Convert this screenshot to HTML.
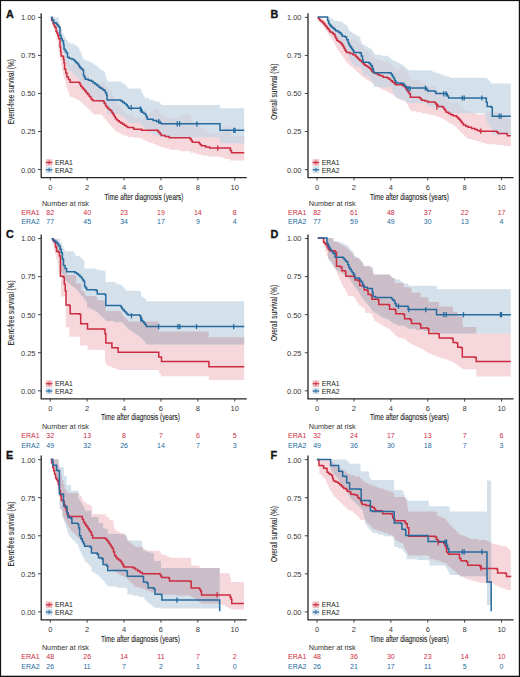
<!DOCTYPE html>
<html><head><meta charset="utf-8"><style>
html,body{margin:0;padding:0;background:#fff;}
#wrap{position:relative;width:520px;height:677px;overflow:hidden;}
svg{position:absolute;left:0;top:0;font-family:"Liberation Sans", sans-serif;}
</style></head><body><div id="wrap">
<svg width="520" height="677" viewBox="0 0 520 677">
<rect x="0" y="0" width="520" height="677" fill="#fff"/>
<g transform="translate(0 0)">
<text x="6.1" y="17.8" font-size="10.8" font-weight="bold" fill="#111" stroke="#111" stroke-width="0.3">A</text>
<text x="35.5" y="172.5" font-size="7.5" fill="#3a3a3a" text-anchor="end">0.00</text>
<line x1="38" x2="41.2" y1="169.6" y2="169.6" stroke="#333" stroke-width="0.9"/>
<text x="35.5" y="134.44" font-size="7.5" fill="#3a3a3a" text-anchor="end">0.25</text>
<line x1="38" x2="41.2" y1="131.54" y2="131.54" stroke="#333" stroke-width="0.9"/>
<text x="35.5" y="96.38" font-size="7.5" fill="#3a3a3a" text-anchor="end">0.50</text>
<line x1="38" x2="41.2" y1="93.47" y2="93.47" stroke="#333" stroke-width="0.9"/>
<text x="35.5" y="58.31" font-size="7.5" fill="#3a3a3a" text-anchor="end">0.75</text>
<line x1="38" x2="41.2" y1="55.41" y2="55.41" stroke="#333" stroke-width="0.9"/>
<text x="35.5" y="20.25" font-size="7.5" fill="#3a3a3a" text-anchor="end">1.00</text>
<line x1="38" x2="41.2" y1="17.35" y2="17.35" stroke="#333" stroke-width="0.9"/>
<line x1="50.25" x2="50.25" y1="177.6" y2="180.4" stroke="#333" stroke-width="0.9"/>
<text x="50.25" y="189.6" font-size="7.5" fill="#3a3a3a" text-anchor="middle">0</text>
<line x1="87.15" x2="87.15" y1="177.6" y2="180.4" stroke="#333" stroke-width="0.9"/>
<text x="87.15" y="189.6" font-size="7.5" fill="#3a3a3a" text-anchor="middle">2</text>
<line x1="124.05" x2="124.05" y1="177.6" y2="180.4" stroke="#333" stroke-width="0.9"/>
<text x="124.05" y="189.6" font-size="7.5" fill="#3a3a3a" text-anchor="middle">4</text>
<line x1="160.95" x2="160.95" y1="177.6" y2="180.4" stroke="#333" stroke-width="0.9"/>
<text x="160.95" y="189.6" font-size="7.5" fill="#3a3a3a" text-anchor="middle">6</text>
<line x1="197.85" x2="197.85" y1="177.6" y2="180.4" stroke="#333" stroke-width="0.9"/>
<text x="197.85" y="189.6" font-size="7.5" fill="#3a3a3a" text-anchor="middle">8</text>
<line x1="234.75" x2="234.75" y1="177.6" y2="180.4" stroke="#333" stroke-width="0.9"/>
<text x="234.75" y="189.6" font-size="7.5" fill="#3a3a3a" text-anchor="middle">10</text>
</g>
<g>
<clipPath id="clipA"><path d="M50.8 17.35L51.9 17.35L51.9 17.35L53 17.35L53 17.35L53.1 17.35L53.1 18.67L53.95 18.67L53.95 19.87L54.2 19.87L54.2 19.38L54.8 19.38L54.8 20.78L55.4 20.78L55.4 20.41L56 20.41L56 24.31L56.6 24.31L56.6 22.83L56.85 22.83L56.85 24.69L57.7 24.69L57.7 24.46L57.8 24.46L57.8 24.46L58.3 24.46L58.3 25.13L58.65 25.13L58.65 24.04L58.8 24.04L58.8 26.56L59.5 26.56L59.5 25.67L60 25.67L60 33.89L60.4 33.89L60.4 33.21L60.6 33.21L60.6 37.69L61.1 37.69L61.1 42.23L61.3 42.23L61.3 42.23L62.2 42.23L62.2 41.14L62.9 41.14L62.9 41.31L63.1 41.31L63.1 40.83L63.5 40.83L63.5 44.14L64 44.14L64 47.67L64.25 47.67L64.25 47.18L64.6 47.18L64.6 53.73L65.4 53.73L65.4 53.27L65.75 53.27L65.75 57.26L66.67 57.26L66.67 56.23L66.9 56.23L66.9 60.75L67.93 60.75L67.93 60.09L68.45 60.09L68.45 63.12L69.2 63.12L69.2 62.77L70 62.77L70 65.67L71.1 65.67L71.1 64.51L73 64.51L73 63.3L75.33 63.3L75.33 61.95L77.67 61.95L77.67 61.2L79.2 61.2L79.2 61.53L80 61.53L80 63.59L80.8 63.59L80.8 65.64L81.15 65.64L81.15 65.65L82.07 65.65L82.07 67.62L82.3 67.62L82.3 67.62L83.33 67.62L83.33 69.68L83.45 69.68L83.45 69.68L84.6 69.68L84.6 71.93L86.07 71.93L86.07 72.06L86.15 72.06L86.15 74.41L87.53 74.41L87.53 74.38L87.7 74.38L87.7 76.71L89 76.71L89 76.64L89.25 76.64L89.25 79.02L90.37 79.02L90.37 78.94L90.8 78.94L90.8 81.32L91.73 81.32L91.73 81.2L91.95 81.2L91.95 82.63L93.1 82.63L93.1 83.85L101.5 83.85L101.5 81.71L103.05 81.71L103.05 81.23L103.1 81.23L103.1 81.55L104.25 81.55L104.25 83.8L104.6 83.8L104.6 83.54L105.4 83.54L105.4 85.99L105.75 85.99L105.75 85.68L106.55 85.68L106.55 87.12L106.9 87.12L106.9 87.12L107.7 87.12L107.7 88.69L108.05 88.69L108.05 88.69L109.2 88.69L109.2 88.26L109.25 88.26L109.25 89.79L110.55 89.79L110.55 89.48L110.8 89.48L110.8 91.01L111.9 91.01L111.9 90.86L111.95 90.86L111.95 93.41L113.1 93.41L113.1 95.83L113.25 95.83L113.25 95.83L114.25 95.83L114.25 98.45L114.6 98.45L114.6 98.5L115.4 98.5L115.4 101.18L116.55 101.18L116.55 103.02L116.55 103.02L116.55 103.02L117.7 103.02L117.7 104.75L118.5 104.75L118.5 104.84L119.25 104.84L119.25 106.55L120.8 106.55L120.8 108.33L122.7 108.33L122.7 110.12L123.1 110.12L123.1 110.18L124.6 110.18L124.6 111.83L126.15 111.83L126.15 113.23L127.7 113.23L127.7 114.6L133.1 114.6L133.1 115.77L133.8 115.77L133.8 117.75L133.85 117.75L133.85 117.75L140 117.75L140 117.52L141.5 117.52L141.5 118.35L142.5 118.35L142.5 117.86L145 117.86L145 116.3L147.5 116.3L147.5 114.36L150 114.36L150 112.3L153.2 112.3L153.2 109.34L156.4 109.34L156.4 107.94L157.7 107.94L157.7 109.09L158.87 109.09L158.87 111.18L159.6 111.18L159.6 111.12L160.03 111.12L160.03 113.34L161.2 113.34L161.2 115.55L164.4 115.55L164.4 115.74L165.2 115.74L165.2 117.47L169.2 117.47L169.2 118.22L179.8 118.22L179.8 115.11L190 115.11L190 115.69L190.4 115.69L190.4 115.75L191.15 115.75L191.15 118.9L192.3 118.9L192.3 122.01L195.7 122.01L195.7 122.22L199.2 122.22L199.2 124.28L200.35 124.28L200.35 126.3L201 126.3L201 126.34L201.5 126.34L201.5 128.38L205.55 128.38L205.55 131.3L207.7 131.3L207.7 131.42L209.6 131.42L209.6 133.3L219.2 133.3L219.2 130.5L224.5 130.5L224.5 126.31L229.2 126.31L229.2 125.89L229.8 125.89L229.8 126.08L230.35 126.08L230.35 130.92L231.5 130.92L231.5 135.95L244.2 135.95L244.2 138.56L244.2 160.4L244.2 160.4L231.5 160.4L231.5 160.4L230.35 160.4L230.35 160.4L229.8 160.4L229.8 158.95L229.2 158.95L229.2 158.95L224.5 158.95L224.5 157.5L219.2 157.5L219.2 156.5L209.6 156.5L209.6 156.5L207.7 156.5L207.7 155.6L205.55 155.6L205.55 155.6L201.5 155.6L201.5 155.6L201 155.6L201 154.15L200.35 154.15L200.35 154.15L199.2 154.15L199.2 154.15L195.7 154.15L195.7 152.7L192.3 152.7L192.3 152.7L191.15 152.7L191.15 152.7L190.4 152.7L190.4 151.25L190 151.25L190 151.25L179.8 151.25L179.8 149.8L169.2 149.8L169.2 148.35L165.2 148.35L165.2 148.35L164.4 148.35L164.4 146.9L161.2 146.9L161.2 146.9L160.03 146.9L160.03 146.9L159.6 146.9L159.6 145.63L158.87 145.63L158.87 145.63L157.7 145.63L157.7 145.63L156.4 145.63L156.4 144.37L153.2 144.37L153.2 143.1L150 143.1L150 141.95L147.5 141.95L147.5 140.8L145 140.8L145 139.65L142.5 139.65L142.5 138.5L141.5 138.5L141.5 138.5L140 138.5L140 137.7L133.85 137.7L133.85 136.9L133.8 136.9L133.8 136.9L133.1 136.9L133.1 136.9L127.7 136.9L127.7 135.4L126.15 135.4L126.15 135.4L124.6 135.4L124.6 135.4L123.1 135.4L123.1 134.25L122.7 134.25L122.7 134.25L120.8 134.25L120.8 133.1L119.25 133.1L119.25 133.1L118.5 133.1L118.5 131.95L117.7 131.95L117.7 131.95L116.55 131.95L116.55 131.95L116.55 131.95L116.55 130.8L115.4 130.8L115.4 130.8L114.6 130.8L114.6 129.25L114.25 129.25L114.25 129.25L113.25 129.25L113.25 127.7L113.1 127.7L113.1 127.7L111.95 127.7L111.95 127.7L111.9 127.7L111.9 126.15L110.8 126.15L110.8 126.15L110.55 126.15L110.55 124.6L109.25 124.6L109.25 124.6L109.2 124.6L109.2 123.25L108.05 123.25L108.05 121.9L107.7 121.9L107.7 121.9L106.9 121.9L106.9 120.55L106.55 120.55L106.55 120.55L105.75 120.55L105.75 119.2L105.4 119.2L105.4 119.2L104.6 119.2L104.6 117.3L104.25 117.3L104.25 117.3L103.1 117.3L103.1 117.3L103.05 117.3L103.05 115.4L101.5 115.4L101.5 114.6L93.1 114.6L93.1 113.07L91.95 113.07L91.95 113.07L91.73 113.07L91.73 111.53L90.8 111.53L90.8 111.53L90.37 111.53L90.37 110L89.25 110L89.25 110L89 110L89 108.73L87.7 108.73L87.7 108.73L87.53 108.73L87.53 107.47L86.15 107.47L86.15 107.47L86.07 107.47L86.07 106.2L84.6 106.2L84.6 105.03L83.45 105.03L83.45 103.85L83.33 103.85L83.33 103.85L82.3 103.85L82.3 102.67L82.07 102.67L82.07 102.67L81.15 102.67L81.15 101.5L80.8 101.5L80.8 101.5L80 101.5L80 100.33L79.2 100.33L79.2 100.33L77.67 100.33L77.67 99.17L75.33 99.17L75.33 98L73 98L73 97.1L71.1 97.1L71.1 96.2L70 96.2L70 96.2L69.2 96.2L69.2 92.33L68.45 92.33L68.45 92.33L67.93 92.33L67.93 88.47L66.9 88.47L66.9 88.47L66.67 88.47L66.67 84.6L65.75 84.6L65.75 84.6L65.4 84.6L65.4 80L64.6 80L64.6 80L64.25 80L64.25 75.4L64 75.4L64 75.4L63.5 75.4L63.5 75.4L63.1 75.4L63.1 70.95L62.9 70.95L62.9 70.95L62.2 70.95L62.2 66.5L61.3 66.5L61.3 60.75L61.1 60.75L61.1 60.75L60.6 60.75L60.6 60.75L60.4 60.75L60.4 55L60 55L60 55L59.5 55L59.5 50.95L58.8 50.95L58.8 50.95L58.65 50.95L58.65 46.9L58.3 46.9L58.3 46.9L57.8 46.9L57.8 40L57.7 40L57.7 40L56.85 40L56.85 40L56.6 40L56.6 34.67L56 34.67L56 34.67L55.4 34.67L55.4 29.33L54.8 29.33L54.8 29.33L54.2 29.33L54.2 24L53.95 24L53.95 24L53.1 24L53.1 24L53 24L53 20.7L51.9 20.7L51.9 17.4L50.8 17.4Z"/></clipPath>
<path d="M50.8 17.35L51.9 17.35L51.9 17.35L53 17.35L53 17.35L53.1 17.35L53.1 18.67L53.95 18.67L53.95 19.87L54.2 19.87L54.2 19.38L54.8 19.38L54.8 20.78L55.4 20.78L55.4 20.41L56 20.41L56 24.31L56.6 24.31L56.6 22.83L56.85 22.83L56.85 24.69L57.7 24.69L57.7 24.46L57.8 24.46L57.8 24.46L58.3 24.46L58.3 25.13L58.65 25.13L58.65 24.04L58.8 24.04L58.8 26.56L59.5 26.56L59.5 25.67L60 25.67L60 33.89L60.4 33.89L60.4 33.21L60.6 33.21L60.6 37.69L61.1 37.69L61.1 42.23L61.3 42.23L61.3 42.23L62.2 42.23L62.2 41.14L62.9 41.14L62.9 41.31L63.1 41.31L63.1 40.83L63.5 40.83L63.5 44.14L64 44.14L64 47.67L64.25 47.67L64.25 47.18L64.6 47.18L64.6 53.73L65.4 53.73L65.4 53.27L65.75 53.27L65.75 57.26L66.67 57.26L66.67 56.23L66.9 56.23L66.9 60.75L67.93 60.75L67.93 60.09L68.45 60.09L68.45 63.12L69.2 63.12L69.2 62.77L70 62.77L70 65.67L71.1 65.67L71.1 64.51L73 64.51L73 63.3L75.33 63.3L75.33 61.95L77.67 61.95L77.67 61.2L79.2 61.2L79.2 61.53L80 61.53L80 63.59L80.8 63.59L80.8 65.64L81.15 65.64L81.15 65.65L82.07 65.65L82.07 67.62L82.3 67.62L82.3 67.62L83.33 67.62L83.33 69.68L83.45 69.68L83.45 69.68L84.6 69.68L84.6 71.93L86.07 71.93L86.07 72.06L86.15 72.06L86.15 74.41L87.53 74.41L87.53 74.38L87.7 74.38L87.7 76.71L89 76.71L89 76.64L89.25 76.64L89.25 79.02L90.37 79.02L90.37 78.94L90.8 78.94L90.8 81.32L91.73 81.32L91.73 81.2L91.95 81.2L91.95 82.63L93.1 82.63L93.1 83.85L101.5 83.85L101.5 81.71L103.05 81.71L103.05 81.23L103.1 81.23L103.1 81.55L104.25 81.55L104.25 83.8L104.6 83.8L104.6 83.54L105.4 83.54L105.4 85.99L105.75 85.99L105.75 85.68L106.55 85.68L106.55 87.12L106.9 87.12L106.9 87.12L107.7 87.12L107.7 88.69L108.05 88.69L108.05 88.69L109.2 88.69L109.2 88.26L109.25 88.26L109.25 89.79L110.55 89.79L110.55 89.48L110.8 89.48L110.8 91.01L111.9 91.01L111.9 90.86L111.95 90.86L111.95 93.41L113.1 93.41L113.1 95.83L113.25 95.83L113.25 95.83L114.25 95.83L114.25 98.45L114.6 98.45L114.6 98.5L115.4 98.5L115.4 101.18L116.55 101.18L116.55 103.02L116.55 103.02L116.55 103.02L117.7 103.02L117.7 104.75L118.5 104.75L118.5 104.84L119.25 104.84L119.25 106.55L120.8 106.55L120.8 108.33L122.7 108.33L122.7 110.12L123.1 110.12L123.1 110.18L124.6 110.18L124.6 111.83L126.15 111.83L126.15 113.23L127.7 113.23L127.7 114.6L133.1 114.6L133.1 115.77L133.8 115.77L133.8 117.75L133.85 117.75L133.85 117.75L140 117.75L140 117.52L141.5 117.52L141.5 118.35L142.5 118.35L142.5 117.86L145 117.86L145 116.3L147.5 116.3L147.5 114.36L150 114.36L150 112.3L153.2 112.3L153.2 109.34L156.4 109.34L156.4 107.94L157.7 107.94L157.7 109.09L158.87 109.09L158.87 111.18L159.6 111.18L159.6 111.12L160.03 111.12L160.03 113.34L161.2 113.34L161.2 115.55L164.4 115.55L164.4 115.74L165.2 115.74L165.2 117.47L169.2 117.47L169.2 118.22L179.8 118.22L179.8 115.11L190 115.11L190 115.69L190.4 115.69L190.4 115.75L191.15 115.75L191.15 118.9L192.3 118.9L192.3 122.01L195.7 122.01L195.7 122.22L199.2 122.22L199.2 124.28L200.35 124.28L200.35 126.3L201 126.3L201 126.34L201.5 126.34L201.5 128.38L205.55 128.38L205.55 131.3L207.7 131.3L207.7 131.42L209.6 131.42L209.6 133.3L219.2 133.3L219.2 130.5L224.5 130.5L224.5 126.31L229.2 126.31L229.2 125.89L229.8 125.89L229.8 126.08L230.35 126.08L230.35 130.92L231.5 130.92L231.5 135.95L244.2 135.95L244.2 138.56L244.2 160.4L244.2 160.4L231.5 160.4L231.5 160.4L230.35 160.4L230.35 160.4L229.8 160.4L229.8 158.95L229.2 158.95L229.2 158.95L224.5 158.95L224.5 157.5L219.2 157.5L219.2 156.5L209.6 156.5L209.6 156.5L207.7 156.5L207.7 155.6L205.55 155.6L205.55 155.6L201.5 155.6L201.5 155.6L201 155.6L201 154.15L200.35 154.15L200.35 154.15L199.2 154.15L199.2 154.15L195.7 154.15L195.7 152.7L192.3 152.7L192.3 152.7L191.15 152.7L191.15 152.7L190.4 152.7L190.4 151.25L190 151.25L190 151.25L179.8 151.25L179.8 149.8L169.2 149.8L169.2 148.35L165.2 148.35L165.2 148.35L164.4 148.35L164.4 146.9L161.2 146.9L161.2 146.9L160.03 146.9L160.03 146.9L159.6 146.9L159.6 145.63L158.87 145.63L158.87 145.63L157.7 145.63L157.7 145.63L156.4 145.63L156.4 144.37L153.2 144.37L153.2 143.1L150 143.1L150 141.95L147.5 141.95L147.5 140.8L145 140.8L145 139.65L142.5 139.65L142.5 138.5L141.5 138.5L141.5 138.5L140 138.5L140 137.7L133.85 137.7L133.85 136.9L133.8 136.9L133.8 136.9L133.1 136.9L133.1 136.9L127.7 136.9L127.7 135.4L126.15 135.4L126.15 135.4L124.6 135.4L124.6 135.4L123.1 135.4L123.1 134.25L122.7 134.25L122.7 134.25L120.8 134.25L120.8 133.1L119.25 133.1L119.25 133.1L118.5 133.1L118.5 131.95L117.7 131.95L117.7 131.95L116.55 131.95L116.55 131.95L116.55 131.95L116.55 130.8L115.4 130.8L115.4 130.8L114.6 130.8L114.6 129.25L114.25 129.25L114.25 129.25L113.25 129.25L113.25 127.7L113.1 127.7L113.1 127.7L111.95 127.7L111.95 127.7L111.9 127.7L111.9 126.15L110.8 126.15L110.8 126.15L110.55 126.15L110.55 124.6L109.25 124.6L109.25 124.6L109.2 124.6L109.2 123.25L108.05 123.25L108.05 121.9L107.7 121.9L107.7 121.9L106.9 121.9L106.9 120.55L106.55 120.55L106.55 120.55L105.75 120.55L105.75 119.2L105.4 119.2L105.4 119.2L104.6 119.2L104.6 117.3L104.25 117.3L104.25 117.3L103.1 117.3L103.1 117.3L103.05 117.3L103.05 115.4L101.5 115.4L101.5 114.6L93.1 114.6L93.1 113.07L91.95 113.07L91.95 113.07L91.73 113.07L91.73 111.53L90.8 111.53L90.8 111.53L90.37 111.53L90.37 110L89.25 110L89.25 110L89 110L89 108.73L87.7 108.73L87.7 108.73L87.53 108.73L87.53 107.47L86.15 107.47L86.15 107.47L86.07 107.47L86.07 106.2L84.6 106.2L84.6 105.03L83.45 105.03L83.45 103.85L83.33 103.85L83.33 103.85L82.3 103.85L82.3 102.67L82.07 102.67L82.07 102.67L81.15 102.67L81.15 101.5L80.8 101.5L80.8 101.5L80 101.5L80 100.33L79.2 100.33L79.2 100.33L77.67 100.33L77.67 99.17L75.33 99.17L75.33 98L73 98L73 97.1L71.1 97.1L71.1 96.2L70 96.2L70 96.2L69.2 96.2L69.2 92.33L68.45 92.33L68.45 92.33L67.93 92.33L67.93 88.47L66.9 88.47L66.9 88.47L66.67 88.47L66.67 84.6L65.75 84.6L65.75 84.6L65.4 84.6L65.4 80L64.6 80L64.6 80L64.25 80L64.25 75.4L64 75.4L64 75.4L63.5 75.4L63.5 75.4L63.1 75.4L63.1 70.95L62.9 70.95L62.9 70.95L62.2 70.95L62.2 66.5L61.3 66.5L61.3 60.75L61.1 60.75L61.1 60.75L60.6 60.75L60.6 60.75L60.4 60.75L60.4 55L60 55L60 55L59.5 55L59.5 50.95L58.8 50.95L58.8 50.95L58.65 50.95L58.65 46.9L58.3 46.9L58.3 46.9L57.8 46.9L57.8 40L57.7 40L57.7 40L56.85 40L56.85 40L56.6 40L56.6 34.67L56 34.67L56 34.67L55.4 34.67L55.4 29.33L54.8 29.33L54.8 29.33L54.2 29.33L54.2 24L53.95 24L53.95 24L53.1 24L53.1 24L53 24L53 20.7L51.9 20.7L51.9 17.4L50.8 17.4Z" fill="#f6d7dc" stroke="none"/>
<path d="M50.8 17.4L52.25 17.4L52.25 17.4L53.7 17.4L53.7 17.4L56 17.4L56 17.4L56.85 17.4L56.85 17.4L57.7 17.4L57.7 17.4L58.55 17.4L58.55 17.4L58.8 17.4L58.8 21L59.4 21L59.4 27.3L60 27.3L60 27.3L60.25 27.3L60.25 28.15L61.1 28.15L61.1 29L62.3 29L62.3 33.1L63.5 33.1L63.5 35.4L64 35.4L64 35.4L64.6 35.4L64.6 37.7L65.2 37.7L65.2 37.7L66.05 37.7L66.05 40L66.3 40L66.3 40L67.5 40L67.5 42.3L69.2 42.3L69.2 42.3L70.4 42.3L70.4 43.4L72.1 43.4L72.1 43.4L73.8 43.4L73.8 44.6L74.4 44.6L74.4 44.6L75.25 44.6L75.25 44.6L75.85 44.6L75.85 46.05L76.1 46.05L76.1 46.05L77 46.05L77 46.05L77.9 46.05L77.9 47.5L78.75 47.5L78.75 47.5L79.35 47.5L79.35 50.65L79.6 50.65L79.6 50.65L80.45 50.65L80.45 50.65L80.8 50.65L80.8 53.8L81.3 53.8L81.3 53.8L81.95 53.8L81.95 56.7L82.5 56.7L82.5 56.7L83.1 56.7L83.1 59.6L83.5 59.6L83.5 59.6L84.45 59.6L84.45 59.6L85.4 59.6L85.4 59.6L86.05 59.6L86.05 60.8L88.3 60.8L88.3 60.8L89 60.8L89 62L91.2 62L91.2 63.1L93.1 63.1L93.1 63.1L93.4 63.1L93.4 64.2L95 64.2L95 64.2L95.15 64.2L95.15 65.35L96.9 65.35L96.9 66.5L98.45 66.5L98.45 68.15L98.8 68.15L98.8 68.15L99.95 68.15L99.95 68.15L100 68.15L100 69.8L101.1 69.8L101.1 69.8L101.95 69.8L101.95 70.85L102.75 70.85L102.75 70.85L103.9 70.85L103.9 71.9L104.4 71.9L104.4 71.9L105.2 71.9L105.2 76.2L105.45 76.2L105.45 76.2L106.5 76.2L106.5 80.1L107.1 80.1L107.1 80.1L107.8 80.1L107.8 81.4L120.6 81.4L120.6 81.4L120.8 81.4L120.8 81.4L121.6 81.4L121.6 83.2L122.4 83.2L122.4 83.2L124.2 83.2L124.2 84.5L126 84.5L126 85.8L126.85 85.8L126.85 87.1L127.3 87.1L127.3 87.1L127.7 87.1L127.7 88.4L128.6 88.4L128.6 88.4L140.1 88.4L140.1 88.4L140.7 88.4L140.7 89.2L140.8 89.2L140.8 89.2L141.5 89.2L141.5 92.7L142.1 92.7L142.1 92.7L142.6 92.7L142.6 94.5L143.7 94.5L143.7 96.3L143.8 96.3L143.8 96.3L144.8 96.3L144.8 98.1L145.5 98.1L145.5 98.1L146.4 98.1L146.4 98.1L147.3 98.1L147.3 98.1L148.85 98.1L148.85 99.45L152.9 99.45L152.9 100.8L153.1 100.8L153.1 100.8L156.25 100.8L156.25 101.8L156.55 101.8L156.55 101.8L159.6 101.8L159.6 102.8L160 102.8L160 102.8L160.4 102.8L160.4 103.85L161.2 103.85L161.2 104.9L218.8 104.9L218.8 104.9L220 104.9L220 108.2L244.2 108.2L244.2 108.2L244.2 144.45L244.2 143.32L220 143.32L220 138.68L218.8 138.68L218.8 137.19L161.2 137.19L161.2 136.4L160.4 136.4L160.4 136.39L160 136.39L160 135.57L159.6 135.57L159.6 135.48L156.55 135.48L156.55 134.64L156.25 134.64L156.25 134.53L153.1 134.53L153.1 133.66L152.9 133.66L152.9 132.87L148.85 132.87L148.85 132.55L147.3 132.55L147.3 130.77L146.4 130.77L146.4 128.99L145.5 128.99L145.5 127.86L144.8 127.86L144.8 127.6L143.8 127.6L143.8 126.59L143.7 126.59L143.7 126.32L142.6 126.32L142.6 126.18L142.1 126.18L142.1 124.44L141.5 124.44L141.5 124.39L140.8 124.39L140.8 122.86L140.7 122.86L140.7 122.86L140.1 122.86L140.1 122.63L128.6 122.63L128.6 121.19L127.7 121.19L127.7 121.11L127.3 121.11L127.3 119.72L126.85 119.72L126.85 119.58L126 119.58L126 118.33L124.2 118.33L124.2 117.03L122.4 117.03L122.4 115.96L121.6 115.96L121.6 115.89L120.8 115.89L120.8 115.89L120.6 115.89L120.6 113.99L107.8 113.99L107.8 113.89L107.1 113.89L107.1 109.58L106.5 109.58L106.5 107.62L105.45 107.62L105.45 105.88L105.2 105.88L105.2 105.64L104.4 105.64L104.4 104.67L103.9 104.67L103.9 104.44L102.75 104.44L102.75 103.35L101.95 103.35L101.95 103.31L101.1 103.31L101.1 102.79L100 102.79L100 102.79L99.95 102.79L99.95 102.14L98.8 102.14L98.8 100.91L98.45 100.91L98.45 100.75L96.9 100.75L96.9 99.4L95.15 99.4L95.15 99.35L95 99.35L95 98.04L93.4 98.04L93.4 98.04L93.1 98.04L93.1 96.64L91.2 96.64L91.2 95.44L89 95.44L89 95.25L88.3 95.25L88.3 93.27L86.05 93.27L86.05 93.09L85.4 93.09L85.4 91.15L84.45 91.15L84.45 89.22L83.5 89.22L83.5 84.52L83.1 84.52L83.1 84.17L82.5 84.17L82.5 82.96L81.95 82.96L81.95 82.76L81.3 82.76L81.3 81.83L80.8 81.83L80.8 81.62L80.45 81.62L80.45 80.67L79.6 80.67L79.6 79.22L79.35 79.22L79.35 79.08L78.75 79.08L78.75 77.66L77.9 77.66L77.9 77.04L77 77.04L77 76.34L76.1 76.34L76.1 75.57L75.85 75.57L75.85 75.56L75.25 75.56L75.25 74.69L74.4 74.69L74.4 73.66L73.8 73.66L73.8 73.37L72.1 73.37L72.1 71.56L70.4 71.56L70.4 71.2L69.2 71.2L69.2 69.01L67.5 69.01L67.5 64.24L66.3 64.24L66.3 62.29L66.05 62.29L66.05 61.92L65.2 61.92L65.2 59.89L64.6 59.89L64.6 58.76L64 58.76L64 54.07L63.5 54.07L63.5 49.99L62.3 49.99L62.3 47.02L61.1 47.02L61.1 43.11L60.25 43.11L60.25 42.74L60 42.74L60 34.69L59.4 34.69L59.4 33.47L58.8 33.47L58.8 33.47L58.55 33.47L58.55 31.98L57.7 31.98L57.7 30.26L56.85 30.26L56.85 28.28L56 28.28L56 27.45L53.7 27.45L53.7 24.46L52.25 24.46L52.25 21.2L50.8 21.2Z" fill="#d5e1ea" stroke="none"/>
<path d="M50.8 17.4L52.25 17.4L52.25 17.4L53.7 17.4L53.7 17.4L56 17.4L56 17.4L56.85 17.4L56.85 17.4L57.7 17.4L57.7 17.4L58.55 17.4L58.55 17.4L58.8 17.4L58.8 21L59.4 21L59.4 27.3L60 27.3L60 27.3L60.25 27.3L60.25 28.15L61.1 28.15L61.1 29L62.3 29L62.3 33.1L63.5 33.1L63.5 35.4L64 35.4L64 35.4L64.6 35.4L64.6 37.7L65.2 37.7L65.2 37.7L66.05 37.7L66.05 40L66.3 40L66.3 40L67.5 40L67.5 42.3L69.2 42.3L69.2 42.3L70.4 42.3L70.4 43.4L72.1 43.4L72.1 43.4L73.8 43.4L73.8 44.6L74.4 44.6L74.4 44.6L75.25 44.6L75.25 44.6L75.85 44.6L75.85 46.05L76.1 46.05L76.1 46.05L77 46.05L77 46.05L77.9 46.05L77.9 47.5L78.75 47.5L78.75 47.5L79.35 47.5L79.35 50.65L79.6 50.65L79.6 50.65L80.45 50.65L80.45 50.65L80.8 50.65L80.8 53.8L81.3 53.8L81.3 53.8L81.95 53.8L81.95 56.7L82.5 56.7L82.5 56.7L83.1 56.7L83.1 59.6L83.5 59.6L83.5 59.6L84.45 59.6L84.45 59.6L85.4 59.6L85.4 59.6L86.05 59.6L86.05 60.8L88.3 60.8L88.3 60.8L89 60.8L89 62L91.2 62L91.2 63.1L93.1 63.1L93.1 63.1L93.4 63.1L93.4 64.2L95 64.2L95 64.2L95.15 64.2L95.15 65.35L96.9 65.35L96.9 66.5L98.45 66.5L98.45 68.15L98.8 68.15L98.8 68.15L99.95 68.15L99.95 68.15L100 68.15L100 69.8L101.1 69.8L101.1 69.8L101.95 69.8L101.95 70.85L102.75 70.85L102.75 70.85L103.9 70.85L103.9 71.9L104.4 71.9L104.4 71.9L105.2 71.9L105.2 76.2L105.45 76.2L105.45 76.2L106.5 76.2L106.5 80.1L107.1 80.1L107.1 80.1L107.8 80.1L107.8 81.4L120.6 81.4L120.6 81.4L120.8 81.4L120.8 81.4L121.6 81.4L121.6 83.2L122.4 83.2L122.4 83.2L124.2 83.2L124.2 84.5L126 84.5L126 85.8L126.85 85.8L126.85 87.1L127.3 87.1L127.3 87.1L127.7 87.1L127.7 88.4L128.6 88.4L128.6 88.4L140.1 88.4L140.1 88.4L140.7 88.4L140.7 89.2L140.8 89.2L140.8 89.2L141.5 89.2L141.5 92.7L142.1 92.7L142.1 92.7L142.6 92.7L142.6 94.5L143.7 94.5L143.7 96.3L143.8 96.3L143.8 96.3L144.8 96.3L144.8 98.1L145.5 98.1L145.5 98.1L146.4 98.1L146.4 98.1L147.3 98.1L147.3 98.1L148.85 98.1L148.85 99.45L152.9 99.45L152.9 100.8L153.1 100.8L153.1 100.8L156.25 100.8L156.25 101.8L156.55 101.8L156.55 101.8L159.6 101.8L159.6 102.8L160 102.8L160 102.8L160.4 102.8L160.4 103.85L161.2 103.85L161.2 104.9L218.8 104.9L218.8 104.9L220 104.9L220 108.2L244.2 108.2L244.2 108.2L244.2 144.45L244.2 143.32L220 143.32L220 138.68L218.8 138.68L218.8 137.19L161.2 137.19L161.2 136.4L160.4 136.4L160.4 136.39L160 136.39L160 135.57L159.6 135.57L159.6 135.48L156.55 135.48L156.55 134.64L156.25 134.64L156.25 134.53L153.1 134.53L153.1 133.66L152.9 133.66L152.9 132.87L148.85 132.87L148.85 132.55L147.3 132.55L147.3 130.77L146.4 130.77L146.4 128.99L145.5 128.99L145.5 127.86L144.8 127.86L144.8 127.6L143.8 127.6L143.8 126.59L143.7 126.59L143.7 126.32L142.6 126.32L142.6 126.18L142.1 126.18L142.1 124.44L141.5 124.44L141.5 124.39L140.8 124.39L140.8 122.86L140.7 122.86L140.7 122.86L140.1 122.86L140.1 122.63L128.6 122.63L128.6 121.19L127.7 121.19L127.7 121.11L127.3 121.11L127.3 119.72L126.85 119.72L126.85 119.58L126 119.58L126 118.33L124.2 118.33L124.2 117.03L122.4 117.03L122.4 115.96L121.6 115.96L121.6 115.89L120.8 115.89L120.8 115.89L120.6 115.89L120.6 113.99L107.8 113.99L107.8 113.89L107.1 113.89L107.1 109.58L106.5 109.58L106.5 107.62L105.45 107.62L105.45 105.88L105.2 105.88L105.2 105.64L104.4 105.64L104.4 104.67L103.9 104.67L103.9 104.44L102.75 104.44L102.75 103.35L101.95 103.35L101.95 103.31L101.1 103.31L101.1 102.79L100 102.79L100 102.79L99.95 102.79L99.95 102.14L98.8 102.14L98.8 100.91L98.45 100.91L98.45 100.75L96.9 100.75L96.9 99.4L95.15 99.4L95.15 99.35L95 99.35L95 98.04L93.4 98.04L93.4 98.04L93.1 98.04L93.1 96.64L91.2 96.64L91.2 95.44L89 95.44L89 95.25L88.3 95.25L88.3 93.27L86.05 93.27L86.05 93.09L85.4 93.09L85.4 91.15L84.45 91.15L84.45 89.22L83.5 89.22L83.5 84.52L83.1 84.52L83.1 84.17L82.5 84.17L82.5 82.96L81.95 82.96L81.95 82.76L81.3 82.76L81.3 81.83L80.8 81.83L80.8 81.62L80.45 81.62L80.45 80.67L79.6 80.67L79.6 79.22L79.35 79.22L79.35 79.08L78.75 79.08L78.75 77.66L77.9 77.66L77.9 77.04L77 77.04L77 76.34L76.1 76.34L76.1 75.57L75.85 75.57L75.85 75.56L75.25 75.56L75.25 74.69L74.4 74.69L74.4 73.66L73.8 73.66L73.8 73.37L72.1 73.37L72.1 71.56L70.4 71.56L70.4 71.2L69.2 71.2L69.2 69.01L67.5 69.01L67.5 64.24L66.3 64.24L66.3 62.29L66.05 62.29L66.05 61.92L65.2 61.92L65.2 59.89L64.6 59.89L64.6 58.76L64 58.76L64 54.07L63.5 54.07L63.5 49.99L62.3 49.99L62.3 47.02L61.1 47.02L61.1 43.11L60.25 43.11L60.25 42.74L60 42.74L60 34.69L59.4 34.69L59.4 33.47L58.8 33.47L58.8 33.47L58.55 33.47L58.55 31.98L57.7 31.98L57.7 30.26L56.85 30.26L56.85 28.28L56 28.28L56 27.45L53.7 27.45L53.7 24.46L52.25 24.46L52.25 21.2L50.8 21.2Z" fill="#d3d5e1" stroke="none" clip-path="url(#clipA)"/>
<path d="M50.8 17.4H51.9V20.4H53.1V23.8H53.95V25.55H54.8V27.3H56V31.3H56.85V33.05H57.7V34.8H58.3V36.5H58.8V38.8H60V46.9H60.6V51.5H61.1V56.1H62.9V56.7H63.5V59.6H64V63.1H64.6V69.2H65.75V73.05H66.9V76.9H68.45V79.6H70V82.3H79.2V82.8H80V84.5H80.8V86.2H82.07V87.73H83.33V89.27H84.6V90.8H86.15V92.7H87.7V94.6H89.25V96.55H90.8V98.5H91.95V99.65H93.1V100.8H103.1V101.2H104.25V103.3H105.4V105.4H106.55V106.95H107.7V108.5H109.25V109.65H110.8V110.8H111.95V112.7H113.1V114.6H114.25V116.55H115.4V118.5H116.55V119.65H117.7V120.8H119.25V121.95H120.8V123.1H122.7V124.25H124.6V125.4H126.15V126.4H127.7V127.4H133.1V127.7H133.8V129.2H141.5V130.3H157.7V131.2H158.87V132.6H160.03V134H161.2V135.4H165.2V136.55H169.2V137.7H190V138.8H191.15V140.55H192.3V142.3H199.2V143.5H200.35V144.65H201.5V145.8H205.55V146.95H209.6V148.1H229.2H230.35V150.4H231.5V152.7H244.2" fill="none" stroke="#cc2c40" stroke-width="1.5"/>
<path d="M50.8 17.4H52.25V20.05H53.7V22.7H56V23.3H56.85V24.45H57.7V25.6H58.55V26.45H59.4V27.3H60V35.4H61.1V38.8H62.3V41.1H63.5V44.6H64V49.2H65.2V50.9H66.3V52.7H67.5V57.3H69.2V58.4H72.1V59.6H74.4V60.7H75.25V61.6H76.1V62.5H77V63.35H77.9V64.2H78.75V65.65H79.6V67.1H80.45V67.95H81.3V68.8H82.5V70H83.5V75.5H84.45V77.4H85.4V79.3H88.3V80.25H91.2V81.2H93.1V82.65H95V84.1H96.9V85.55H98.8V87H99.95V87.8H101.1V88.6H102.75V89.65H104.4V90.7H105.45V92.85H106.5V95H107.1V100.1H120.6V100.8H122.4V102.13H124.2V103.47H126V104.8H127.3V106.5H128.6V108.2H140.1H140.8V110.2H142.1V112.2H143.8V113.55H145.5V114.9H146.4V117.05H147.3V119.2H153.1V120.4H156.55V121.55H160V122.7H161.2V123.8H218.8H220V130.3H244.2" fill="none" stroke="#266a9e" stroke-width="1.5"/>
<line x1="217.7" x2="217.7" y1="145.5" y2="150.7" stroke="#cc2c40" stroke-width="1.3"/>
<line x1="131.2" x2="131.2" y1="105.1" y2="110.3" stroke="#266a9e" stroke-width="1.3"/>
<line x1="140.4" x2="140.4" y1="106.4" y2="111.6" stroke="#266a9e" stroke-width="1.3"/>
<line x1="141.4" x2="141.4" y1="107.9" y2="113.1" stroke="#266a9e" stroke-width="1.3"/>
<line x1="158.8" x2="158.8" y1="118.9" y2="124.1" stroke="#266a9e" stroke-width="1.3"/>
<line x1="177.3" x2="177.3" y1="121.2" y2="126.4" stroke="#266a9e" stroke-width="1.3"/>
<line x1="179.6" x2="179.6" y1="121.2" y2="126.4" stroke="#266a9e" stroke-width="1.3"/>
<line x1="196.9" x2="196.9" y1="121.2" y2="126.4" stroke="#266a9e" stroke-width="1.3"/>
<line x1="233.8" x2="233.8" y1="127.7" y2="132.9" stroke="#266a9e" stroke-width="1.3"/>
<line x1="235" x2="235" y1="127.7" y2="132.9" stroke="#266a9e" stroke-width="1.3"/>
</g>
<g transform="translate(0 0)">
<path d="M41.2 13.2V177.6H246.8" fill="none" stroke="#262626" stroke-width="1.3"/>
<rect x="45.8" y="159.2" width="6.6" height="6.6" fill="#cc2c40" fill-opacity="0.3"/>
<line x1="45.8" x2="52.4" y1="162.5" y2="162.5" stroke="#cc2c40" stroke-width="1.2"/>
<line x1="49.1" x2="49.1" y1="160.5" y2="164.5" stroke="#cc2c40" stroke-width="0.9"/>
<rect x="45.8" y="166.5" width="6.6" height="6.6" fill="#266a9e" fill-opacity="0.2"/>
<line x1="45.8" x2="52.4" y1="169.8" y2="169.8" stroke="#266a9e" stroke-width="1.2"/>
<line x1="49.1" x2="49.1" y1="167.8" y2="171.8" stroke="#266a9e" stroke-width="0.9"/>
<text x="55" y="165.1" font-size="6.8" fill="#222">ERA1</text>
<text x="55" y="172.5" font-size="6.8" fill="#222">ERA2</text>
<text x="143.9" y="199.7" font-size="8.4" fill="#1a1a1a" stroke="#1a1a1a" stroke-width="0.1" text-anchor="middle" textLength="79" lengthAdjust="spacingAndGlyphs">Time after diagnosis (years)</text>
<text transform="translate(13.6 91.7) rotate(-90)" x="0" y="0" font-size="8.4" fill="#1a1a1a" stroke="#1a1a1a" stroke-width="0.1" text-anchor="middle" textLength="65" lengthAdjust="spacingAndGlyphs">Event-free survival (%)</text>
<text x="41.9" y="205.9" font-size="7.2" fill="#333" textLength="47" lengthAdjust="spacingAndGlyphs">Number at risk</text>
<text x="21.25" y="214.6" font-size="7" fill="#cc2c40">ERA1</text>
<text x="21.25" y="223.7" font-size="7" fill="#266a9e">ERA2</text>
<text x="50.25" y="214.6" font-size="7" fill="#cc2c40" text-anchor="middle">82</text>
<text x="50.25" y="223.7" font-size="7" fill="#266a9e" text-anchor="middle">77</text>
<text x="87.15" y="214.6" font-size="7" fill="#cc2c40" text-anchor="middle">40</text>
<text x="87.15" y="223.7" font-size="7" fill="#266a9e" text-anchor="middle">45</text>
<text x="124.05" y="214.6" font-size="7" fill="#cc2c40" text-anchor="middle">23</text>
<text x="124.05" y="223.7" font-size="7" fill="#266a9e" text-anchor="middle">34</text>
<text x="160.95" y="214.6" font-size="7" fill="#cc2c40" text-anchor="middle">19</text>
<text x="160.95" y="223.7" font-size="7" fill="#266a9e" text-anchor="middle">17</text>
<text x="197.85" y="214.6" font-size="7" fill="#cc2c40" text-anchor="middle">14</text>
<text x="197.85" y="223.7" font-size="7" fill="#266a9e" text-anchor="middle">9</text>
<text x="234.75" y="214.6" font-size="7" fill="#cc2c40" text-anchor="middle">8</text>
<text x="234.75" y="223.7" font-size="7" fill="#266a9e" text-anchor="middle">4</text>
</g>
<g transform="translate(266.8 0)">
<text x="3.6" y="17.8" font-size="10.8" font-weight="bold" fill="#111" stroke="#111" stroke-width="0.3">B</text>
<text x="34.7" y="172.5" font-size="7.5" fill="#3a3a3a" text-anchor="end">0.00</text>
<line x1="38" x2="41.2" y1="169.6" y2="169.6" stroke="#333" stroke-width="0.9"/>
<text x="34.7" y="134.44" font-size="7.5" fill="#3a3a3a" text-anchor="end">0.25</text>
<line x1="38" x2="41.2" y1="131.54" y2="131.54" stroke="#333" stroke-width="0.9"/>
<text x="34.7" y="96.38" font-size="7.5" fill="#3a3a3a" text-anchor="end">0.50</text>
<line x1="38" x2="41.2" y1="93.47" y2="93.47" stroke="#333" stroke-width="0.9"/>
<text x="34.7" y="58.31" font-size="7.5" fill="#3a3a3a" text-anchor="end">0.75</text>
<line x1="38" x2="41.2" y1="55.41" y2="55.41" stroke="#333" stroke-width="0.9"/>
<text x="34.7" y="20.25" font-size="7.5" fill="#3a3a3a" text-anchor="end">1.00</text>
<line x1="38" x2="41.2" y1="17.35" y2="17.35" stroke="#333" stroke-width="0.9"/>
<line x1="50.25" x2="50.25" y1="177.6" y2="180.4" stroke="#333" stroke-width="0.9"/>
<text x="50.25" y="189.6" font-size="7.5" fill="#3a3a3a" text-anchor="middle">0</text>
<line x1="87.15" x2="87.15" y1="177.6" y2="180.4" stroke="#333" stroke-width="0.9"/>
<text x="87.15" y="189.6" font-size="7.5" fill="#3a3a3a" text-anchor="middle">2</text>
<line x1="124.05" x2="124.05" y1="177.6" y2="180.4" stroke="#333" stroke-width="0.9"/>
<text x="124.05" y="189.6" font-size="7.5" fill="#3a3a3a" text-anchor="middle">4</text>
<line x1="160.95" x2="160.95" y1="177.6" y2="180.4" stroke="#333" stroke-width="0.9"/>
<text x="160.95" y="189.6" font-size="7.5" fill="#3a3a3a" text-anchor="middle">6</text>
<line x1="197.85" x2="197.85" y1="177.6" y2="180.4" stroke="#333" stroke-width="0.9"/>
<text x="197.85" y="189.6" font-size="7.5" fill="#3a3a3a" text-anchor="middle">8</text>
<line x1="234.75" x2="234.75" y1="177.6" y2="180.4" stroke="#333" stroke-width="0.9"/>
<text x="234.75" y="189.6" font-size="7.5" fill="#3a3a3a" text-anchor="middle">10</text>
</g>
<g>
<clipPath id="clipB"><path d="M317.8 17.35L318.3 17.35L318.3 17.35L318.95 17.35L318.95 17.35L319.2 17.35L319.2 17.35L320.1 17.35L320.1 17.38L321.25 17.38L321.25 17.35L321.55 17.35L321.55 18.26L322.4 18.26L322.4 18.17L323 18.17L323 19.26L323.55 19.26L323.55 18.83L324.13 18.83L324.13 20.01L324.7 20.01L324.7 19.82L325.27 19.82L325.27 21.02L325.85 21.02L325.85 20.83L326.4 20.83L326.4 22.01L327 22.01L327 21.78L327.3 21.78L327.3 22.73L328.15 22.73L328.15 22.23L328.2 22.23L328.2 23.43L329.3 23.43L329.3 24.69L330.45 24.69L330.45 24.16L330.5 24.16L330.5 25.42L331.6 25.42L331.6 24.68L332.2 24.68L332.2 25.05L332.75 25.05L332.75 24.77L333.05 24.77L333.05 25.67L333.9 25.67L333.9 25.98L335.07 25.98L335.07 25L335.1 25L335.1 27.46L335.95 27.46L335.95 29L336.23 29L336.23 28.68L336.8 28.68L336.8 30.28L337.4 30.28L337.4 30.02L337.95 30.02L337.95 30.7L338.55 30.7L338.55 30.48L339.1 30.48L339.1 31.02L339.7 31.02L339.7 30.85L340.25 30.85L340.25 31.61L340.85 31.61L340.85 31.44L341.4 31.44L341.4 32.21L342 32.21L342 32.05L342.3 32.05L342.3 33.46L343.17 33.46L343.17 33.12L343.2 33.12L343.2 34.71L344.05 34.71L344.05 36.46L344.33 36.46L344.33 36.28L344.9 36.28L344.9 38.02L345.5 38.02L345.5 37.83L345.75 37.83L345.75 38.91L346.6 38.91L346.6 39.82L346.65 39.82L346.65 39.82L347.8 39.82L347.8 39.42L348.95 39.42L348.95 38.98L350.1 38.98L350.1 39.42L351.53 39.42L351.53 38.88L352.95 38.88L352.95 38.06L353 38.06L353 39.42L354.38 39.42L354.38 38.74L355.3 38.74L355.3 39.63L355.8 39.63L355.8 39.47L356.15 39.47L356.15 40.35L356.98 40.35L356.98 40.22L357 40.22L357 41.25L357.85 41.25L357.85 42.02L358.15 42.02L358.15 41.93L358.7 41.93L358.7 42.84L359.32 42.84L359.32 42.8L359.6 42.8L359.6 43.8L360.5 43.8L360.5 44.81L361.8 44.81L361.8 46.06L362.03 46.06L362.03 46.06L363.1 46.06L363.1 47.29L363.57 47.29L363.57 47.27L363.95 47.27L363.95 48.3L364.8 48.3L364.8 49.3L365.1 49.3L365.1 49.29L366.25 49.29L366.25 50.32L366.83 50.32L366.83 50.36L367.7 50.36L367.7 51.46L368.55 51.46L368.55 51.58L368.85 51.58L368.85 52.56L370 52.56L370 53.61L370.27 53.61L370.27 53.62L370.85 53.62L370.85 54.94L371.7 54.94L371.7 56.25L372 56.25L372 56.25L372.55 56.25L372.55 57.28L373.4 57.28L373.4 58.27L373.73 58.27L373.73 58.25L375.45 58.25L375.45 59.13L377.17 59.13L377.17 58.85L377.5 58.85L377.5 59.83L378.9 59.83L378.9 59.48L379.2 59.48L379.2 60.33L380.9 60.33L380.9 60.89L381.2 60.89L381.2 60.74L383.3 60.74L383.3 61.59L383.5 61.59L383.5 61.59L385.8 61.59L385.8 61.18L387.3 61.18L387.3 61.75L388.13 61.75L388.13 61.71L389 61.71L389 63.33L390.47 63.33L390.47 63.38L390.7 63.38L390.7 65.05L392.45 65.05L392.45 66.76L392.8 66.76L392.8 66.75L394.2 66.75L394.2 68.22L394.52 68.22L394.52 68.22L395.4 68.22L395.4 69.36L396.25 69.36L396.25 69.01L397.98 69.01L397.98 68.45L399.7 68.45L399.7 67.69L400.8 67.69L400.8 67.36L402.6 67.36L402.6 66.59L402.7 66.59L402.7 67.87L404.6 67.87L404.6 68.41L405.5 68.41L405.5 68.31L405.75 68.31L405.75 70.37L406.65 70.37L406.65 70.21L406.9 70.21L406.9 72.36L407.8 72.36L407.8 72.18L408.05 72.18L408.05 74.27L409.1 74.27L409.1 73.94L409.2 73.94L409.2 76.03L410.4 76.03L410.4 80.1L416.15 80.1L416.15 79.02L419.6 79.02L419.6 80.15L420.75 80.15L420.75 81.71L421.9 81.71L421.9 83.29L424.8 83.29L424.8 84.81L427.7 84.81L427.7 85.9L433.5 85.9L433.5 85.88L434.6 85.88L434.6 86.95L435.77 86.95L435.77 88.67L436.93 88.67L436.93 90.33L436.95 90.33L436.95 90.33L438.1 90.33L438.1 91.97L440.4 91.97L440.4 92.37L442.33 92.37L442.33 92.85L442.7 92.85L442.7 93.77L443.87 93.77L443.87 95.88L444.27 95.88L444.27 95.9L445.03 95.9L445.03 97.98L446.2 97.98L446.2 100.11L448.2 100.11L448.2 100.3L448.5 100.3L448.5 101.71L450.2 101.71L450.2 101.54L450.8 101.54L450.8 102.8L452.2 102.8L452.2 102.12L453.1 102.12L453.1 103.07L454.2 103.07L454.2 102.58L455.6 102.58L455.6 101.82L456.5 101.82L456.5 102.97L457 102.97L457 102.74L457.67 102.74L457.67 103.78L458.4 103.78L458.4 103.58L458.83 103.58L458.83 104.86L459.8 104.86L459.8 104.38L460 104.38L460 105.89L461.17 105.89L461.17 107.14L461.2 107.14L461.2 107.14L462.33 107.14L462.33 108.67L462.62 108.67L462.62 108.45L463.5 108.45L463.5 110.28L464.05 110.28L464.05 110.08L465.47 110.08L465.47 109.52L465.8 109.52L465.8 110.89L466.9 110.89L466.9 110.54L468.1 110.54L468.1 111.57L471.55 111.57L471.55 112.4L471.55 112.4L471.55 112.36L475 112.36L475 113.8L476.2 113.8L476.2 113.58L477.3 113.58L477.3 114.48L479.6 114.48L479.6 114.8L480.8 114.8L480.8 114.37L485.4 114.37L485.4 112.31L495.8 112.31L495.8 110.94L496.9 110.94L496.9 111.04L496.95 111.04L496.95 112.8L498.1 112.8L498.1 114.67L503.85 114.67L503.85 115.18L506.2 115.18L506.2 115.26L507.3 115.26L507.3 118.74L510.8 118.74L510.8 119.27L510.8 146.9L510.8 146L507.3 146L507.3 146L506.2 146L506.2 146L503.85 146L503.85 145.1L498.1 145.1L498.1 145.1L496.95 145.1L496.95 145.1L496.9 145.1L496.9 144.2L495.8 144.2L495.8 144.2L485.4 144.2L485.4 142.7L480.8 142.7L480.8 141.2L479.6 141.2L479.6 141.2L477.3 141.2L477.3 141.2L476.2 141.2L476.2 140L475 140L475 140L471.55 140L471.55 140L471.55 140L471.55 138.8L468.1 138.8L468.1 138.8L466.9 138.8L466.9 137.38L465.8 137.38L465.8 137.38L465.47 137.38L465.47 135.95L464.05 135.95L464.05 134.53L463.5 134.53L463.5 134.53L462.62 134.53L462.62 133.1L462.33 133.1L462.33 133.1L461.2 133.1L461.2 131.72L461.17 131.72L461.17 131.72L460 131.72L460 131.72L459.8 131.72L459.8 130.34L458.83 130.34L458.83 130.34L458.4 130.34L458.4 128.96L457.67 128.96L457.67 128.96L457 128.96L457 127.58L456.5 127.58L456.5 127.58L455.6 127.58L455.6 126.2L454.2 126.2L454.2 125.03L453.1 125.03L453.1 125.03L452.2 125.03L452.2 123.85L450.8 123.85L450.8 123.85L450.2 123.85L450.2 122.67L448.5 122.67L448.5 122.67L448.2 122.67L448.2 121.5L446.2 121.5L446.2 120.37L445.03 120.37L445.03 120.37L444.27 120.37L444.27 119.23L443.87 119.23L443.87 119.23L442.7 119.23L442.7 119.23L442.33 119.23L442.33 118.1L440.4 118.1L440.4 116.95L438.1 116.95L438.1 116.95L436.95 116.95L436.95 115.8L436.93 115.8L436.93 115.8L435.77 115.8L435.77 115.8L434.6 115.8L434.6 115.8L433.5 115.8L433.5 114.65L427.7 114.65L427.7 113.5L424.8 113.5L424.8 113.5L421.9 113.5L421.9 112.35L420.75 112.35L420.75 112.35L419.6 112.35L419.6 112.35L416.15 112.35L416.15 111.2L410.4 111.2L410.4 108.9L409.2 108.9L409.2 108.9L409.1 108.9L409.1 106.6L408.05 106.6L408.05 106.6L407.8 106.6L407.8 104.3L406.9 104.3L406.9 104.3L406.65 104.3L406.65 102L405.75 102L405.75 102L405.5 102L405.5 100.85L404.6 100.85L404.6 100.85L402.7 100.85L402.7 100.85L402.6 100.85L402.6 99.7L400.8 99.7L400.8 99.7L399.7 99.7L399.7 98.55L397.98 98.55L397.98 97.4L396.25 97.4L396.25 96.25L395.4 96.25L395.4 96.25L394.52 96.25L394.52 95.1L394.2 95.1L394.2 95.1L392.8 95.1L392.8 93.93L392.45 93.93L392.45 93.93L390.7 93.93L390.7 93.93L390.47 93.93L390.47 92.77L389 92.77L389 92.77L388.13 92.77L388.13 91.6L387.3 91.6L387.3 91.6L385.8 91.6L385.8 90.47L383.5 90.47L383.5 89.33L383.3 89.33L383.3 89.33L381.2 89.33L381.2 88.2L380.9 88.2L380.9 88.2L379.2 88.2L379.2 88.2L378.9 88.2L378.9 87.03L377.5 87.03L377.5 87.03L377.17 87.03L377.17 85.85L375.45 85.85L375.45 84.67L373.73 84.67L373.73 83.5L373.4 83.5L373.4 83.5L372.55 83.5L372.55 83.5L372 83.5L372 82.35L371.7 82.35L371.7 82.35L370.85 82.35L370.85 82.35L370.27 82.35L370.27 81.2L370 81.2L370 81.2L368.85 81.2L368.85 81.2L368.55 81.2L368.55 80.05L367.7 80.05L367.7 80.05L366.83 80.05L366.83 78.9L366.25 78.9L366.25 78.9L365.1 78.9L365.1 77.77L364.8 77.77L364.8 77.77L363.95 77.77L363.95 77.77L363.57 77.77L363.57 76.63L363.1 76.63L363.1 76.63L362.03 76.63L362.03 75.5L361.8 75.5L361.8 75.5L360.5 75.5L360.5 74.33L359.6 74.33L359.6 74.33L359.32 74.33L359.32 73.15L358.7 73.15L358.7 73.15L358.15 73.15L358.15 71.97L357.85 71.97L357.85 71.97L357 71.97L357 71.97L356.98 71.97L356.98 70.8L356.15 70.8L356.15 70.8L355.8 70.8L355.8 69.65L355.3 69.65L355.3 69.65L354.38 69.65L354.38 68.5L353 68.5L353 68.5L352.95 68.5L352.95 67.35L351.53 67.35L351.53 66.2L350.1 66.2L350.1 65.05L348.95 65.05L348.95 63.9L347.8 63.9L347.8 62.75L346.65 62.75L346.65 61.6L346.6 61.6L346.6 61.6L345.75 61.6L345.75 61.6L345.5 61.6L345.5 59.67L344.9 59.67L344.9 59.67L344.33 59.67L344.33 57.73L344.05 57.73L344.05 57.73L343.2 57.73L343.2 57.73L343.17 57.73L343.17 55.8L342.3 55.8L342.3 55.8L342 55.8L342 54.38L341.4 54.38L341.4 54.38L340.85 54.38L340.85 52.95L340.25 52.95L340.25 52.95L339.7 52.95L339.7 51.52L339.1 51.52L339.1 51.52L338.55 51.52L338.55 50.1L337.95 50.1L337.95 50.1L337.4 50.1L337.4 47.8L336.8 47.8L336.8 47.8L336.23 47.8L336.23 45.5L335.95 45.5L335.95 45.5L335.1 45.5L335.1 45.5L335.07 45.5L335.07 43.2L333.9 43.2L333.9 41.45L333.05 41.45L333.05 41.45L332.75 41.45L332.75 39.7L332.2 39.7L332.2 39.7L331.6 39.7L331.6 37.95L330.5 37.95L330.5 37.95L330.45 37.95L330.45 36.2L329.3 36.2L329.3 34.47L328.2 34.47L328.2 34.47L328.15 34.47L328.15 32.75L327.3 32.75L327.3 32.75L327 32.75L327 31.03L326.4 31.03L326.4 31.03L325.85 31.03L325.85 29.3L325.27 29.3L325.27 29.3L324.7 29.3L324.7 27.85L324.13 27.85L324.13 27.85L323.55 27.85L323.55 26.4L323 26.4L323 26.4L322.4 26.4L322.4 24.95L321.55 24.95L321.55 24.95L321.25 24.95L321.25 23.5L320.1 23.5L320.1 21L319.2 21L319.2 21L318.95 21L318.95 18.5L318.3 18.5L318.3 18.5L317.8 18.5Z"/></clipPath>
<path d="M317.8 17.35L318.3 17.35L318.3 17.35L318.95 17.35L318.95 17.35L319.2 17.35L319.2 17.35L320.1 17.35L320.1 17.38L321.25 17.38L321.25 17.35L321.55 17.35L321.55 18.26L322.4 18.26L322.4 18.17L323 18.17L323 19.26L323.55 19.26L323.55 18.83L324.13 18.83L324.13 20.01L324.7 20.01L324.7 19.82L325.27 19.82L325.27 21.02L325.85 21.02L325.85 20.83L326.4 20.83L326.4 22.01L327 22.01L327 21.78L327.3 21.78L327.3 22.73L328.15 22.73L328.15 22.23L328.2 22.23L328.2 23.43L329.3 23.43L329.3 24.69L330.45 24.69L330.45 24.16L330.5 24.16L330.5 25.42L331.6 25.42L331.6 24.68L332.2 24.68L332.2 25.05L332.75 25.05L332.75 24.77L333.05 24.77L333.05 25.67L333.9 25.67L333.9 25.98L335.07 25.98L335.07 25L335.1 25L335.1 27.46L335.95 27.46L335.95 29L336.23 29L336.23 28.68L336.8 28.68L336.8 30.28L337.4 30.28L337.4 30.02L337.95 30.02L337.95 30.7L338.55 30.7L338.55 30.48L339.1 30.48L339.1 31.02L339.7 31.02L339.7 30.85L340.25 30.85L340.25 31.61L340.85 31.61L340.85 31.44L341.4 31.44L341.4 32.21L342 32.21L342 32.05L342.3 32.05L342.3 33.46L343.17 33.46L343.17 33.12L343.2 33.12L343.2 34.71L344.05 34.71L344.05 36.46L344.33 36.46L344.33 36.28L344.9 36.28L344.9 38.02L345.5 38.02L345.5 37.83L345.75 37.83L345.75 38.91L346.6 38.91L346.6 39.82L346.65 39.82L346.65 39.82L347.8 39.82L347.8 39.42L348.95 39.42L348.95 38.98L350.1 38.98L350.1 39.42L351.53 39.42L351.53 38.88L352.95 38.88L352.95 38.06L353 38.06L353 39.42L354.38 39.42L354.38 38.74L355.3 38.74L355.3 39.63L355.8 39.63L355.8 39.47L356.15 39.47L356.15 40.35L356.98 40.35L356.98 40.22L357 40.22L357 41.25L357.85 41.25L357.85 42.02L358.15 42.02L358.15 41.93L358.7 41.93L358.7 42.84L359.32 42.84L359.32 42.8L359.6 42.8L359.6 43.8L360.5 43.8L360.5 44.81L361.8 44.81L361.8 46.06L362.03 46.06L362.03 46.06L363.1 46.06L363.1 47.29L363.57 47.29L363.57 47.27L363.95 47.27L363.95 48.3L364.8 48.3L364.8 49.3L365.1 49.3L365.1 49.29L366.25 49.29L366.25 50.32L366.83 50.32L366.83 50.36L367.7 50.36L367.7 51.46L368.55 51.46L368.55 51.58L368.85 51.58L368.85 52.56L370 52.56L370 53.61L370.27 53.61L370.27 53.62L370.85 53.62L370.85 54.94L371.7 54.94L371.7 56.25L372 56.25L372 56.25L372.55 56.25L372.55 57.28L373.4 57.28L373.4 58.27L373.73 58.27L373.73 58.25L375.45 58.25L375.45 59.13L377.17 59.13L377.17 58.85L377.5 58.85L377.5 59.83L378.9 59.83L378.9 59.48L379.2 59.48L379.2 60.33L380.9 60.33L380.9 60.89L381.2 60.89L381.2 60.74L383.3 60.74L383.3 61.59L383.5 61.59L383.5 61.59L385.8 61.59L385.8 61.18L387.3 61.18L387.3 61.75L388.13 61.75L388.13 61.71L389 61.71L389 63.33L390.47 63.33L390.47 63.38L390.7 63.38L390.7 65.05L392.45 65.05L392.45 66.76L392.8 66.76L392.8 66.75L394.2 66.75L394.2 68.22L394.52 68.22L394.52 68.22L395.4 68.22L395.4 69.36L396.25 69.36L396.25 69.01L397.98 69.01L397.98 68.45L399.7 68.45L399.7 67.69L400.8 67.69L400.8 67.36L402.6 67.36L402.6 66.59L402.7 66.59L402.7 67.87L404.6 67.87L404.6 68.41L405.5 68.41L405.5 68.31L405.75 68.31L405.75 70.37L406.65 70.37L406.65 70.21L406.9 70.21L406.9 72.36L407.8 72.36L407.8 72.18L408.05 72.18L408.05 74.27L409.1 74.27L409.1 73.94L409.2 73.94L409.2 76.03L410.4 76.03L410.4 80.1L416.15 80.1L416.15 79.02L419.6 79.02L419.6 80.15L420.75 80.15L420.75 81.71L421.9 81.71L421.9 83.29L424.8 83.29L424.8 84.81L427.7 84.81L427.7 85.9L433.5 85.9L433.5 85.88L434.6 85.88L434.6 86.95L435.77 86.95L435.77 88.67L436.93 88.67L436.93 90.33L436.95 90.33L436.95 90.33L438.1 90.33L438.1 91.97L440.4 91.97L440.4 92.37L442.33 92.37L442.33 92.85L442.7 92.85L442.7 93.77L443.87 93.77L443.87 95.88L444.27 95.88L444.27 95.9L445.03 95.9L445.03 97.98L446.2 97.98L446.2 100.11L448.2 100.11L448.2 100.3L448.5 100.3L448.5 101.71L450.2 101.71L450.2 101.54L450.8 101.54L450.8 102.8L452.2 102.8L452.2 102.12L453.1 102.12L453.1 103.07L454.2 103.07L454.2 102.58L455.6 102.58L455.6 101.82L456.5 101.82L456.5 102.97L457 102.97L457 102.74L457.67 102.74L457.67 103.78L458.4 103.78L458.4 103.58L458.83 103.58L458.83 104.86L459.8 104.86L459.8 104.38L460 104.38L460 105.89L461.17 105.89L461.17 107.14L461.2 107.14L461.2 107.14L462.33 107.14L462.33 108.67L462.62 108.67L462.62 108.45L463.5 108.45L463.5 110.28L464.05 110.28L464.05 110.08L465.47 110.08L465.47 109.52L465.8 109.52L465.8 110.89L466.9 110.89L466.9 110.54L468.1 110.54L468.1 111.57L471.55 111.57L471.55 112.4L471.55 112.4L471.55 112.36L475 112.36L475 113.8L476.2 113.8L476.2 113.58L477.3 113.58L477.3 114.48L479.6 114.48L479.6 114.8L480.8 114.8L480.8 114.37L485.4 114.37L485.4 112.31L495.8 112.31L495.8 110.94L496.9 110.94L496.9 111.04L496.95 111.04L496.95 112.8L498.1 112.8L498.1 114.67L503.85 114.67L503.85 115.18L506.2 115.18L506.2 115.26L507.3 115.26L507.3 118.74L510.8 118.74L510.8 119.27L510.8 146.9L510.8 146L507.3 146L507.3 146L506.2 146L506.2 146L503.85 146L503.85 145.1L498.1 145.1L498.1 145.1L496.95 145.1L496.95 145.1L496.9 145.1L496.9 144.2L495.8 144.2L495.8 144.2L485.4 144.2L485.4 142.7L480.8 142.7L480.8 141.2L479.6 141.2L479.6 141.2L477.3 141.2L477.3 141.2L476.2 141.2L476.2 140L475 140L475 140L471.55 140L471.55 140L471.55 140L471.55 138.8L468.1 138.8L468.1 138.8L466.9 138.8L466.9 137.38L465.8 137.38L465.8 137.38L465.47 137.38L465.47 135.95L464.05 135.95L464.05 134.53L463.5 134.53L463.5 134.53L462.62 134.53L462.62 133.1L462.33 133.1L462.33 133.1L461.2 133.1L461.2 131.72L461.17 131.72L461.17 131.72L460 131.72L460 131.72L459.8 131.72L459.8 130.34L458.83 130.34L458.83 130.34L458.4 130.34L458.4 128.96L457.67 128.96L457.67 128.96L457 128.96L457 127.58L456.5 127.58L456.5 127.58L455.6 127.58L455.6 126.2L454.2 126.2L454.2 125.03L453.1 125.03L453.1 125.03L452.2 125.03L452.2 123.85L450.8 123.85L450.8 123.85L450.2 123.85L450.2 122.67L448.5 122.67L448.5 122.67L448.2 122.67L448.2 121.5L446.2 121.5L446.2 120.37L445.03 120.37L445.03 120.37L444.27 120.37L444.27 119.23L443.87 119.23L443.87 119.23L442.7 119.23L442.7 119.23L442.33 119.23L442.33 118.1L440.4 118.1L440.4 116.95L438.1 116.95L438.1 116.95L436.95 116.95L436.95 115.8L436.93 115.8L436.93 115.8L435.77 115.8L435.77 115.8L434.6 115.8L434.6 115.8L433.5 115.8L433.5 114.65L427.7 114.65L427.7 113.5L424.8 113.5L424.8 113.5L421.9 113.5L421.9 112.35L420.75 112.35L420.75 112.35L419.6 112.35L419.6 112.35L416.15 112.35L416.15 111.2L410.4 111.2L410.4 108.9L409.2 108.9L409.2 108.9L409.1 108.9L409.1 106.6L408.05 106.6L408.05 106.6L407.8 106.6L407.8 104.3L406.9 104.3L406.9 104.3L406.65 104.3L406.65 102L405.75 102L405.75 102L405.5 102L405.5 100.85L404.6 100.85L404.6 100.85L402.7 100.85L402.7 100.85L402.6 100.85L402.6 99.7L400.8 99.7L400.8 99.7L399.7 99.7L399.7 98.55L397.98 98.55L397.98 97.4L396.25 97.4L396.25 96.25L395.4 96.25L395.4 96.25L394.52 96.25L394.52 95.1L394.2 95.1L394.2 95.1L392.8 95.1L392.8 93.93L392.45 93.93L392.45 93.93L390.7 93.93L390.7 93.93L390.47 93.93L390.47 92.77L389 92.77L389 92.77L388.13 92.77L388.13 91.6L387.3 91.6L387.3 91.6L385.8 91.6L385.8 90.47L383.5 90.47L383.5 89.33L383.3 89.33L383.3 89.33L381.2 89.33L381.2 88.2L380.9 88.2L380.9 88.2L379.2 88.2L379.2 88.2L378.9 88.2L378.9 87.03L377.5 87.03L377.5 87.03L377.17 87.03L377.17 85.85L375.45 85.85L375.45 84.67L373.73 84.67L373.73 83.5L373.4 83.5L373.4 83.5L372.55 83.5L372.55 83.5L372 83.5L372 82.35L371.7 82.35L371.7 82.35L370.85 82.35L370.85 82.35L370.27 82.35L370.27 81.2L370 81.2L370 81.2L368.85 81.2L368.85 81.2L368.55 81.2L368.55 80.05L367.7 80.05L367.7 80.05L366.83 80.05L366.83 78.9L366.25 78.9L366.25 78.9L365.1 78.9L365.1 77.77L364.8 77.77L364.8 77.77L363.95 77.77L363.95 77.77L363.57 77.77L363.57 76.63L363.1 76.63L363.1 76.63L362.03 76.63L362.03 75.5L361.8 75.5L361.8 75.5L360.5 75.5L360.5 74.33L359.6 74.33L359.6 74.33L359.32 74.33L359.32 73.15L358.7 73.15L358.7 73.15L358.15 73.15L358.15 71.97L357.85 71.97L357.85 71.97L357 71.97L357 71.97L356.98 71.97L356.98 70.8L356.15 70.8L356.15 70.8L355.8 70.8L355.8 69.65L355.3 69.65L355.3 69.65L354.38 69.65L354.38 68.5L353 68.5L353 68.5L352.95 68.5L352.95 67.35L351.53 67.35L351.53 66.2L350.1 66.2L350.1 65.05L348.95 65.05L348.95 63.9L347.8 63.9L347.8 62.75L346.65 62.75L346.65 61.6L346.6 61.6L346.6 61.6L345.75 61.6L345.75 61.6L345.5 61.6L345.5 59.67L344.9 59.67L344.9 59.67L344.33 59.67L344.33 57.73L344.05 57.73L344.05 57.73L343.2 57.73L343.2 57.73L343.17 57.73L343.17 55.8L342.3 55.8L342.3 55.8L342 55.8L342 54.38L341.4 54.38L341.4 54.38L340.85 54.38L340.85 52.95L340.25 52.95L340.25 52.95L339.7 52.95L339.7 51.52L339.1 51.52L339.1 51.52L338.55 51.52L338.55 50.1L337.95 50.1L337.95 50.1L337.4 50.1L337.4 47.8L336.8 47.8L336.8 47.8L336.23 47.8L336.23 45.5L335.95 45.5L335.95 45.5L335.1 45.5L335.1 45.5L335.07 45.5L335.07 43.2L333.9 43.2L333.9 41.45L333.05 41.45L333.05 41.45L332.75 41.45L332.75 39.7L332.2 39.7L332.2 39.7L331.6 39.7L331.6 37.95L330.5 37.95L330.5 37.95L330.45 37.95L330.45 36.2L329.3 36.2L329.3 34.47L328.2 34.47L328.2 34.47L328.15 34.47L328.15 32.75L327.3 32.75L327.3 32.75L327 32.75L327 31.03L326.4 31.03L326.4 31.03L325.85 31.03L325.85 29.3L325.27 29.3L325.27 29.3L324.7 29.3L324.7 27.85L324.13 27.85L324.13 27.85L323.55 27.85L323.55 26.4L323 26.4L323 26.4L322.4 26.4L322.4 24.95L321.55 24.95L321.55 24.95L321.25 24.95L321.25 23.5L320.1 23.5L320.1 21L319.2 21L319.2 21L318.95 21L318.95 18.5L318.3 18.5L318.3 18.5L317.8 18.5Z" fill="#f6d7dc" stroke="none"/>
<path d="M317.8 17.1L326.4 17.1L326.4 17.1L327.6 17.1L327.6 17.1L328.2 17.1L328.2 17.1L328.7 17.1L328.7 17.1L329.6 17.1L329.6 17.1L330.1 17.1L330.1 18.33L330.5 18.33L330.5 18.33L331.35 18.33L331.35 18.33L332 18.33L332 19.57L332.2 19.57L332.2 19.57L333.35 19.57L333.35 19.57L333.9 19.57L333.9 20.8L334.5 20.8L334.5 20.8L335.35 20.8L335.35 20.8L336.2 20.8L336.2 20.8L337.95 20.8L337.95 21.6L338.5 21.6L338.5 21.6L340 21.6L340 21.6L341.15 21.6L341.15 21.6L342 21.6L342 22.4L342.3 22.4L342.3 22.4L343.53 22.4L343.53 23.53L345.07 23.53L345.07 24.67L345.2 24.67L345.2 24.67L346.6 24.67L346.6 25.8L346.65 25.8L346.65 25.8L347.75 25.8L347.75 28.15L348.1 28.15L348.1 28.15L348.9 28.15L348.9 30.5L348.95 30.5L348.95 30.5L349.8 30.5L349.8 30.5L350.43 30.5L350.43 31.63L350.65 31.63L350.65 31.63L351.5 31.63L351.5 31.63L351.97 31.63L351.97 32.77L352.4 32.77L352.4 32.77L353.3 32.77L353.3 32.77L353.5 32.77L353.5 33.9L353.8 33.9L353.8 33.9L355.43 33.9L355.43 35.07L357.37 35.07L357.37 36.23L359.3 36.23L359.3 37.4L360.2 37.4L360.2 37.4L360.45 37.4L360.45 40.85L361.3 40.85L361.3 40.85L361.6 40.85L361.6 44.3L362.5 44.3L362.5 44.3L363.1 44.3L363.1 44.3L363.9 44.3L363.9 45.45L366.2 45.45L366.2 46.6L368.13 46.6L368.13 47.77L368.8 47.77L368.8 47.77L370 47.77L370 47.77L370.07 47.77L370.07 48.93L370.85 48.93L370.85 48.93L371.7 48.93L371.7 48.93L372 48.93L372 50.1L372.55 50.1L372.55 50.1L373.15 50.1L373.15 52.4L373.4 52.4L373.4 52.4L374 52.4L374 52.4L374.3 52.4L374.3 54.7L381.2 54.7L381.2 55.8L388.2 55.8L388.2 57L389.6 57L389.6 57L389.73 57L389.73 58.17L391.27 58.17L391.27 59.33L391.3 59.33L391.3 59.33L392.47 59.33L392.47 59.33L392.8 59.33L392.8 60.5L393.63 60.5L393.63 60.5L394.8 60.5L394.8 60.5L395.1 60.5L395.1 61.63L395.65 61.63L395.65 61.63L396.5 61.63L396.5 61.63L397.4 61.63L397.4 62.77L399.7 62.77L399.7 63.9L400.8 63.9L400.8 63.9L401.35 63.9L401.35 64.7L403 64.7L403 65.5L403.5 65.5L403.5 65.5L404.27 65.5L404.27 66.7L404.63 66.7L404.63 66.7L405.55 66.7L405.55 67.9L405.77 67.9L405.77 67.9L406.83 67.9L406.83 69.1L406.9 69.1L406.9 69.1L408.1 69.1L408.1 70.3L425.4 70.3L425.4 70.3L426.55 70.3L426.55 70.3L427.7 70.3L427.7 70.3L428.8 70.3L428.8 70.3L432.3 70.3L432.3 71.7L434.6 71.7L434.6 71.7L435.8 71.7L435.8 73.1L439.25 73.1L439.25 74.25L442.7 74.25L442.7 75.4L446.15 75.4L446.15 76.55L446.2 76.55L446.2 76.55L447.35 76.55L447.35 76.55L448.5 76.55L448.5 76.55L449.6 76.55L449.6 77.7L485.4 77.7L485.4 77.7L486.3 77.7L486.3 77.7L486.5 77.7L486.5 78.2L487.2 78.2L487.2 78.2L487.68 78.2L487.68 79.52L488.85 79.52L488.85 80.85L490.02 80.85L490.02 82.18L491.2 82.18L491.2 83.5L492.3 83.5L492.3 83.5L510.8 83.5L510.8 83.5L510.8 136.48L510.8 134.38L492.3 134.38L492.3 127.83L491.2 127.83L491.2 125.99L490.02 125.99L490.02 125.01L488.85 125.01L488.85 124.01L487.68 124.01L487.68 123.5L487.2 123.5L487.2 119.47L486.5 119.47L486.5 119.47L486.3 119.47L486.3 115.87L485.4 115.87L485.4 113.19L449.6 113.19L449.6 112.89L448.5 112.89L448.5 111.04L447.35 111.04L447.35 109.2L446.2 109.2L446.2 108.88L446.15 108.88L446.15 108.39L442.7 108.39L442.7 108.65L439.25 108.65L439.25 108.83L435.8 108.83L435.8 107.37L434.6 107.37L434.6 107.15L432.3 107.15L432.3 106.63L428.8 106.63L428.8 106.49L427.7 106.49L427.7 105.04L426.55 105.04L426.55 103.64L425.4 103.64L425.4 102.88L408.1 102.88L408.1 102.9L406.9 102.9L406.9 101.95L406.83 101.95L406.83 101.95L405.77 101.95L405.77 100.99L405.55 100.99L405.55 101.01L404.63 101.01L404.63 100.08L404.27 100.08L404.27 100.14L403.5 100.14L403.5 99.12L403 99.12L403 99.21L401.35 99.21L401.35 99.21L400.8 99.21L400.8 99L399.7 99L399.7 98.55L397.4 98.55L397.4 98.21L396.5 98.21L396.5 97.04L395.65 97.04L395.65 95.86L395.1 95.86L395.1 95.66L394.8 95.66L394.8 93.51L393.63 93.51L393.63 91.34L392.8 91.34L392.8 91.13L392.47 91.13L392.47 88.91L391.3 88.91L391.3 87.64L391.27 87.64L391.27 87.04L389.73 87.04L389.73 87.04L389.6 87.04L389.6 86.52L388.2 86.52L388.2 87.15L381.2 87.15L381.2 86.97L374.3 86.97L374.3 86.83L374 86.83L374 85.67L373.4 85.67L373.4 83.45L373.15 83.45L373.15 83.19L372.55 83.19L372.55 80.83L372 80.83L372 80.83L371.7 80.83L371.7 79.61L370.85 79.61L370.85 78.51L370.07 78.51L370.07 78.4L370 78.4L370 77.24L368.8 77.24L368.8 76.6L368.13 76.6L368.13 75.87L366.2 75.87L366.2 75.4L363.9 75.4L363.9 75.4L363.1 75.4L363.1 73.38L362.5 73.38L362.5 69.87L361.6 69.87L361.6 69.87L361.3 69.87L361.3 67.32L360.45 67.32L360.45 67.32L360.2 67.32L360.2 66.79L359.3 66.79L359.3 66.6L357.37 66.6L357.37 66.79L355.43 66.79L355.43 66.7L353.8 66.7L353.8 65.09L353.5 65.09L353.5 65.09L353.3 65.09L353.3 63.8L352.4 63.8L352.4 62.62L351.97 62.62L351.97 62.44L351.5 62.44L351.5 61.15L350.65 61.15L350.65 59.82L350.43 59.82L350.43 59.55L349.8 59.55L349.8 57.49L348.95 57.49L348.95 55.97L348.9 55.97L348.9 55.68L348.1 55.68L348.1 52.87L347.75 52.87L347.75 52.49L346.65 52.49L346.65 49.87L346.6 49.87L346.6 49.2L345.2 49.2L345.2 48.66L345.07 48.66L345.07 47.82L343.53 47.82L343.53 47.44L342.3 47.44L342.3 45.69L342 45.69L342 45.49L341.15 45.49L341.15 43.37L340 43.37L340 42.1L338.5 42.1L338.5 40.74L337.95 40.74L337.95 39.95L336.2 39.95L336.2 38.68L335.35 38.68L335.35 37.46L334.5 37.46L334.5 36.45L333.9 36.45L333.9 36.2L333.35 36.2L333.35 34.76L332.2 34.76L332.2 33.5L332 33.5L332 33.05L331.35 33.05L331.35 31.31L330.5 31.31L330.5 30.2L330.1 30.2L330.1 29.79L329.6 29.79L329.6 27.89L328.7 27.89L328.7 24.79L328.2 24.79L328.2 24.41L327.6 24.41L327.6 19.75L326.4 19.75L326.4 17.1L317.8 17.1Z" fill="#d5e1ea" stroke="none"/>
<path d="M317.8 17.1L326.4 17.1L326.4 17.1L327.6 17.1L327.6 17.1L328.2 17.1L328.2 17.1L328.7 17.1L328.7 17.1L329.6 17.1L329.6 17.1L330.1 17.1L330.1 18.33L330.5 18.33L330.5 18.33L331.35 18.33L331.35 18.33L332 18.33L332 19.57L332.2 19.57L332.2 19.57L333.35 19.57L333.35 19.57L333.9 19.57L333.9 20.8L334.5 20.8L334.5 20.8L335.35 20.8L335.35 20.8L336.2 20.8L336.2 20.8L337.95 20.8L337.95 21.6L338.5 21.6L338.5 21.6L340 21.6L340 21.6L341.15 21.6L341.15 21.6L342 21.6L342 22.4L342.3 22.4L342.3 22.4L343.53 22.4L343.53 23.53L345.07 23.53L345.07 24.67L345.2 24.67L345.2 24.67L346.6 24.67L346.6 25.8L346.65 25.8L346.65 25.8L347.75 25.8L347.75 28.15L348.1 28.15L348.1 28.15L348.9 28.15L348.9 30.5L348.95 30.5L348.95 30.5L349.8 30.5L349.8 30.5L350.43 30.5L350.43 31.63L350.65 31.63L350.65 31.63L351.5 31.63L351.5 31.63L351.97 31.63L351.97 32.77L352.4 32.77L352.4 32.77L353.3 32.77L353.3 32.77L353.5 32.77L353.5 33.9L353.8 33.9L353.8 33.9L355.43 33.9L355.43 35.07L357.37 35.07L357.37 36.23L359.3 36.23L359.3 37.4L360.2 37.4L360.2 37.4L360.45 37.4L360.45 40.85L361.3 40.85L361.3 40.85L361.6 40.85L361.6 44.3L362.5 44.3L362.5 44.3L363.1 44.3L363.1 44.3L363.9 44.3L363.9 45.45L366.2 45.45L366.2 46.6L368.13 46.6L368.13 47.77L368.8 47.77L368.8 47.77L370 47.77L370 47.77L370.07 47.77L370.07 48.93L370.85 48.93L370.85 48.93L371.7 48.93L371.7 48.93L372 48.93L372 50.1L372.55 50.1L372.55 50.1L373.15 50.1L373.15 52.4L373.4 52.4L373.4 52.4L374 52.4L374 52.4L374.3 52.4L374.3 54.7L381.2 54.7L381.2 55.8L388.2 55.8L388.2 57L389.6 57L389.6 57L389.73 57L389.73 58.17L391.27 58.17L391.27 59.33L391.3 59.33L391.3 59.33L392.47 59.33L392.47 59.33L392.8 59.33L392.8 60.5L393.63 60.5L393.63 60.5L394.8 60.5L394.8 60.5L395.1 60.5L395.1 61.63L395.65 61.63L395.65 61.63L396.5 61.63L396.5 61.63L397.4 61.63L397.4 62.77L399.7 62.77L399.7 63.9L400.8 63.9L400.8 63.9L401.35 63.9L401.35 64.7L403 64.7L403 65.5L403.5 65.5L403.5 65.5L404.27 65.5L404.27 66.7L404.63 66.7L404.63 66.7L405.55 66.7L405.55 67.9L405.77 67.9L405.77 67.9L406.83 67.9L406.83 69.1L406.9 69.1L406.9 69.1L408.1 69.1L408.1 70.3L425.4 70.3L425.4 70.3L426.55 70.3L426.55 70.3L427.7 70.3L427.7 70.3L428.8 70.3L428.8 70.3L432.3 70.3L432.3 71.7L434.6 71.7L434.6 71.7L435.8 71.7L435.8 73.1L439.25 73.1L439.25 74.25L442.7 74.25L442.7 75.4L446.15 75.4L446.15 76.55L446.2 76.55L446.2 76.55L447.35 76.55L447.35 76.55L448.5 76.55L448.5 76.55L449.6 76.55L449.6 77.7L485.4 77.7L485.4 77.7L486.3 77.7L486.3 77.7L486.5 77.7L486.5 78.2L487.2 78.2L487.2 78.2L487.68 78.2L487.68 79.52L488.85 79.52L488.85 80.85L490.02 80.85L490.02 82.18L491.2 82.18L491.2 83.5L492.3 83.5L492.3 83.5L510.8 83.5L510.8 83.5L510.8 136.48L510.8 134.38L492.3 134.38L492.3 127.83L491.2 127.83L491.2 125.99L490.02 125.99L490.02 125.01L488.85 125.01L488.85 124.01L487.68 124.01L487.68 123.5L487.2 123.5L487.2 119.47L486.5 119.47L486.5 119.47L486.3 119.47L486.3 115.87L485.4 115.87L485.4 113.19L449.6 113.19L449.6 112.89L448.5 112.89L448.5 111.04L447.35 111.04L447.35 109.2L446.2 109.2L446.2 108.88L446.15 108.88L446.15 108.39L442.7 108.39L442.7 108.65L439.25 108.65L439.25 108.83L435.8 108.83L435.8 107.37L434.6 107.37L434.6 107.15L432.3 107.15L432.3 106.63L428.8 106.63L428.8 106.49L427.7 106.49L427.7 105.04L426.55 105.04L426.55 103.64L425.4 103.64L425.4 102.88L408.1 102.88L408.1 102.9L406.9 102.9L406.9 101.95L406.83 101.95L406.83 101.95L405.77 101.95L405.77 100.99L405.55 100.99L405.55 101.01L404.63 101.01L404.63 100.08L404.27 100.08L404.27 100.14L403.5 100.14L403.5 99.12L403 99.12L403 99.21L401.35 99.21L401.35 99.21L400.8 99.21L400.8 99L399.7 99L399.7 98.55L397.4 98.55L397.4 98.21L396.5 98.21L396.5 97.04L395.65 97.04L395.65 95.86L395.1 95.86L395.1 95.66L394.8 95.66L394.8 93.51L393.63 93.51L393.63 91.34L392.8 91.34L392.8 91.13L392.47 91.13L392.47 88.91L391.3 88.91L391.3 87.64L391.27 87.64L391.27 87.04L389.73 87.04L389.73 87.04L389.6 87.04L389.6 86.52L388.2 86.52L388.2 87.15L381.2 87.15L381.2 86.97L374.3 86.97L374.3 86.83L374 86.83L374 85.67L373.4 85.67L373.4 83.45L373.15 83.45L373.15 83.19L372.55 83.19L372.55 80.83L372 80.83L372 80.83L371.7 80.83L371.7 79.61L370.85 79.61L370.85 78.51L370.07 78.51L370.07 78.4L370 78.4L370 77.24L368.8 77.24L368.8 76.6L368.13 76.6L368.13 75.87L366.2 75.87L366.2 75.4L363.9 75.4L363.9 75.4L363.1 75.4L363.1 73.38L362.5 73.38L362.5 69.87L361.6 69.87L361.6 69.87L361.3 69.87L361.3 67.32L360.45 67.32L360.45 67.32L360.2 67.32L360.2 66.79L359.3 66.79L359.3 66.6L357.37 66.6L357.37 66.79L355.43 66.79L355.43 66.7L353.8 66.7L353.8 65.09L353.5 65.09L353.5 65.09L353.3 65.09L353.3 63.8L352.4 63.8L352.4 62.62L351.97 62.62L351.97 62.44L351.5 62.44L351.5 61.15L350.65 61.15L350.65 59.82L350.43 59.82L350.43 59.55L349.8 59.55L349.8 57.49L348.95 57.49L348.95 55.97L348.9 55.97L348.9 55.68L348.1 55.68L348.1 52.87L347.75 52.87L347.75 52.49L346.65 52.49L346.65 49.87L346.6 49.87L346.6 49.2L345.2 49.2L345.2 48.66L345.07 48.66L345.07 47.82L343.53 47.82L343.53 47.44L342.3 47.44L342.3 45.69L342 45.69L342 45.49L341.15 45.49L341.15 43.37L340 43.37L340 42.1L338.5 42.1L338.5 40.74L337.95 40.74L337.95 39.95L336.2 39.95L336.2 38.68L335.35 38.68L335.35 37.46L334.5 37.46L334.5 36.45L333.9 36.45L333.9 36.2L333.35 36.2L333.35 34.76L332.2 34.76L332.2 33.5L332 33.5L332 33.05L331.35 33.05L331.35 31.31L330.5 31.31L330.5 30.2L330.1 30.2L330.1 29.79L329.6 29.79L329.6 27.89L328.7 27.89L328.7 24.79L328.2 24.79L328.2 24.41L327.6 24.41L327.6 19.75L326.4 19.75L326.4 17.1L317.8 17.1Z" fill="#d3d5e1" stroke="none" clip-path="url(#clipB)"/>
<path d="M317.8 17.3H318.3V18.3H319.2V19.5H320.1V20.7H321.55V21.85H323V23H324.13V24.33H325.27V25.67H326.4V27H327.3V28.15H328.2V29.3H329.3V31H330.5V32.2H332.2V32.8H333.05V33.65H333.9V34.5H335.1V36.8H335.95V38.55H336.8V40.3H337.95V41.15H339.1V42H340.25V42.85H341.4V43.7H342.3V45.15H343.2V46.6H344.05V48.35H344.9V50.1H345.75V51.25H346.6V52.4H350.1V53.5H353V54.7H355.3V55.8H356.15V56.7H357V57.6H357.85V58.45H358.7V59.3H359.6V60.2H360.5V61.1H361.8V62.25H363.1V63.4H363.95V64.3H364.8V65.2H366.25V66.05H367.7V66.9H368.85V67.75H370V68.6H370.85V69.75H371.7V70.9H372.55V71.8H373.4V72.7H375.45V73.55H377.5V74.4H379.2V75.25H380.9V76.1H383.3V77.3H387.3V77.9H389V79.3H390.7V80.7H392.45V82.15H394.2V83.6H395.4V84.8H400.8H402.7V85.85H404.6V86.9H405.75V88.65H406.9V90.4H408.05V92.1H409.2V93.8H410.4V97.3H419.6V98H420.75V99.15H421.9V100.3H424.8V101.1H427.7V101.9H434.6V102.6H435.77V103.9H436.93V105.2H438.1V106.5H442.7V107.2H443.87V108.9H445.03V110.6H446.2V112.3H448.5V113.47H450.8V114.63H453.1V115.8H456.5V116.9H457.67V118.07H458.83V119.23H460V120.4H461.17V121.93H462.33V123.47H463.5V125H465.8V126.15H468.1V127.3H471.55V128.45H475V129.6H477.3V130.4H479.6V131.2H495.8H496.95V132.35H498.1V133.5H506.2H507.3V135.8H510.8" fill="none" stroke="#cc2c40" stroke-width="1.5"/>
<path d="M317.8 17.1H326.4H327.6V20.7H328.7V23.5H329.6V24.65H330.5V25.8H331.35V26.7H332.2V27.6H333.35V28.45H334.5V29.3H335.35V30.15H336.2V31H338.5V32.2H340V32.9H341.15V34.6H342.3V36.3H345.2V36.9H346.65V39.8H348.1V42.7H348.95V44.4H349.8V46.1H350.65V47.3H351.5V48.5H352.4V49.65H353.3V50.8H353.8V52.5H360.2V53.1H361.3V56H362.5V60H363.1V62.3H368.8V62.9H370V64H370.85V65.15H371.7V66.3H372.55V68.9H373.4V71.5H374V72.7H389.6V72.9H391.3V74.4H392.47V76.5H393.63V78.6H394.8V80.7H395.65V81.9H396.5V83.1H400.8V83.3H403.5V84.6H404.63V85.77H405.77V86.93H406.9V88.1H425.4H426.55V89.6H427.7V91.1H434.6V91.5H435.8V93.4H446.2V93.8H447.35V95.9H448.5V98H485.4H486.3V102.25H487.2V106.5H491.2V107.2H492.3V116.2H510.8" fill="none" stroke="#266a9e" stroke-width="1.5"/>
<line x1="436.9" x2="436.9" y1="104.6" y2="109.8" stroke="#cc2c40" stroke-width="1.3"/>
<line x1="480.8" x2="480.8" y1="128.6" y2="133.8" stroke="#cc2c40" stroke-width="1.3"/>
<line x1="408.1" x2="408.1" y1="86" y2="91.2" stroke="#266a9e" stroke-width="1.3"/>
<line x1="410.1" x2="410.1" y1="86" y2="91.2" stroke="#266a9e" stroke-width="1.3"/>
<line x1="425.4" x2="425.4" y1="85.5" y2="90.7" stroke="#266a9e" stroke-width="1.3"/>
<line x1="443.8" x2="443.8" y1="91.2" y2="96.4" stroke="#266a9e" stroke-width="1.3"/>
<line x1="446.2" x2="446.2" y1="91.2" y2="96.4" stroke="#266a9e" stroke-width="1.3"/>
<line x1="462.3" x2="462.3" y1="95.4" y2="100.6" stroke="#266a9e" stroke-width="1.3"/>
<line x1="464.2" x2="464.2" y1="95.4" y2="100.6" stroke="#266a9e" stroke-width="1.3"/>
<line x1="481.9" x2="481.9" y1="95.4" y2="100.6" stroke="#266a9e" stroke-width="1.3"/>
<line x1="499.2" x2="499.2" y1="113.6" y2="118.8" stroke="#266a9e" stroke-width="1.3"/>
<line x1="501.1" x2="501.1" y1="113.6" y2="118.8" stroke="#266a9e" stroke-width="1.3"/>
</g>
<g transform="translate(266.8 0)">
<path d="M41.2 13.2V177.6H246.8" fill="none" stroke="#262626" stroke-width="1.3"/>
<rect x="45.8" y="159.2" width="6.6" height="6.6" fill="#cc2c40" fill-opacity="0.3"/>
<line x1="45.8" x2="52.4" y1="162.5" y2="162.5" stroke="#cc2c40" stroke-width="1.2"/>
<line x1="49.1" x2="49.1" y1="160.5" y2="164.5" stroke="#cc2c40" stroke-width="0.9"/>
<rect x="45.8" y="166.5" width="6.6" height="6.6" fill="#266a9e" fill-opacity="0.2"/>
<line x1="45.8" x2="52.4" y1="169.8" y2="169.8" stroke="#266a9e" stroke-width="1.2"/>
<line x1="49.1" x2="49.1" y1="167.8" y2="171.8" stroke="#266a9e" stroke-width="0.9"/>
<text x="55" y="165.1" font-size="6.8" fill="#222">ERA1</text>
<text x="55" y="172.5" font-size="6.8" fill="#222">ERA2</text>
<text x="142.6" y="199.7" font-size="8.4" fill="#1a1a1a" stroke="#1a1a1a" stroke-width="0.1" text-anchor="middle" textLength="79" lengthAdjust="spacingAndGlyphs">Time after diagnosis (years)</text>
<text transform="translate(10.6 91.7) rotate(-90)" x="0" y="0" font-size="8.4" fill="#1a1a1a" stroke="#1a1a1a" stroke-width="0.1" text-anchor="middle" textLength="56" lengthAdjust="spacingAndGlyphs">Overall survival (%)</text>
<text x="41.9" y="205.9" font-size="7.2" fill="#333" textLength="47" lengthAdjust="spacingAndGlyphs">Number at risk</text>
<text x="21.25" y="214.6" font-size="7" fill="#cc2c40">ERA1</text>
<text x="21.25" y="223.7" font-size="7" fill="#266a9e">ERA2</text>
<text x="50.25" y="214.6" font-size="7" fill="#cc2c40" text-anchor="middle">82</text>
<text x="50.25" y="223.7" font-size="7" fill="#266a9e" text-anchor="middle">77</text>
<text x="87.15" y="214.6" font-size="7" fill="#cc2c40" text-anchor="middle">61</text>
<text x="87.15" y="223.7" font-size="7" fill="#266a9e" text-anchor="middle">59</text>
<text x="124.05" y="214.6" font-size="7" fill="#cc2c40" text-anchor="middle">48</text>
<text x="124.05" y="223.7" font-size="7" fill="#266a9e" text-anchor="middle">49</text>
<text x="160.95" y="214.6" font-size="7" fill="#cc2c40" text-anchor="middle">37</text>
<text x="160.95" y="223.7" font-size="7" fill="#266a9e" text-anchor="middle">30</text>
<text x="197.85" y="214.6" font-size="7" fill="#cc2c40" text-anchor="middle">22</text>
<text x="197.85" y="223.7" font-size="7" fill="#266a9e" text-anchor="middle">13</text>
<text x="234.75" y="214.6" font-size="7" fill="#cc2c40" text-anchor="middle">17</text>
<text x="234.75" y="223.7" font-size="7" fill="#266a9e" text-anchor="middle">4</text>
</g>
<g transform="translate(0 221.2)">
<text x="6.1" y="16.5" font-size="10.8" font-weight="bold" fill="#111" stroke="#111" stroke-width="0.3">C</text>
<text x="35.5" y="172.5" font-size="7.5" fill="#3a3a3a" text-anchor="end">0.00</text>
<line x1="38" x2="41.2" y1="169.6" y2="169.6" stroke="#333" stroke-width="0.9"/>
<text x="35.5" y="134.44" font-size="7.5" fill="#3a3a3a" text-anchor="end">0.25</text>
<line x1="38" x2="41.2" y1="131.54" y2="131.54" stroke="#333" stroke-width="0.9"/>
<text x="35.5" y="96.38" font-size="7.5" fill="#3a3a3a" text-anchor="end">0.50</text>
<line x1="38" x2="41.2" y1="93.47" y2="93.47" stroke="#333" stroke-width="0.9"/>
<text x="35.5" y="58.31" font-size="7.5" fill="#3a3a3a" text-anchor="end">0.75</text>
<line x1="38" x2="41.2" y1="55.41" y2="55.41" stroke="#333" stroke-width="0.9"/>
<text x="35.5" y="20.25" font-size="7.5" fill="#3a3a3a" text-anchor="end">1.00</text>
<line x1="38" x2="41.2" y1="17.35" y2="17.35" stroke="#333" stroke-width="0.9"/>
<line x1="50.25" x2="50.25" y1="177.6" y2="180.4" stroke="#333" stroke-width="0.9"/>
<text x="50.25" y="189.6" font-size="7.5" fill="#3a3a3a" text-anchor="middle">0</text>
<line x1="87.15" x2="87.15" y1="177.6" y2="180.4" stroke="#333" stroke-width="0.9"/>
<text x="87.15" y="189.6" font-size="7.5" fill="#3a3a3a" text-anchor="middle">2</text>
<line x1="124.05" x2="124.05" y1="177.6" y2="180.4" stroke="#333" stroke-width="0.9"/>
<text x="124.05" y="189.6" font-size="7.5" fill="#3a3a3a" text-anchor="middle">4</text>
<line x1="160.95" x2="160.95" y1="177.6" y2="180.4" stroke="#333" stroke-width="0.9"/>
<text x="160.95" y="189.6" font-size="7.5" fill="#3a3a3a" text-anchor="middle">6</text>
<line x1="197.85" x2="197.85" y1="177.6" y2="180.4" stroke="#333" stroke-width="0.9"/>
<text x="197.85" y="189.6" font-size="7.5" fill="#3a3a3a" text-anchor="middle">8</text>
<line x1="234.75" x2="234.75" y1="177.6" y2="180.4" stroke="#333" stroke-width="0.9"/>
<text x="234.75" y="189.6" font-size="7.5" fill="#3a3a3a" text-anchor="middle">10</text>
</g>
<g>
<clipPath id="clipC"><path d="M51.7 238.8L52.7 238.8L52.7 238.8L53.15 238.8L53.15 238.8L53.7 238.8L53.7 238.8L54.6 238.8L54.6 238.8L54.97 238.8L54.97 238.8L55.55 238.8L55.55 238.8L56 238.8L56 240L56.23 240L56.23 240L56.5 240L56.5 240L57.33 240L57.33 243.33L57.5 243.33L57.5 243.33L58.5 243.33L58.5 243.33L58.67 243.33L58.67 246.67L59.4 246.67L59.4 246.67L59.75 246.67L59.75 246.67L60 246.67L60 250L60.4 250L60.4 250L61 250L61 254L62 254L62 258L63.25 258L63.25 263.8L63.3 263.8L63.3 263.8L64.25 263.8L64.25 263.8L64.5 263.8L64.5 269.6L65.2 269.6L65.2 269.6L65.55 269.6L65.55 272.25L65.7 272.25L65.7 272.25L66 272.25L66 272.25L66.6 272.25L66.6 274.9L69.2 274.9L69.2 274.9L69.3 274.9L69.3 274.9L70.2 274.9L70.2 274.9L75.1 274.9L75.1 276L76.2 276L76.2 283.4L79.6 283.4L79.6 283.4L79.9 283.4L79.9 283.4L80.4 283.4L80.4 284.4L80.7 284.4L80.7 284.4L81.4 284.4L81.4 290.8L84 290.8L84 292L84.85 292L84.85 294.05L85.7 294.05L85.7 296.1L86.3 296.1L86.3 296.1L87.5 296.1L87.5 296.1L87.6 296.1L87.6 296.1L96.3 296.1L96.3 297.1L97.3 297.1L97.3 300.3L103.5 300.3L103.5 300.3L104.7 300.3L104.7 301L105 301L105 301L105.8 301L105.8 310.9L106.2 310.9L106.2 310.9L109.08 310.9L109.08 310.9L111.2 310.9L111.2 310.9L111.9 310.9L111.9 310.9L111.95 310.9L111.95 310.9L114.83 310.9L114.83 310.9L117.7 310.9L117.7 310.9L118.1 310.9L118.1 310.9L120.6 310.9L120.6 311.9L121.65 311.9L121.65 314.05L122.7 314.05L122.7 316.2L123.85 316.2L123.85 317.1L125 317.1L125 318L126.5 318L126.5 319.7L128 319.7L128 321.4L158.1 321.4L158.1 321.4L158.4 321.4L158.4 321.4L158.7 321.4L158.7 331.5L158.8 331.5L158.8 331.5L158.9 331.5L158.9 331.5L160.2 331.5L160.2 331.5L161.2 331.5L161.2 331.5L161.5 331.5L161.5 331.5L208.7 331.5L208.7 337.3L208.9 337.3L208.9 337.3L244.2 337.3L244.2 337.3L244.2 380L244.2 380L208.9 380L208.9 376.2L208.7 376.2L208.7 376.2L161.5 376.2L161.5 374.55L161.2 374.55L161.2 374.55L160.2 374.55L160.2 372.9L158.9 372.9L158.9 370L158.8 370L158.8 370L158.7 370L158.7 370L158.4 370L158.4 370L158.1 370L158.1 370L128 370L128 370L126.5 370L126.5 370L125 370L125 370L123.85 370L123.85 370L122.7 370L122.7 370L121.65 370L121.65 370L120.6 370L120.6 370L118.1 370L118.1 370L117.7 370L117.7 368.85L114.83 368.85L114.83 367.7L111.95 367.7L111.95 366.55L111.9 366.55L111.9 366.55L111.2 366.55L111.2 366.55L109.08 366.55L109.08 365.4L106.2 365.4L106.2 361.9L105.8 361.9L105.8 361.9L105 361.9L105 350.3L104.7 350.3L104.7 350.3L103.5 350.3L103.5 349.7L97.3 349.7L97.3 349.7L96.3 349.7L96.3 349.7L87.6 349.7L87.6 345.5L87.5 345.5L87.5 345.5L86.3 345.5L86.3 345.5L85.7 345.5L85.7 345.5L84.85 345.5L84.85 345.5L84 345.5L84 345.5L81.4 345.5L81.4 345.5L80.7 345.5L80.7 345.5L80.4 345.5L80.4 345.5L79.9 345.5L79.9 336.7L79.6 336.7L79.6 336.7L76.2 336.7L76.2 336.7L75.1 336.7L75.1 336.7L70.2 336.7L70.2 336.7L69.3 336.7L69.3 327.2L69.2 327.2L69.2 327.2L66.6 327.2L66.6 327.2L66 327.2L66 327.2L65.7 327.2L65.7 296.5L65.55 296.5L65.55 296.5L65.2 296.5L65.2 296.5L64.5 296.5L64.5 296.5L64.25 296.5L64.25 296.5L63.3 296.5L63.3 296.5L63.25 296.5L63.25 296.5L62 296.5L62 296.5L61 296.5L61 276.7L60.4 276.7L60.4 276.7L60 276.7L60 276.7L59.75 276.7L59.75 273.4L59.4 273.4L59.4 273.4L58.67 273.4L58.67 273.4L58.5 273.4L58.5 263.8L57.5 263.8L57.5 259.3L57.33 259.3L57.33 259.3L56.5 259.3L56.5 259.3L56.23 259.3L56.23 254.8L56 254.8L56 254.8L55.55 254.8L55.55 254.8L54.97 254.8L54.97 250.3L54.6 250.3L54.6 250.3L53.7 250.3L53.7 245L53.15 245L53.15 245L52.7 245L52.7 239.7L51.7 239.7Z"/></clipPath>
<path d="M51.7 238.8L52.7 238.8L52.7 238.8L53.15 238.8L53.15 238.8L53.7 238.8L53.7 238.8L54.6 238.8L54.6 238.8L54.97 238.8L54.97 238.8L55.55 238.8L55.55 238.8L56 238.8L56 240L56.23 240L56.23 240L56.5 240L56.5 240L57.33 240L57.33 243.33L57.5 243.33L57.5 243.33L58.5 243.33L58.5 243.33L58.67 243.33L58.67 246.67L59.4 246.67L59.4 246.67L59.75 246.67L59.75 246.67L60 246.67L60 250L60.4 250L60.4 250L61 250L61 254L62 254L62 258L63.25 258L63.25 263.8L63.3 263.8L63.3 263.8L64.25 263.8L64.25 263.8L64.5 263.8L64.5 269.6L65.2 269.6L65.2 269.6L65.55 269.6L65.55 272.25L65.7 272.25L65.7 272.25L66 272.25L66 272.25L66.6 272.25L66.6 274.9L69.2 274.9L69.2 274.9L69.3 274.9L69.3 274.9L70.2 274.9L70.2 274.9L75.1 274.9L75.1 276L76.2 276L76.2 283.4L79.6 283.4L79.6 283.4L79.9 283.4L79.9 283.4L80.4 283.4L80.4 284.4L80.7 284.4L80.7 284.4L81.4 284.4L81.4 290.8L84 290.8L84 292L84.85 292L84.85 294.05L85.7 294.05L85.7 296.1L86.3 296.1L86.3 296.1L87.5 296.1L87.5 296.1L87.6 296.1L87.6 296.1L96.3 296.1L96.3 297.1L97.3 297.1L97.3 300.3L103.5 300.3L103.5 300.3L104.7 300.3L104.7 301L105 301L105 301L105.8 301L105.8 310.9L106.2 310.9L106.2 310.9L109.08 310.9L109.08 310.9L111.2 310.9L111.2 310.9L111.9 310.9L111.9 310.9L111.95 310.9L111.95 310.9L114.83 310.9L114.83 310.9L117.7 310.9L117.7 310.9L118.1 310.9L118.1 310.9L120.6 310.9L120.6 311.9L121.65 311.9L121.65 314.05L122.7 314.05L122.7 316.2L123.85 316.2L123.85 317.1L125 317.1L125 318L126.5 318L126.5 319.7L128 319.7L128 321.4L158.1 321.4L158.1 321.4L158.4 321.4L158.4 321.4L158.7 321.4L158.7 331.5L158.8 331.5L158.8 331.5L158.9 331.5L158.9 331.5L160.2 331.5L160.2 331.5L161.2 331.5L161.2 331.5L161.5 331.5L161.5 331.5L208.7 331.5L208.7 337.3L208.9 337.3L208.9 337.3L244.2 337.3L244.2 337.3L244.2 380L244.2 380L208.9 380L208.9 376.2L208.7 376.2L208.7 376.2L161.5 376.2L161.5 374.55L161.2 374.55L161.2 374.55L160.2 374.55L160.2 372.9L158.9 372.9L158.9 370L158.8 370L158.8 370L158.7 370L158.7 370L158.4 370L158.4 370L158.1 370L158.1 370L128 370L128 370L126.5 370L126.5 370L125 370L125 370L123.85 370L123.85 370L122.7 370L122.7 370L121.65 370L121.65 370L120.6 370L120.6 370L118.1 370L118.1 370L117.7 370L117.7 368.85L114.83 368.85L114.83 367.7L111.95 367.7L111.95 366.55L111.9 366.55L111.9 366.55L111.2 366.55L111.2 366.55L109.08 366.55L109.08 365.4L106.2 365.4L106.2 361.9L105.8 361.9L105.8 361.9L105 361.9L105 350.3L104.7 350.3L104.7 350.3L103.5 350.3L103.5 349.7L97.3 349.7L97.3 349.7L96.3 349.7L96.3 349.7L87.6 349.7L87.6 345.5L87.5 345.5L87.5 345.5L86.3 345.5L86.3 345.5L85.7 345.5L85.7 345.5L84.85 345.5L84.85 345.5L84 345.5L84 345.5L81.4 345.5L81.4 345.5L80.7 345.5L80.7 345.5L80.4 345.5L80.4 345.5L79.9 345.5L79.9 336.7L79.6 336.7L79.6 336.7L76.2 336.7L76.2 336.7L75.1 336.7L75.1 336.7L70.2 336.7L70.2 336.7L69.3 336.7L69.3 327.2L69.2 327.2L69.2 327.2L66.6 327.2L66.6 327.2L66 327.2L66 327.2L65.7 327.2L65.7 296.5L65.55 296.5L65.55 296.5L65.2 296.5L65.2 296.5L64.5 296.5L64.5 296.5L64.25 296.5L64.25 296.5L63.3 296.5L63.3 296.5L63.25 296.5L63.25 296.5L62 296.5L62 296.5L61 296.5L61 276.7L60.4 276.7L60.4 276.7L60 276.7L60 276.7L59.75 276.7L59.75 273.4L59.4 273.4L59.4 273.4L58.67 273.4L58.67 273.4L58.5 273.4L58.5 263.8L57.5 263.8L57.5 259.3L57.33 259.3L57.33 259.3L56.5 259.3L56.5 259.3L56.23 259.3L56.23 254.8L56 254.8L56 254.8L55.55 254.8L55.55 254.8L54.97 254.8L54.97 250.3L54.6 250.3L54.6 250.3L53.7 250.3L53.7 245L53.15 245L53.15 245L52.7 245L52.7 239.7L51.7 239.7Z" fill="#f6d7dc" stroke="none"/>
<path d="M51.7 238.8L52.85 238.8L52.85 238.8L53 238.8L53 238.8L54 238.8L54 238.8L54.15 238.8L54.15 238.8L55.3 238.8L55.3 238.8L55.55 238.8L55.55 238.8L56.2 238.8L56.2 238.8L57.1 238.8L57.1 238.8L58.05 238.8L58.05 238.8L59 238.8L59 238.8L59.4 238.8L59.4 238.8L59.5 238.8L59.5 238.8L60.15 238.8L60.15 238.8L60.3 238.8L60.3 238.8L60.4 238.8L60.4 242.6L61.3 242.6L61.3 242.6L61.65 242.6L61.65 242.6L61.85 242.6L61.85 245.5L62.4 245.5L62.4 245.5L63 245.5L63 245.5L63.3 245.5L63.3 248.4L63.5 248.4L63.5 248.4L64.25 248.4L64.25 249.85L64.5 249.85L64.5 249.85L65.05 249.85L65.05 249.85L65.2 249.85L65.2 251.3L66.6 251.3L66.6 251.3L68.2 251.3L68.2 251.3L69.8 251.3L69.8 251.3L71.4 251.3L71.4 251.3L73 251.3L73 251.3L73.8 251.3L73.8 252.2L74.6 252.2L74.6 252.2L74.8 252.2L74.8 254.15L75.1 254.15L75.1 254.15L75.8 254.15L75.8 256.1L76.2 256.1L76.2 256.1L76.7 256.1L76.7 256.1L77.5 256.1L77.5 256.1L78.3 256.1L78.3 256.1L78.8 256.1L78.8 256.1L79.6 256.1L79.6 257L79.85 257L79.85 257L80.1 257L80.1 257L80.9 257L80.9 258.3L81.4 258.3L81.4 258.3L82.2 258.3L82.2 259.6L82.5 259.6L82.5 259.6L82.83 259.6L82.83 259.6L83.5 259.6L83.5 260.9L83.6 260.9L83.6 260.9L84.27 260.9L84.27 260.9L84.4 260.9L84.4 268.6L84.6 268.6L84.6 268.6L85.65 268.6L85.65 268.6L85.7 268.6L85.7 268.6L86.7 268.6L86.7 268.6L87 268.6L87 268.6L89.35 268.6L89.35 268.6L91.7 268.6L91.7 268.6L94.05 268.6L94.05 268.6L96 268.6L96 269.5L96.3 269.5L96.3 269.5L96.4 269.5L96.4 269.5L97.3 269.5L97.3 269.5L97.76 269.5L97.76 269.5L99.11 269.5L99.11 269.5L100.3 269.5L100.3 270.5L100.47 270.5L100.47 270.5L101.83 270.5L101.83 270.5L103.19 270.5L103.19 270.5L104.54 270.5L104.54 270.5L104.6 270.5L104.6 271.5L104.7 271.5L104.7 271.5L105.6 271.5L105.6 282L105.8 282L105.8 282L105.9 282L105.9 282L114.3 282L114.3 282L115.4 282L115.4 283.5L118.65 283.5L118.65 284.7L120.6 284.7L120.6 284.7L121.65 284.7L121.65 284.7L121.9 284.7L121.9 285.9L122.7 285.9L122.7 285.9L123.2 285.9L123.2 287.5L124 287.5L124 287.5L124.3 287.5L124.3 287.5L124.5 287.5L124.5 289.1L125.3 289.1L125.3 289.1L125.8 289.1L125.8 290.7L125.9 290.7L125.9 290.7L126.6 290.7L126.6 290.7L126.95 290.7L126.95 290.7L127.9 290.7L127.9 290.7L128 290.7L128 290.7L129.2 290.7L129.2 290.7L131.13 290.7L131.13 290.7L133.07 290.7L133.07 290.7L135 290.7L135 290.7L136.93 290.7L136.93 290.7L138.87 290.7L138.87 290.7L139.6 290.7L139.6 290.7L140.2 290.7L140.2 291.7L140.65 291.7L140.65 291.7L140.8 291.7L140.8 291.7L141.2 291.7L141.2 296.5L141.7 296.5L141.7 296.5L142.23 296.5L142.23 296.5L142.85 296.5L142.85 296.5L143.3 296.5L143.3 298.05L143.65 298.05L143.65 298.05L144 298.05L144 298.05L145 298.05L145 298.05L145.07 298.05L145.07 298.05L145.4 298.05L145.4 299.6L146 299.6L146 299.6L146.5 299.6L146.5 301.2L244.2 301.2L244.2 301.2L244.2 344.6L244.2 344.6L146.5 344.6L146.5 342.95L146 342.95L146 342.95L145.4 342.95L145.4 342.95L145.07 342.95L145.07 341.3L145 341.3L145 341.3L144 341.3L144 341.3L143.65 341.3L143.65 339.65L143.3 339.65L143.3 339.65L142.85 339.65L142.85 339.65L142.23 339.65L142.23 338L141.7 338L141.7 338L141.2 338L141.2 338L140.8 338L140.8 336.67L140.65 336.67L140.65 336.67L140.2 336.67L140.2 336.67L139.6 336.67L139.6 336.67L138.87 336.67L138.87 335.33L136.93 335.33L136.93 334L135 334L135 332.67L133.07 332.67L133.07 331.33L131.13 331.33L131.13 330L129.2 330L129.2 328.72L128 328.72L128 328.72L127.9 328.72L127.9 327.44L126.95 327.44L126.95 327.44L126.6 327.44L126.6 326.16L125.9 326.16L125.9 326.16L125.8 326.16L125.8 326.16L125.3 326.16L125.3 324.88L124.5 324.88L124.5 324.88L124.3 324.88L124.3 324.88L124 324.88L124 323.6L123.2 323.6L123.2 323.6L122.7 323.6L122.7 322.3L121.9 322.3L121.9 322.3L121.65 322.3L121.65 322.3L120.6 322.3L120.6 322.3L118.65 322.3L118.65 322.3L115.4 322.3L115.4 322.3L114.3 322.3L114.3 321L105.9 321L105.9 319.7L105.8 319.7L105.8 319.7L105.6 319.7L105.6 319.7L104.7 319.7L104.7 319.7L104.6 319.7L104.6 319.7L104.54 319.7L104.54 318.4L103.19 318.4L103.19 317.1L101.83 317.1L101.83 315.8L100.47 315.8L100.47 314.5L100.3 314.5L100.3 314.5L99.11 314.5L99.11 313.2L97.76 313.2L97.76 311.9L97.3 311.9L97.3 311.9L96.4 311.9L96.4 310.72L96.3 310.72L96.3 310.72L96 310.72L96 310.72L94.05 310.72L94.05 309.55L91.7 309.55L91.7 308.38L89.35 308.38L89.35 307.2L87 307.2L87 301.3L86.7 301.3L86.7 301.3L85.7 301.3L85.7 299.57L85.65 299.57L85.65 299.57L84.6 299.57L84.6 299.57L84.4 299.57L84.4 299.57L84.27 299.57L84.27 297.83L83.6 297.83L83.6 297.83L83.5 297.83L83.5 297.83L82.83 297.83L82.83 296.1L82.5 296.1L82.5 296.1L82.2 296.1L82.2 296.1L81.4 296.1L81.4 294.5L80.9 294.5L80.9 294.5L80.1 294.5L80.1 292.9L79.85 292.9L79.85 292.9L79.6 292.9L79.6 292.9L78.8 292.9L78.8 291.3L78.3 291.3L78.3 291.3L77.5 291.3L77.5 289.7L76.7 289.7L76.7 289.7L76.2 289.7L76.2 288.47L75.8 288.47L75.8 288.47L75.1 288.47L75.1 288.47L74.8 288.47L74.8 288.47L74.6 288.47L74.6 287.23L73.8 287.23L73.8 287.23L73 287.23L73 286L71.4 286L71.4 284.77L69.8 284.77L69.8 283.53L68.2 283.53L68.2 282.3L66.6 282.3L66.6 281L65.2 281L65.2 281L65.05 281L65.05 281L64.5 281L64.5 275L64.25 275L64.25 275L63.5 275L63.5 275L63.3 275L63.3 275L63 275L63 273.5L62.4 273.5L62.4 273.5L61.85 273.5L61.85 273.5L61.65 273.5L61.65 272L61.3 272L61.3 272L60.4 272L60.4 272L60.3 272L60.3 253L60.15 253L60.15 253L59.5 253L59.5 252.5L59.4 252.5L59.4 252.5L59 252.5L59 252.5L58.05 252.5L58.05 252.5L57.1 252.5L57.1 252.5L56.2 252.5L56.2 244L55.55 244L55.55 244L55.3 244L55.3 242.5L54.15 242.5L54.15 241L54 241L54 241L53 241L53 238.8L52.85 238.8L52.85 238.8L51.7 238.8Z" fill="#d5e1ea" stroke="none"/>
<path d="M51.7 238.8L52.85 238.8L52.85 238.8L53 238.8L53 238.8L54 238.8L54 238.8L54.15 238.8L54.15 238.8L55.3 238.8L55.3 238.8L55.55 238.8L55.55 238.8L56.2 238.8L56.2 238.8L57.1 238.8L57.1 238.8L58.05 238.8L58.05 238.8L59 238.8L59 238.8L59.4 238.8L59.4 238.8L59.5 238.8L59.5 238.8L60.15 238.8L60.15 238.8L60.3 238.8L60.3 238.8L60.4 238.8L60.4 242.6L61.3 242.6L61.3 242.6L61.65 242.6L61.65 242.6L61.85 242.6L61.85 245.5L62.4 245.5L62.4 245.5L63 245.5L63 245.5L63.3 245.5L63.3 248.4L63.5 248.4L63.5 248.4L64.25 248.4L64.25 249.85L64.5 249.85L64.5 249.85L65.05 249.85L65.05 249.85L65.2 249.85L65.2 251.3L66.6 251.3L66.6 251.3L68.2 251.3L68.2 251.3L69.8 251.3L69.8 251.3L71.4 251.3L71.4 251.3L73 251.3L73 251.3L73.8 251.3L73.8 252.2L74.6 252.2L74.6 252.2L74.8 252.2L74.8 254.15L75.1 254.15L75.1 254.15L75.8 254.15L75.8 256.1L76.2 256.1L76.2 256.1L76.7 256.1L76.7 256.1L77.5 256.1L77.5 256.1L78.3 256.1L78.3 256.1L78.8 256.1L78.8 256.1L79.6 256.1L79.6 257L79.85 257L79.85 257L80.1 257L80.1 257L80.9 257L80.9 258.3L81.4 258.3L81.4 258.3L82.2 258.3L82.2 259.6L82.5 259.6L82.5 259.6L82.83 259.6L82.83 259.6L83.5 259.6L83.5 260.9L83.6 260.9L83.6 260.9L84.27 260.9L84.27 260.9L84.4 260.9L84.4 268.6L84.6 268.6L84.6 268.6L85.65 268.6L85.65 268.6L85.7 268.6L85.7 268.6L86.7 268.6L86.7 268.6L87 268.6L87 268.6L89.35 268.6L89.35 268.6L91.7 268.6L91.7 268.6L94.05 268.6L94.05 268.6L96 268.6L96 269.5L96.3 269.5L96.3 269.5L96.4 269.5L96.4 269.5L97.3 269.5L97.3 269.5L97.76 269.5L97.76 269.5L99.11 269.5L99.11 269.5L100.3 269.5L100.3 270.5L100.47 270.5L100.47 270.5L101.83 270.5L101.83 270.5L103.19 270.5L103.19 270.5L104.54 270.5L104.54 270.5L104.6 270.5L104.6 271.5L104.7 271.5L104.7 271.5L105.6 271.5L105.6 282L105.8 282L105.8 282L105.9 282L105.9 282L114.3 282L114.3 282L115.4 282L115.4 283.5L118.65 283.5L118.65 284.7L120.6 284.7L120.6 284.7L121.65 284.7L121.65 284.7L121.9 284.7L121.9 285.9L122.7 285.9L122.7 285.9L123.2 285.9L123.2 287.5L124 287.5L124 287.5L124.3 287.5L124.3 287.5L124.5 287.5L124.5 289.1L125.3 289.1L125.3 289.1L125.8 289.1L125.8 290.7L125.9 290.7L125.9 290.7L126.6 290.7L126.6 290.7L126.95 290.7L126.95 290.7L127.9 290.7L127.9 290.7L128 290.7L128 290.7L129.2 290.7L129.2 290.7L131.13 290.7L131.13 290.7L133.07 290.7L133.07 290.7L135 290.7L135 290.7L136.93 290.7L136.93 290.7L138.87 290.7L138.87 290.7L139.6 290.7L139.6 290.7L140.2 290.7L140.2 291.7L140.65 291.7L140.65 291.7L140.8 291.7L140.8 291.7L141.2 291.7L141.2 296.5L141.7 296.5L141.7 296.5L142.23 296.5L142.23 296.5L142.85 296.5L142.85 296.5L143.3 296.5L143.3 298.05L143.65 298.05L143.65 298.05L144 298.05L144 298.05L145 298.05L145 298.05L145.07 298.05L145.07 298.05L145.4 298.05L145.4 299.6L146 299.6L146 299.6L146.5 299.6L146.5 301.2L244.2 301.2L244.2 301.2L244.2 344.6L244.2 344.6L146.5 344.6L146.5 342.95L146 342.95L146 342.95L145.4 342.95L145.4 342.95L145.07 342.95L145.07 341.3L145 341.3L145 341.3L144 341.3L144 341.3L143.65 341.3L143.65 339.65L143.3 339.65L143.3 339.65L142.85 339.65L142.85 339.65L142.23 339.65L142.23 338L141.7 338L141.7 338L141.2 338L141.2 338L140.8 338L140.8 336.67L140.65 336.67L140.65 336.67L140.2 336.67L140.2 336.67L139.6 336.67L139.6 336.67L138.87 336.67L138.87 335.33L136.93 335.33L136.93 334L135 334L135 332.67L133.07 332.67L133.07 331.33L131.13 331.33L131.13 330L129.2 330L129.2 328.72L128 328.72L128 328.72L127.9 328.72L127.9 327.44L126.95 327.44L126.95 327.44L126.6 327.44L126.6 326.16L125.9 326.16L125.9 326.16L125.8 326.16L125.8 326.16L125.3 326.16L125.3 324.88L124.5 324.88L124.5 324.88L124.3 324.88L124.3 324.88L124 324.88L124 323.6L123.2 323.6L123.2 323.6L122.7 323.6L122.7 322.3L121.9 322.3L121.9 322.3L121.65 322.3L121.65 322.3L120.6 322.3L120.6 322.3L118.65 322.3L118.65 322.3L115.4 322.3L115.4 322.3L114.3 322.3L114.3 321L105.9 321L105.9 319.7L105.8 319.7L105.8 319.7L105.6 319.7L105.6 319.7L104.7 319.7L104.7 319.7L104.6 319.7L104.6 319.7L104.54 319.7L104.54 318.4L103.19 318.4L103.19 317.1L101.83 317.1L101.83 315.8L100.47 315.8L100.47 314.5L100.3 314.5L100.3 314.5L99.11 314.5L99.11 313.2L97.76 313.2L97.76 311.9L97.3 311.9L97.3 311.9L96.4 311.9L96.4 310.72L96.3 310.72L96.3 310.72L96 310.72L96 310.72L94.05 310.72L94.05 309.55L91.7 309.55L91.7 308.38L89.35 308.38L89.35 307.2L87 307.2L87 301.3L86.7 301.3L86.7 301.3L85.7 301.3L85.7 299.57L85.65 299.57L85.65 299.57L84.6 299.57L84.6 299.57L84.4 299.57L84.4 299.57L84.27 299.57L84.27 297.83L83.6 297.83L83.6 297.83L83.5 297.83L83.5 297.83L82.83 297.83L82.83 296.1L82.5 296.1L82.5 296.1L82.2 296.1L82.2 296.1L81.4 296.1L81.4 294.5L80.9 294.5L80.9 294.5L80.1 294.5L80.1 292.9L79.85 292.9L79.85 292.9L79.6 292.9L79.6 292.9L78.8 292.9L78.8 291.3L78.3 291.3L78.3 291.3L77.5 291.3L77.5 289.7L76.7 289.7L76.7 289.7L76.2 289.7L76.2 288.47L75.8 288.47L75.8 288.47L75.1 288.47L75.1 288.47L74.8 288.47L74.8 288.47L74.6 288.47L74.6 287.23L73.8 287.23L73.8 287.23L73 287.23L73 286L71.4 286L71.4 284.77L69.8 284.77L69.8 283.53L68.2 283.53L68.2 282.3L66.6 282.3L66.6 281L65.2 281L65.2 281L65.05 281L65.05 281L64.5 281L64.5 275L64.25 275L64.25 275L63.5 275L63.5 275L63.3 275L63.3 275L63 275L63 273.5L62.4 273.5L62.4 273.5L61.85 273.5L61.85 273.5L61.65 273.5L61.65 272L61.3 272L61.3 272L60.4 272L60.4 272L60.3 272L60.3 253L60.15 253L60.15 253L59.5 253L59.5 252.5L59.4 252.5L59.4 252.5L59 252.5L59 252.5L58.05 252.5L58.05 252.5L57.1 252.5L57.1 252.5L56.2 252.5L56.2 244L55.55 244L55.55 244L55.3 244L55.3 242.5L54.15 242.5L54.15 241L54 241L54 241L53 241L53 238.8L52.85 238.8L52.85 238.8L51.7 238.8Z" fill="#cbbec9" stroke="none" clip-path="url(#clipC)"/>
<path d="M51.7 238.8H53.15V240.7H54.6V242.6H55.55V246.95H56.5V251.3H58.5V252.2H59.4V256.1H60.4V276.3H63.3V277.2H64.25V283.95H65.2V290.7H66V305H69.2V305.4H70.2V313.8H79.6V314.2H80.7V323.8H86.3H87.5V328.9H103.5V329.2H105V333.8H105.8V343.1H111.2H111.9V347.7H118.1V352.3H158.1H158.8V356.9H161.2V357.2H161.5V361.5H208.7V361.8H208.9V366.8H244.2" fill="none" stroke="#cc2c40" stroke-width="1.5"/>
<path d="M51.7 238.8H52.85V239.9H54V241H55.55V242.1H57.1V243.2H58.05V244.6H59V246H60.15V249.35H61.3V252.7H62.4V259H63.5V265.4H65.05V268.55H66.6V271.7H75.1V272.8H76.7V273.85H78.3V274.9H79.85V276.5H81.4V278.1H82.5V279.7H83.6V281.3H84.6V286.5H85.65V288.1H86.7V289.7H96.3V290.8H97.3V293.9H104.7V294.6H105.8V305.6H120.6V306.6H121.65V308.2H122.7V309.8H124.3V311.4H125.9V313H126.95V314.05H128V315.1H139.6V315.7H140.65V318.05H141.7V320.4H142.85V321.7H144V323H145V324.35H146V325.7H146.5V326.6H244.2" fill="none" stroke="#266a9e" stroke-width="1.5"/>
<line x1="131.5" x2="131.5" y1="313.2" y2="318.4" stroke="#266a9e" stroke-width="1.3"/>
<line x1="140.8" x2="140.8" y1="316.6" y2="321.8" stroke="#266a9e" stroke-width="1.3"/>
<line x1="158.7" x2="158.7" y1="324" y2="329.2" stroke="#266a9e" stroke-width="1.3"/>
<line x1="177.9" x2="177.9" y1="324" y2="329.2" stroke="#266a9e" stroke-width="1.3"/>
<line x1="179.8" x2="179.8" y1="324" y2="329.2" stroke="#266a9e" stroke-width="1.3"/>
<line x1="196.5" x2="196.5" y1="324" y2="329.2" stroke="#266a9e" stroke-width="1.3"/>
<line x1="233.7" x2="233.7" y1="324" y2="329.2" stroke="#266a9e" stroke-width="1.3"/>
</g>
<g transform="translate(0 221.2)">
<path d="M41.2 13.2V177.6H246.8" fill="none" stroke="#262626" stroke-width="1.3"/>
<rect x="45.8" y="159.2" width="6.6" height="6.6" fill="#cc2c40" fill-opacity="0.3"/>
<line x1="45.8" x2="52.4" y1="162.5" y2="162.5" stroke="#cc2c40" stroke-width="1.2"/>
<line x1="49.1" x2="49.1" y1="160.5" y2="164.5" stroke="#cc2c40" stroke-width="0.9"/>
<rect x="45.8" y="166.5" width="6.6" height="6.6" fill="#266a9e" fill-opacity="0.2"/>
<line x1="45.8" x2="52.4" y1="169.8" y2="169.8" stroke="#266a9e" stroke-width="1.2"/>
<line x1="49.1" x2="49.1" y1="167.8" y2="171.8" stroke="#266a9e" stroke-width="0.9"/>
<text x="55" y="165.1" font-size="6.8" fill="#222">ERA1</text>
<text x="55" y="172.5" font-size="6.8" fill="#222">ERA2</text>
<text x="140.4" y="198.9" font-size="8.4" fill="#1a1a1a" stroke="#1a1a1a" stroke-width="0.1" text-anchor="middle" textLength="79" lengthAdjust="spacingAndGlyphs">Time after diagnosis (years)</text>
<text transform="translate(13.6 91.7) rotate(-90)" x="0" y="0" font-size="8.4" fill="#1a1a1a" stroke="#1a1a1a" stroke-width="0.1" text-anchor="middle" textLength="65" lengthAdjust="spacingAndGlyphs">Event-free survival (%)</text>
<text x="41.9" y="207.5" font-size="7.2" fill="#333" textLength="47" lengthAdjust="spacingAndGlyphs">Number at risk</text>
<text x="21.25" y="216.9" font-size="7" fill="#cc2c40">ERA1</text>
<text x="21.25" y="226.4" font-size="7" fill="#266a9e">ERA2</text>
<text x="50.25" y="216.9" font-size="7" fill="#cc2c40" text-anchor="middle">32</text>
<text x="50.25" y="226.4" font-size="7" fill="#266a9e" text-anchor="middle">49</text>
<text x="87.15" y="216.9" font-size="7" fill="#cc2c40" text-anchor="middle">13</text>
<text x="87.15" y="226.4" font-size="7" fill="#266a9e" text-anchor="middle">32</text>
<text x="124.05" y="216.9" font-size="7" fill="#cc2c40" text-anchor="middle">8</text>
<text x="124.05" y="226.4" font-size="7" fill="#266a9e" text-anchor="middle">26</text>
<text x="160.95" y="216.9" font-size="7" fill="#cc2c40" text-anchor="middle">7</text>
<text x="160.95" y="226.4" font-size="7" fill="#266a9e" text-anchor="middle">14</text>
<text x="197.85" y="216.9" font-size="7" fill="#cc2c40" text-anchor="middle">6</text>
<text x="197.85" y="226.4" font-size="7" fill="#266a9e" text-anchor="middle">7</text>
<text x="234.75" y="216.9" font-size="7" fill="#cc2c40" text-anchor="middle">5</text>
<text x="234.75" y="226.4" font-size="7" fill="#266a9e" text-anchor="middle">3</text>
</g>
<g transform="translate(266.8 221.2)">
<text x="3.6" y="16.5" font-size="10.8" font-weight="bold" fill="#111" stroke="#111" stroke-width="0.3">D</text>
<text x="34.7" y="172.5" font-size="7.5" fill="#3a3a3a" text-anchor="end">0.00</text>
<line x1="38" x2="41.2" y1="169.6" y2="169.6" stroke="#333" stroke-width="0.9"/>
<text x="34.7" y="134.44" font-size="7.5" fill="#3a3a3a" text-anchor="end">0.25</text>
<line x1="38" x2="41.2" y1="131.54" y2="131.54" stroke="#333" stroke-width="0.9"/>
<text x="34.7" y="96.38" font-size="7.5" fill="#3a3a3a" text-anchor="end">0.50</text>
<line x1="38" x2="41.2" y1="93.47" y2="93.47" stroke="#333" stroke-width="0.9"/>
<text x="34.7" y="58.31" font-size="7.5" fill="#3a3a3a" text-anchor="end">0.75</text>
<line x1="38" x2="41.2" y1="55.41" y2="55.41" stroke="#333" stroke-width="0.9"/>
<text x="34.7" y="20.25" font-size="7.5" fill="#3a3a3a" text-anchor="end">1.00</text>
<line x1="38" x2="41.2" y1="17.35" y2="17.35" stroke="#333" stroke-width="0.9"/>
<line x1="50.25" x2="50.25" y1="177.6" y2="180.4" stroke="#333" stroke-width="0.9"/>
<text x="50.25" y="189.6" font-size="7.5" fill="#3a3a3a" text-anchor="middle">0</text>
<line x1="87.15" x2="87.15" y1="177.6" y2="180.4" stroke="#333" stroke-width="0.9"/>
<text x="87.15" y="189.6" font-size="7.5" fill="#3a3a3a" text-anchor="middle">2</text>
<line x1="124.05" x2="124.05" y1="177.6" y2="180.4" stroke="#333" stroke-width="0.9"/>
<text x="124.05" y="189.6" font-size="7.5" fill="#3a3a3a" text-anchor="middle">4</text>
<line x1="160.95" x2="160.95" y1="177.6" y2="180.4" stroke="#333" stroke-width="0.9"/>
<text x="160.95" y="189.6" font-size="7.5" fill="#3a3a3a" text-anchor="middle">6</text>
<line x1="197.85" x2="197.85" y1="177.6" y2="180.4" stroke="#333" stroke-width="0.9"/>
<text x="197.85" y="189.6" font-size="7.5" fill="#3a3a3a" text-anchor="middle">8</text>
<line x1="234.75" x2="234.75" y1="177.6" y2="180.4" stroke="#333" stroke-width="0.9"/>
<text x="234.75" y="189.6" font-size="7.5" fill="#3a3a3a" text-anchor="middle">10</text>
</g>
<g>
<clipPath id="clipD"><path d="M317.8 238.1L322.4 238.1L322.4 238.1L323.5 238.1L323.5 238.1L324.65 238.1L324.65 238.1L325 238.1L325 238.1L325.8 238.1L325.8 238.1L326.5 238.1L326.5 238.1L327 238.1L327 238.1L327.83 238.1L327.83 238.1L328.2 238.1L328.2 238.1L329.17 238.1L329.17 238.1L329.6 238.1L329.6 238.1L330.5 238.1L330.5 238.1L331.82 238.1L331.82 238.1L332.4 238.1L332.4 238.5L333.15 238.5L333.15 238.5L333.4 238.5L333.4 241.7L334.48 241.7L334.48 241.7L335 241.7L335 241.7L335.8 241.7L335.8 241.7L336.5 241.7L336.5 241.7L337.02 241.7L337.02 241.7L337.2 241.7L337.2 242.7L338.24 242.7L338.24 242.7L339.46 242.7L339.46 242.7L339.6 242.7L339.6 244.15L340.4 244.15L340.4 244.15L340.68 244.15L340.68 244.15L341.9 244.15L341.9 244.15L342 244.15L342 245.6L343.45 245.6L343.45 245.6L344.4 245.6L344.4 247.05L345 247.05L345 247.05L345.8 247.05L345.8 247.05L346.55 247.05L346.55 247.05L346.8 247.05L346.8 248.5L348.1 248.5L348.1 248.5L348.25 248.5L348.25 249.9L349.7 249.9L349.7 251.3L351.15 251.3L351.15 252.75L352.6 252.75L352.6 254.2L353.5 254.2L353.5 254.2L353.55 254.2L353.55 256.15L354.2 256.15L354.2 256.15L354.5 256.15L354.5 258.1L355 258.1L355 258.1L355.8 258.1L355.8 258.1L357.3 258.1L357.3 258.1L358.1 258.1L358.1 258.1L358.8 258.1L358.8 258.1L359.3 258.1L359.3 259L359.6 259L359.6 259L360.3 259L360.3 260.45L361.15 260.45L361.15 260.45L361.3 260.45L361.3 261.9L362.25 261.9L362.25 263.85L362.7 263.85L362.7 263.85L363.2 263.85L363.2 265.8L363.5 265.8L363.5 265.8L364.2 265.8L364.2 265.8L365 265.8L365 265.8L367.3 265.8L367.3 265.8L368.1 265.8L368.1 265.8L369.9 265.8L369.9 266.7L370.85 266.7L370.85 268.65L371.2 268.65L371.2 268.65L371.8 268.65L371.8 270.6L371.9 270.6L371.9 270.6L372.7 270.6L372.7 270.6L372.8 270.6L372.8 272.5L373.8 272.5L373.8 274.4L374.2 274.4L374.2 274.4L376.5 274.4L376.5 274.4L378.1 274.4L378.1 274.4L378.8 274.4L378.8 274.4L381.15 274.4L381.15 274.4L383.5 274.4L383.5 274.4L386.55 274.4L386.55 274.4L388.2 274.4L388.2 274.4L388.8 274.4L388.8 274.4L389.15 274.4L389.15 275.35L389.6 275.35L389.6 275.35L390.1 275.35L390.1 276.3L391.03 276.3L391.03 276.3L392.05 276.3L392.05 277.75L392.47 277.75L392.47 277.75L393.9 277.75L393.9 277.75L394 277.75L394 279.2L394.9 279.2L394.9 283.1L395 283.1L395 283.1L395.43 283.1L395.43 283.1L395.8 283.1L395.8 283.1L396.97 283.1L396.97 283.1L398.5 283.1L398.5 283.1L401.55 283.1L401.55 283.1L403.5 283.1L403.5 283.1L403.8 283.1L403.8 287.3L404.6 287.3L404.6 287.3L406.05 287.3L406.05 287.3L407.5 287.3L407.5 287.3L408.95 287.3L408.95 287.3L410.4 287.3L410.4 287.3L410.8 287.3L410.8 288.1L411.5 288.1L411.5 292.7L413 292.7L413 292.7L415.6 292.7L415.6 292.7L418.2 292.7L418.2 292.7L419.6 292.7L419.6 292.7L420 292.7L420 293.2L420.8 293.2L420.8 297.3L422.8 297.3L422.8 297.3L424.8 297.3L424.8 297.3L426.8 297.3L426.8 297.3L427.7 297.3L427.7 297.8L428.5 297.8L428.5 301.9L428.8 301.9L428.8 301.9L432.27 301.9L432.27 301.9L435.73 301.9L435.73 301.9L438.1 301.9L438.1 301.9L438.5 301.9L438.5 302.4L439.2 302.4L439.2 306.5L443.47 306.5L443.47 306.5L447.73 306.5L447.73 306.5L451.9 306.5L451.9 306.5L452 306.5L452 306.5L452.3 306.5L452.3 307L453.1 307L453.1 311.9L453.67 311.9L453.67 311.9L455.33 311.9L455.33 311.9L456.5 311.9L456.5 311.9L457 311.9L457 312L457.7 312L457.7 316.2L458.77 316.2L458.77 316.2L460.53 316.2L460.53 316.2L461.2 316.2L461.2 316.2L462.3 316.2L462.3 316.2L462.7 316.2L462.7 326.9L475 326.9L475 326.9L475.4 326.9L475.4 326.9L476.2 326.9L476.2 333.5L476.4 333.5L476.4 333.5L510.8 333.5L510.8 333.5L510.8 376.5L510.8 376.5L476.4 376.5L476.4 369.3L476.2 369.3L476.2 369.3L475.4 369.3L475.4 369.3L475 369.3L475 369.3L462.7 369.3L462.7 369.3L462.3 369.3L462.3 367.97L461.2 367.97L461.2 367.97L460.53 367.97L460.53 366.63L458.77 366.63L458.77 365.3L457.7 365.3L457.7 365.3L457 365.3L457 364.2L456.5 364.2L456.5 364.2L455.33 364.2L455.33 363.1L453.67 363.1L453.67 362L453.1 362L453.1 362L452.3 362L452.3 362L452 362L452 360.63L451.9 360.63L451.9 360.63L447.73 360.63L447.73 359.27L443.47 359.27L443.47 357.9L439.2 357.9L439.2 356.53L438.5 356.53L438.5 356.53L438.1 356.53L438.1 356.53L435.73 356.53L435.73 355.17L432.27 355.17L432.27 353.8L428.8 353.8L428.8 352.55L428.5 352.55L428.5 352.55L427.7 352.55L427.7 352.55L426.8 352.55L426.8 351.3L424.8 351.3L424.8 350.05L422.8 350.05L422.8 348.8L420.8 348.8L420.8 347.65L420 347.65L420 347.65L419.6 347.65L419.6 347.65L418.2 347.65L418.2 346.5L415.6 346.5L415.6 345.35L413 345.35L413 344.2L411.5 344.2L411.5 344.2L410.8 344.2L410.8 344.2L410.4 344.2L410.4 343.05L408.95 343.05L408.95 341.9L407.5 341.9L407.5 340.75L406.05 340.75L406.05 339.6L404.6 339.6L404.6 338.8L403.8 338.8L403.8 338.8L403.5 338.8L403.5 338.8L401.55 338.8L401.55 338L398.5 338L398.5 336.83L396.97 336.83L396.97 335.67L395.8 335.67L395.8 335.67L395.43 335.67L395.43 334.5L395 334.5L395 334.5L394.9 334.5L394.9 334.5L394 334.5L394 334.5L393.9 334.5L393.9 333L392.47 333L392.47 331.5L392.05 331.5L392.05 331.5L391.03 331.5L391.03 330L390.1 330L390.1 330L389.6 330L389.6 328.45L389.15 328.45L389.15 328.45L388.8 328.45L388.8 328.45L388.2 328.45L388.2 328.45L386.55 328.45L386.55 326.9L383.5 326.9L383.5 325.35L381.15 325.35L381.15 323.8L378.8 323.8L378.8 322.3L378.1 322.3L378.1 322.3L376.5 322.3L376.5 320.8L374.2 320.8L374.2 317.7L373.8 317.7L373.8 317.7L372.8 317.7L372.8 317.7L372.7 317.7L372.7 314.6L371.9 314.6L371.9 314.6L371.8 314.6L371.8 314.6L371.2 314.6L371.2 313.1L370.85 313.1L370.85 313.1L369.9 313.1L369.9 313.1L368.1 313.1L368.1 313.1L367.3 313.1L367.3 313.1L365 313.1L365 308.5L364.2 308.5L364.2 308.5L363.5 308.5L363.5 306.95L363.2 306.95L363.2 306.95L362.7 306.95L362.7 306.95L362.25 306.95L362.25 306.95L361.3 306.95L361.3 306.95L361.15 306.95L361.15 305.4L360.3 305.4L360.3 305.4L359.6 305.4L359.6 305.4L359.3 305.4L359.3 305.4L358.8 305.4L358.8 303.1L358.1 303.1L358.1 303.1L357.3 303.1L357.3 300.8L355.8 300.8L355.8 299.25L355 299.25L355 297.7L354.5 297.7L354.5 297.7L354.2 297.7L354.2 296.2L353.55 296.2L353.55 296.2L353.5 296.2L353.5 296.2L352.6 296.2L352.6 296.2L351.15 296.2L351.15 296.2L349.7 296.2L349.7 296.2L348.25 296.2L348.25 296.2L348.1 296.2L348.1 293.5L346.8 293.5L346.8 293.5L346.55 293.5L346.55 290.8L345.8 290.8L345.8 290.8L345 290.8L345 288.1L344.4 288.1L344.4 288.1L343.45 288.1L343.45 285.4L342 285.4L342 285.4L341.9 285.4L341.9 282.62L340.68 282.62L340.68 279.84L340.4 279.84L340.4 279.84L339.6 279.84L339.6 279.84L339.46 279.84L339.46 277.06L338.24 277.06L338.24 274.28L337.2 274.28L337.2 274.28L337.02 274.28L337.02 271.5L336.5 271.5L336.5 271.5L335.8 271.5L335.8 269.12L335 269.12L335 269.12L334.48 269.12L334.48 266.75L333.4 266.75L333.4 266.75L333.15 266.75L333.15 264.38L332.4 264.38L332.4 264.38L331.82 264.38L331.82 262L330.5 262L330.5 260.07L329.6 260.07L329.6 260.07L329.17 260.07L329.17 258.13L328.2 258.13L328.2 258.13L327.83 258.13L327.83 256.2L327 256.2L327 256.2L326.5 256.2L326.5 251.5L325.8 251.5L325.8 251.5L325 251.5L325 246.8L324.65 246.8L324.65 246.8L323.5 246.8L323.5 238.8L322.4 238.8L322.4 238.1L317.8 238.1Z"/></clipPath>
<path d="M317.8 238.1L322.4 238.1L322.4 238.1L323.5 238.1L323.5 238.1L324.65 238.1L324.65 238.1L325 238.1L325 238.1L325.8 238.1L325.8 238.1L326.5 238.1L326.5 238.1L327 238.1L327 238.1L327.83 238.1L327.83 238.1L328.2 238.1L328.2 238.1L329.17 238.1L329.17 238.1L329.6 238.1L329.6 238.1L330.5 238.1L330.5 238.1L331.82 238.1L331.82 238.1L332.4 238.1L332.4 238.5L333.15 238.5L333.15 238.5L333.4 238.5L333.4 241.7L334.48 241.7L334.48 241.7L335 241.7L335 241.7L335.8 241.7L335.8 241.7L336.5 241.7L336.5 241.7L337.02 241.7L337.02 241.7L337.2 241.7L337.2 242.7L338.24 242.7L338.24 242.7L339.46 242.7L339.46 242.7L339.6 242.7L339.6 244.15L340.4 244.15L340.4 244.15L340.68 244.15L340.68 244.15L341.9 244.15L341.9 244.15L342 244.15L342 245.6L343.45 245.6L343.45 245.6L344.4 245.6L344.4 247.05L345 247.05L345 247.05L345.8 247.05L345.8 247.05L346.55 247.05L346.55 247.05L346.8 247.05L346.8 248.5L348.1 248.5L348.1 248.5L348.25 248.5L348.25 249.9L349.7 249.9L349.7 251.3L351.15 251.3L351.15 252.75L352.6 252.75L352.6 254.2L353.5 254.2L353.5 254.2L353.55 254.2L353.55 256.15L354.2 256.15L354.2 256.15L354.5 256.15L354.5 258.1L355 258.1L355 258.1L355.8 258.1L355.8 258.1L357.3 258.1L357.3 258.1L358.1 258.1L358.1 258.1L358.8 258.1L358.8 258.1L359.3 258.1L359.3 259L359.6 259L359.6 259L360.3 259L360.3 260.45L361.15 260.45L361.15 260.45L361.3 260.45L361.3 261.9L362.25 261.9L362.25 263.85L362.7 263.85L362.7 263.85L363.2 263.85L363.2 265.8L363.5 265.8L363.5 265.8L364.2 265.8L364.2 265.8L365 265.8L365 265.8L367.3 265.8L367.3 265.8L368.1 265.8L368.1 265.8L369.9 265.8L369.9 266.7L370.85 266.7L370.85 268.65L371.2 268.65L371.2 268.65L371.8 268.65L371.8 270.6L371.9 270.6L371.9 270.6L372.7 270.6L372.7 270.6L372.8 270.6L372.8 272.5L373.8 272.5L373.8 274.4L374.2 274.4L374.2 274.4L376.5 274.4L376.5 274.4L378.1 274.4L378.1 274.4L378.8 274.4L378.8 274.4L381.15 274.4L381.15 274.4L383.5 274.4L383.5 274.4L386.55 274.4L386.55 274.4L388.2 274.4L388.2 274.4L388.8 274.4L388.8 274.4L389.15 274.4L389.15 275.35L389.6 275.35L389.6 275.35L390.1 275.35L390.1 276.3L391.03 276.3L391.03 276.3L392.05 276.3L392.05 277.75L392.47 277.75L392.47 277.75L393.9 277.75L393.9 277.75L394 277.75L394 279.2L394.9 279.2L394.9 283.1L395 283.1L395 283.1L395.43 283.1L395.43 283.1L395.8 283.1L395.8 283.1L396.97 283.1L396.97 283.1L398.5 283.1L398.5 283.1L401.55 283.1L401.55 283.1L403.5 283.1L403.5 283.1L403.8 283.1L403.8 287.3L404.6 287.3L404.6 287.3L406.05 287.3L406.05 287.3L407.5 287.3L407.5 287.3L408.95 287.3L408.95 287.3L410.4 287.3L410.4 287.3L410.8 287.3L410.8 288.1L411.5 288.1L411.5 292.7L413 292.7L413 292.7L415.6 292.7L415.6 292.7L418.2 292.7L418.2 292.7L419.6 292.7L419.6 292.7L420 292.7L420 293.2L420.8 293.2L420.8 297.3L422.8 297.3L422.8 297.3L424.8 297.3L424.8 297.3L426.8 297.3L426.8 297.3L427.7 297.3L427.7 297.8L428.5 297.8L428.5 301.9L428.8 301.9L428.8 301.9L432.27 301.9L432.27 301.9L435.73 301.9L435.73 301.9L438.1 301.9L438.1 301.9L438.5 301.9L438.5 302.4L439.2 302.4L439.2 306.5L443.47 306.5L443.47 306.5L447.73 306.5L447.73 306.5L451.9 306.5L451.9 306.5L452 306.5L452 306.5L452.3 306.5L452.3 307L453.1 307L453.1 311.9L453.67 311.9L453.67 311.9L455.33 311.9L455.33 311.9L456.5 311.9L456.5 311.9L457 311.9L457 312L457.7 312L457.7 316.2L458.77 316.2L458.77 316.2L460.53 316.2L460.53 316.2L461.2 316.2L461.2 316.2L462.3 316.2L462.3 316.2L462.7 316.2L462.7 326.9L475 326.9L475 326.9L475.4 326.9L475.4 326.9L476.2 326.9L476.2 333.5L476.4 333.5L476.4 333.5L510.8 333.5L510.8 333.5L510.8 376.5L510.8 376.5L476.4 376.5L476.4 369.3L476.2 369.3L476.2 369.3L475.4 369.3L475.4 369.3L475 369.3L475 369.3L462.7 369.3L462.7 369.3L462.3 369.3L462.3 367.97L461.2 367.97L461.2 367.97L460.53 367.97L460.53 366.63L458.77 366.63L458.77 365.3L457.7 365.3L457.7 365.3L457 365.3L457 364.2L456.5 364.2L456.5 364.2L455.33 364.2L455.33 363.1L453.67 363.1L453.67 362L453.1 362L453.1 362L452.3 362L452.3 362L452 362L452 360.63L451.9 360.63L451.9 360.63L447.73 360.63L447.73 359.27L443.47 359.27L443.47 357.9L439.2 357.9L439.2 356.53L438.5 356.53L438.5 356.53L438.1 356.53L438.1 356.53L435.73 356.53L435.73 355.17L432.27 355.17L432.27 353.8L428.8 353.8L428.8 352.55L428.5 352.55L428.5 352.55L427.7 352.55L427.7 352.55L426.8 352.55L426.8 351.3L424.8 351.3L424.8 350.05L422.8 350.05L422.8 348.8L420.8 348.8L420.8 347.65L420 347.65L420 347.65L419.6 347.65L419.6 347.65L418.2 347.65L418.2 346.5L415.6 346.5L415.6 345.35L413 345.35L413 344.2L411.5 344.2L411.5 344.2L410.8 344.2L410.8 344.2L410.4 344.2L410.4 343.05L408.95 343.05L408.95 341.9L407.5 341.9L407.5 340.75L406.05 340.75L406.05 339.6L404.6 339.6L404.6 338.8L403.8 338.8L403.8 338.8L403.5 338.8L403.5 338.8L401.55 338.8L401.55 338L398.5 338L398.5 336.83L396.97 336.83L396.97 335.67L395.8 335.67L395.8 335.67L395.43 335.67L395.43 334.5L395 334.5L395 334.5L394.9 334.5L394.9 334.5L394 334.5L394 334.5L393.9 334.5L393.9 333L392.47 333L392.47 331.5L392.05 331.5L392.05 331.5L391.03 331.5L391.03 330L390.1 330L390.1 330L389.6 330L389.6 328.45L389.15 328.45L389.15 328.45L388.8 328.45L388.8 328.45L388.2 328.45L388.2 328.45L386.55 328.45L386.55 326.9L383.5 326.9L383.5 325.35L381.15 325.35L381.15 323.8L378.8 323.8L378.8 322.3L378.1 322.3L378.1 322.3L376.5 322.3L376.5 320.8L374.2 320.8L374.2 317.7L373.8 317.7L373.8 317.7L372.8 317.7L372.8 317.7L372.7 317.7L372.7 314.6L371.9 314.6L371.9 314.6L371.8 314.6L371.8 314.6L371.2 314.6L371.2 313.1L370.85 313.1L370.85 313.1L369.9 313.1L369.9 313.1L368.1 313.1L368.1 313.1L367.3 313.1L367.3 313.1L365 313.1L365 308.5L364.2 308.5L364.2 308.5L363.5 308.5L363.5 306.95L363.2 306.95L363.2 306.95L362.7 306.95L362.7 306.95L362.25 306.95L362.25 306.95L361.3 306.95L361.3 306.95L361.15 306.95L361.15 305.4L360.3 305.4L360.3 305.4L359.6 305.4L359.6 305.4L359.3 305.4L359.3 305.4L358.8 305.4L358.8 303.1L358.1 303.1L358.1 303.1L357.3 303.1L357.3 300.8L355.8 300.8L355.8 299.25L355 299.25L355 297.7L354.5 297.7L354.5 297.7L354.2 297.7L354.2 296.2L353.55 296.2L353.55 296.2L353.5 296.2L353.5 296.2L352.6 296.2L352.6 296.2L351.15 296.2L351.15 296.2L349.7 296.2L349.7 296.2L348.25 296.2L348.25 296.2L348.1 296.2L348.1 293.5L346.8 293.5L346.8 293.5L346.55 293.5L346.55 290.8L345.8 290.8L345.8 290.8L345 290.8L345 288.1L344.4 288.1L344.4 288.1L343.45 288.1L343.45 285.4L342 285.4L342 285.4L341.9 285.4L341.9 282.62L340.68 282.62L340.68 279.84L340.4 279.84L340.4 279.84L339.6 279.84L339.6 279.84L339.46 279.84L339.46 277.06L338.24 277.06L338.24 274.28L337.2 274.28L337.2 274.28L337.02 274.28L337.02 271.5L336.5 271.5L336.5 271.5L335.8 271.5L335.8 269.12L335 269.12L335 269.12L334.48 269.12L334.48 266.75L333.4 266.75L333.4 266.75L333.15 266.75L333.15 264.38L332.4 264.38L332.4 264.38L331.82 264.38L331.82 262L330.5 262L330.5 260.07L329.6 260.07L329.6 260.07L329.17 260.07L329.17 258.13L328.2 258.13L328.2 258.13L327.83 258.13L327.83 256.2L327 256.2L327 256.2L326.5 256.2L326.5 251.5L325.8 251.5L325.8 251.5L325 251.5L325 246.8L324.65 246.8L324.65 246.8L323.5 246.8L323.5 238.8L322.4 238.8L322.4 238.1L317.8 238.1Z" fill="#f6d7dc" stroke="none"/>
<path d="M317.8 238.1L325.8 238.1L325.8 238.1L327 238.1L327 238.1L328 238.1L328 238.1L328.15 238.1L328.15 238.1L329.3 238.1L329.3 238.1L330.45 238.1L330.45 238.1L330.6 238.1L330.6 238.1L331.6 238.1L331.6 238.1L331.9 238.1L331.9 238.1L332.4 238.1L332.4 238.1L332.75 238.1L332.75 238.1L333.2 238.1L333.2 238.1L333.4 238.1L333.4 241L333.9 241L333.9 241L334.5 241L334.5 241L335.1 241L335.1 241L335.8 241L335.8 241L336.3 241L336.3 241.5L337.85 241.5L337.85 241.5L339.65 241.5L339.65 242.6L339.9 242.6L339.9 242.6L341.95 242.6L341.95 242.6L342 242.6L342 242.6L343 242.6L343 243.7L343.15 243.7L343.15 243.7L344 243.7L344 243.7L344.3 243.7L344.3 243.7L344.9 243.7L344.9 244.65L345.45 244.65L345.45 244.65L346.05 244.65L346.05 244.65L346.6 244.65L346.6 244.65L346.8 244.65L346.8 245.6L347.75 245.6L347.75 245.6L348.1 245.6L348.1 245.6L348.25 245.6L348.25 247.5L348.9 247.5L348.9 247.5L349.32 247.5L349.32 247.5L349.7 247.5L349.7 249.4L350.05 249.4L350.05 249.4L350.54 249.4L350.54 249.4L351.15 249.4L351.15 250.7L351.2 250.7L351.2 250.7L351.76 250.7L351.76 250.7L352.35 250.7L352.35 250.7L352.6 250.7L352.6 252L352.98 252L352.98 252L353.5 252L353.5 252L353.55 252L353.55 254L354.2 254L354.2 254L354.5 254L354.5 256L354.7 256L354.7 256L355.5 256L355.5 256L356.35 256L356.35 257.2L356.8 257.2L356.8 257.2L358.1 257.2L358.1 257.2L358.2 257.2L358.2 258.4L359.25 258.4L359.25 258.4L359.3 258.4L359.3 258.4L359.33 258.4L359.33 259.53L360.4 259.53L360.4 259.53L360.45 259.53L360.45 259.53L360.47 259.53L360.47 260.67L361.6 260.67L361.6 261.8L361.67 261.8L361.67 261.8L362.75 261.8L362.75 264.15L362.93 264.15L362.93 264.15L363.9 264.15L363.9 266.5L364.2 266.5L364.2 266.5L365.41 266.5L365.41 266.5L366.63 266.5L366.63 266.5L367.4 266.5L367.4 266.5L367.84 266.5L367.84 266.5L369.06 266.5L369.06 266.5L370.27 266.5L370.27 266.5L371.49 266.5L371.49 266.5L371.5 266.5L371.5 266.5L372 266.5L372 267.6L372.35 267.6L372.35 267.6L372.7 267.6L372.7 267.6L373.2 267.6L373.2 274.5L375 274.5L375 274.5L375.5 274.5L375.5 274.5L377.3 274.5L377.3 274.5L379.6 274.5L379.6 274.5L381.9 274.5L381.9 274.5L385.75 274.5L385.75 274.5L389.3 274.5L389.3 274.5L389.6 274.5L389.6 274.5L390.45 274.5L390.45 276.25L390.5 276.25L390.5 276.25L391.15 276.25L391.15 276.25L391.6 276.25L391.6 278L391.63 278L391.63 278L392.7 278L392.7 278L392.77 278L392.77 278L393.9 278L393.9 278L395 278L395 278L395.05 278L395.05 278L395.8 278L395.8 279.5L396.2 279.5L396.2 279.5L397.3 279.5L397.3 279.5L400 279.5L400 281L401.9 281L401.9 282.25L403.8 282.25L403.8 283.5L405 283.5L405 283.5L406.35 283.5L406.35 283.5L406.9 283.5L406.9 283.5L407.7 283.5L407.7 283.5L408.05 283.5L408.05 284.65L408.1 284.65L408.1 284.65L409.2 284.65L409.2 285.8L415.77 285.8L415.77 285.8L423.85 285.8L423.85 285.8L431.93 285.8L431.93 285.8L435.8 285.8L435.8 286.5L436.5 286.5L436.5 286.5L436.9 286.5L436.9 289.3L440 289.3L440 289.3L510.8 289.3L510.8 289.3L510.8 333.5L510.8 333.5L440 333.5L440 332.32L436.9 332.32L436.9 332.32L436.5 332.32L436.5 332.32L435.8 332.32L435.8 332.32L431.93 332.32L431.93 331.15L423.85 331.15L423.85 329.98L415.77 329.98L415.77 328.8L409.2 328.8L409.2 328.8L408.1 328.8L408.1 328.8L408.05 328.8L408.05 328.8L407.7 328.8L407.7 327.5L406.9 327.5L406.9 327.5L406.35 327.5L406.35 326.2L405 326.2L405 325.4L403.8 325.4L403.8 325.4L401.9 325.4L401.9 325.4L400 325.4L400 325.4L397.3 325.4L397.3 324.6L396.2 324.6L396.2 324.6L395.8 324.6L395.8 324.6L395.05 324.6L395.05 324.6L395 324.6L395 323.8L393.9 323.8L393.9 323.8L392.77 323.8L392.77 323.8L392.7 323.8L392.7 322.3L391.63 322.3L391.63 322.3L391.6 322.3L391.6 322.3L391.15 322.3L391.15 320.8L390.5 320.8L390.5 320.8L390.45 320.8L390.45 320.8L389.6 320.8L389.6 319.25L389.3 319.25L389.3 319.25L385.75 319.25L385.75 317.7L381.9 317.7L381.9 316.15L379.6 316.15L379.6 314.6L377.3 314.6L377.3 313.05L375.5 313.05L375.5 313.05L375 313.05L375 311.5L373.2 311.5L373.2 311.5L372.7 311.5L372.7 309.97L372.35 309.97L372.35 309.97L372 309.97L372 309.97L371.5 309.97L371.5 309.97L371.49 309.97L371.49 308.44L370.27 308.44L370.27 306.91L369.06 306.91L369.06 305.39L367.84 305.39L367.84 303.86L367.4 303.86L367.4 303.86L366.63 303.86L366.63 302.33L365.41 302.33L365.41 300.8L364.2 300.8L364.2 299.27L363.9 299.27L363.9 299.27L362.93 299.27L362.93 297.73L362.75 297.73L362.75 297.73L361.67 297.73L361.67 296.2L361.6 296.2L361.6 296.2L360.47 296.2L360.47 296.2L360.45 296.2L360.45 296.2L360.4 296.2L360.4 293.85L359.33 293.85L359.33 293.85L359.3 293.85L359.3 293.85L359.25 293.85L359.25 291.5L358.2 291.5L358.2 291.5L358.1 291.5L358.1 289.97L356.8 289.97L356.8 288.43L356.35 288.43L356.35 288.43L355.5 288.43L355.5 286.9L354.7 286.9L354.7 286.9L354.5 286.9L354.5 286.9L354.2 286.9L354.2 285.06L353.55 285.06L353.55 285.06L353.5 285.06L353.5 285.06L352.98 285.06L352.98 283.22L352.6 283.22L352.6 283.22L352.35 283.22L352.35 283.22L351.76 283.22L351.76 281.38L351.2 281.38L351.2 281.38L351.15 281.38L351.15 281.38L350.54 281.38L350.54 279.54L350.05 279.54L350.05 279.54L349.7 279.54L349.7 279.54L349.32 279.54L349.32 277.7L348.9 277.7L348.9 277.7L348.25 277.7L348.25 277.7L348.1 277.7L348.1 276.42L347.75 276.42L347.75 276.42L346.8 276.42L346.8 276.42L346.6 276.42L346.6 276.42L346.05 276.42L346.05 275.13L345.45 275.13L345.45 275.13L344.9 275.13L344.9 275.13L344.3 275.13L344.3 275.13L344 275.13L344 273.85L343.15 273.85L343.15 273.85L343 273.85L343 273.85L342 273.85L342 273.85L341.95 273.85L341.95 272.57L339.9 272.57L339.9 271.28L339.65 271.28L339.65 271.28L337.85 271.28L337.85 270L336.3 270L336.3 270L335.8 270L335.8 268.2L335.1 268.2L335.1 268.2L334.5 268.2L334.5 266.4L333.9 266.4L333.9 266.4L333.4 266.4L333.4 266.4L333.2 266.4L333.2 264.6L332.75 264.6L332.75 264.6L332.4 264.6L332.4 264.6L331.9 264.6L331.9 262.8L331.6 262.8L331.6 262.8L330.6 262.8L330.6 261L330.45 261L330.45 261L329.3 261L329.3 259.2L328.15 259.2L328.15 259.2L328 259.2L328 248.4L327 248.4L327 242L325.8 242L325.8 238.1L317.8 238.1Z" fill="#d5e1ea" stroke="none"/>
<path d="M317.8 238.1L325.8 238.1L325.8 238.1L327 238.1L327 238.1L328 238.1L328 238.1L328.15 238.1L328.15 238.1L329.3 238.1L329.3 238.1L330.45 238.1L330.45 238.1L330.6 238.1L330.6 238.1L331.6 238.1L331.6 238.1L331.9 238.1L331.9 238.1L332.4 238.1L332.4 238.1L332.75 238.1L332.75 238.1L333.2 238.1L333.2 238.1L333.4 238.1L333.4 241L333.9 241L333.9 241L334.5 241L334.5 241L335.1 241L335.1 241L335.8 241L335.8 241L336.3 241L336.3 241.5L337.85 241.5L337.85 241.5L339.65 241.5L339.65 242.6L339.9 242.6L339.9 242.6L341.95 242.6L341.95 242.6L342 242.6L342 242.6L343 242.6L343 243.7L343.15 243.7L343.15 243.7L344 243.7L344 243.7L344.3 243.7L344.3 243.7L344.9 243.7L344.9 244.65L345.45 244.65L345.45 244.65L346.05 244.65L346.05 244.65L346.6 244.65L346.6 244.65L346.8 244.65L346.8 245.6L347.75 245.6L347.75 245.6L348.1 245.6L348.1 245.6L348.25 245.6L348.25 247.5L348.9 247.5L348.9 247.5L349.32 247.5L349.32 247.5L349.7 247.5L349.7 249.4L350.05 249.4L350.05 249.4L350.54 249.4L350.54 249.4L351.15 249.4L351.15 250.7L351.2 250.7L351.2 250.7L351.76 250.7L351.76 250.7L352.35 250.7L352.35 250.7L352.6 250.7L352.6 252L352.98 252L352.98 252L353.5 252L353.5 252L353.55 252L353.55 254L354.2 254L354.2 254L354.5 254L354.5 256L354.7 256L354.7 256L355.5 256L355.5 256L356.35 256L356.35 257.2L356.8 257.2L356.8 257.2L358.1 257.2L358.1 257.2L358.2 257.2L358.2 258.4L359.25 258.4L359.25 258.4L359.3 258.4L359.3 258.4L359.33 258.4L359.33 259.53L360.4 259.53L360.4 259.53L360.45 259.53L360.45 259.53L360.47 259.53L360.47 260.67L361.6 260.67L361.6 261.8L361.67 261.8L361.67 261.8L362.75 261.8L362.75 264.15L362.93 264.15L362.93 264.15L363.9 264.15L363.9 266.5L364.2 266.5L364.2 266.5L365.41 266.5L365.41 266.5L366.63 266.5L366.63 266.5L367.4 266.5L367.4 266.5L367.84 266.5L367.84 266.5L369.06 266.5L369.06 266.5L370.27 266.5L370.27 266.5L371.49 266.5L371.49 266.5L371.5 266.5L371.5 266.5L372 266.5L372 267.6L372.35 267.6L372.35 267.6L372.7 267.6L372.7 267.6L373.2 267.6L373.2 274.5L375 274.5L375 274.5L375.5 274.5L375.5 274.5L377.3 274.5L377.3 274.5L379.6 274.5L379.6 274.5L381.9 274.5L381.9 274.5L385.75 274.5L385.75 274.5L389.3 274.5L389.3 274.5L389.6 274.5L389.6 274.5L390.45 274.5L390.45 276.25L390.5 276.25L390.5 276.25L391.15 276.25L391.15 276.25L391.6 276.25L391.6 278L391.63 278L391.63 278L392.7 278L392.7 278L392.77 278L392.77 278L393.9 278L393.9 278L395 278L395 278L395.05 278L395.05 278L395.8 278L395.8 279.5L396.2 279.5L396.2 279.5L397.3 279.5L397.3 279.5L400 279.5L400 281L401.9 281L401.9 282.25L403.8 282.25L403.8 283.5L405 283.5L405 283.5L406.35 283.5L406.35 283.5L406.9 283.5L406.9 283.5L407.7 283.5L407.7 283.5L408.05 283.5L408.05 284.65L408.1 284.65L408.1 284.65L409.2 284.65L409.2 285.8L415.77 285.8L415.77 285.8L423.85 285.8L423.85 285.8L431.93 285.8L431.93 285.8L435.8 285.8L435.8 286.5L436.5 286.5L436.5 286.5L436.9 286.5L436.9 289.3L440 289.3L440 289.3L510.8 289.3L510.8 289.3L510.8 333.5L510.8 333.5L440 333.5L440 332.32L436.9 332.32L436.9 332.32L436.5 332.32L436.5 332.32L435.8 332.32L435.8 332.32L431.93 332.32L431.93 331.15L423.85 331.15L423.85 329.98L415.77 329.98L415.77 328.8L409.2 328.8L409.2 328.8L408.1 328.8L408.1 328.8L408.05 328.8L408.05 328.8L407.7 328.8L407.7 327.5L406.9 327.5L406.9 327.5L406.35 327.5L406.35 326.2L405 326.2L405 325.4L403.8 325.4L403.8 325.4L401.9 325.4L401.9 325.4L400 325.4L400 325.4L397.3 325.4L397.3 324.6L396.2 324.6L396.2 324.6L395.8 324.6L395.8 324.6L395.05 324.6L395.05 324.6L395 324.6L395 323.8L393.9 323.8L393.9 323.8L392.77 323.8L392.77 323.8L392.7 323.8L392.7 322.3L391.63 322.3L391.63 322.3L391.6 322.3L391.6 322.3L391.15 322.3L391.15 320.8L390.5 320.8L390.5 320.8L390.45 320.8L390.45 320.8L389.6 320.8L389.6 319.25L389.3 319.25L389.3 319.25L385.75 319.25L385.75 317.7L381.9 317.7L381.9 316.15L379.6 316.15L379.6 314.6L377.3 314.6L377.3 313.05L375.5 313.05L375.5 313.05L375 313.05L375 311.5L373.2 311.5L373.2 311.5L372.7 311.5L372.7 309.97L372.35 309.97L372.35 309.97L372 309.97L372 309.97L371.5 309.97L371.5 309.97L371.49 309.97L371.49 308.44L370.27 308.44L370.27 306.91L369.06 306.91L369.06 305.39L367.84 305.39L367.84 303.86L367.4 303.86L367.4 303.86L366.63 303.86L366.63 302.33L365.41 302.33L365.41 300.8L364.2 300.8L364.2 299.27L363.9 299.27L363.9 299.27L362.93 299.27L362.93 297.73L362.75 297.73L362.75 297.73L361.67 297.73L361.67 296.2L361.6 296.2L361.6 296.2L360.47 296.2L360.47 296.2L360.45 296.2L360.45 296.2L360.4 296.2L360.4 293.85L359.33 293.85L359.33 293.85L359.3 293.85L359.3 293.85L359.25 293.85L359.25 291.5L358.2 291.5L358.2 291.5L358.1 291.5L358.1 289.97L356.8 289.97L356.8 288.43L356.35 288.43L356.35 288.43L355.5 288.43L355.5 286.9L354.7 286.9L354.7 286.9L354.5 286.9L354.5 286.9L354.2 286.9L354.2 285.06L353.55 285.06L353.55 285.06L353.5 285.06L353.5 285.06L352.98 285.06L352.98 283.22L352.6 283.22L352.6 283.22L352.35 283.22L352.35 283.22L351.76 283.22L351.76 281.38L351.2 281.38L351.2 281.38L351.15 281.38L351.15 281.38L350.54 281.38L350.54 279.54L350.05 279.54L350.05 279.54L349.7 279.54L349.7 279.54L349.32 279.54L349.32 277.7L348.9 277.7L348.9 277.7L348.25 277.7L348.25 277.7L348.1 277.7L348.1 276.42L347.75 276.42L347.75 276.42L346.8 276.42L346.8 276.42L346.6 276.42L346.6 276.42L346.05 276.42L346.05 275.13L345.45 275.13L345.45 275.13L344.9 275.13L344.9 275.13L344.3 275.13L344.3 275.13L344 275.13L344 273.85L343.15 273.85L343.15 273.85L343 273.85L343 273.85L342 273.85L342 273.85L341.95 273.85L341.95 272.57L339.9 272.57L339.9 271.28L339.65 271.28L339.65 271.28L337.85 271.28L337.85 270L336.3 270L336.3 270L335.8 270L335.8 268.2L335.1 268.2L335.1 268.2L334.5 268.2L334.5 266.4L333.9 266.4L333.9 266.4L333.4 266.4L333.4 266.4L333.2 266.4L333.2 264.6L332.75 264.6L332.75 264.6L332.4 264.6L332.4 264.6L331.9 264.6L331.9 262.8L331.6 262.8L331.6 262.8L330.6 262.8L330.6 261L330.45 261L330.45 261L329.3 261L329.3 259.2L328.15 259.2L328.15 259.2L328 259.2L328 248.4L327 248.4L327 242L325.8 242L325.8 238.1L317.8 238.1Z" fill="#cbbec9" stroke="none" clip-path="url(#clipD)"/>
<path d="M317.8 238.1H322.4H323.5V242.2H324.65V243.35H325.8V244.5H327V246.85H328.2V249.2H329.6V250.8H335V252.3H336.5V266.2H340.4V266.9H341.9V270.8H345V271.5H345.8V276.2H353.5V276.5H355V280H358.1V280.8H359.6V285.4H362.7V286.2H364.2V290H367.3V290.8H368.1V294.6H371.2V295.4H371.9V299.2H378.1V300H378.8V304.6H388.8V305.1H389.6V309.2H395V310H395.8V313.8H403.5V314.6H404.6V318.8H410.4V320H411.5V323.5H419.6V324.2H420.8V328.1H427.7V328.8H428.8V333.4H438.1V333.8H439.2V338H451.9V338.5H453.1V342.6H456.5V343.1H457.7V347.2H461.2V347.7H462.3V356.9H475V357.4H476.2V361.5H510.8" fill="none" stroke="#cc2c40" stroke-width="1.5"/>
<path d="M317.8 238.1H325.8H327V243.4H328.15V245.7H329.3V248H330.45V249.75H331.6V251.5H332.75V252.65H333.9V253.8H335.1V257.2H342H343.15V258.35H344.3V259.5H345.45V260.65H346.6V261.8H347.75V264.7H348.9V267.6H350.05V269.35H351.2V271.1H352.35V272.8H353.5V274.5H354.7V278H359.3V279.2H360.45V280.9H361.6V282.6H362.75V284.9H363.9V287.2H367.4V288.4H371.5H372.35V292.45H373.2V296.5H375.5V297.6H390.5H391.63V298.77H392.77V299.93H393.9V301.1H395.05V303.65H396.2V306.2H406.9H408.1V309.6H435.8H436.5V314.7H510.8" fill="none" stroke="#266a9e" stroke-width="1.5"/>
<line x1="398.5" x2="398.5" y1="303.6" y2="308.8" stroke="#266a9e" stroke-width="1.3"/>
<line x1="408.8" x2="408.8" y1="307" y2="312.2" stroke="#266a9e" stroke-width="1.3"/>
<line x1="425.8" x2="425.8" y1="307" y2="312.2" stroke="#266a9e" stroke-width="1.3"/>
<line x1="443.8" x2="443.8" y1="312.1" y2="317.3" stroke="#266a9e" stroke-width="1.3"/>
<line x1="446.2" x2="446.2" y1="312.1" y2="317.3" stroke="#266a9e" stroke-width="1.3"/>
<line x1="463.5" x2="463.5" y1="312.1" y2="317.3" stroke="#266a9e" stroke-width="1.3"/>
<line x1="500.4" x2="500.4" y1="312.1" y2="317.3" stroke="#266a9e" stroke-width="1.3"/>
<line x1="501.5" x2="501.5" y1="312.1" y2="317.3" stroke="#266a9e" stroke-width="1.3"/>
</g>
<g transform="translate(266.8 221.2)">
<path d="M41.2 13.2V177.6H246.8" fill="none" stroke="#262626" stroke-width="1.3"/>
<rect x="45.8" y="159.2" width="6.6" height="6.6" fill="#cc2c40" fill-opacity="0.3"/>
<line x1="45.8" x2="52.4" y1="162.5" y2="162.5" stroke="#cc2c40" stroke-width="1.2"/>
<line x1="49.1" x2="49.1" y1="160.5" y2="164.5" stroke="#cc2c40" stroke-width="0.9"/>
<rect x="45.8" y="166.5" width="6.6" height="6.6" fill="#266a9e" fill-opacity="0.2"/>
<line x1="45.8" x2="52.4" y1="169.8" y2="169.8" stroke="#266a9e" stroke-width="1.2"/>
<line x1="49.1" x2="49.1" y1="167.8" y2="171.8" stroke="#266a9e" stroke-width="0.9"/>
<text x="55" y="165.1" font-size="6.8" fill="#222">ERA1</text>
<text x="55" y="172.5" font-size="6.8" fill="#222">ERA2</text>
<text x="142.6" y="198.9" font-size="8.4" fill="#1a1a1a" stroke="#1a1a1a" stroke-width="0.1" text-anchor="middle" textLength="79" lengthAdjust="spacingAndGlyphs">Time after diagnosis (years)</text>
<text transform="translate(10.6 91.7) rotate(-90)" x="0" y="0" font-size="8.4" fill="#1a1a1a" stroke="#1a1a1a" stroke-width="0.1" text-anchor="middle" textLength="56" lengthAdjust="spacingAndGlyphs">Overall survival (%)</text>
<text x="41.9" y="207.5" font-size="7.2" fill="#333" textLength="47" lengthAdjust="spacingAndGlyphs">Number at risk</text>
<text x="21.25" y="216.9" font-size="7" fill="#cc2c40">ERA1</text>
<text x="21.25" y="226.4" font-size="7" fill="#266a9e">ERA2</text>
<text x="50.25" y="216.9" font-size="7" fill="#cc2c40" text-anchor="middle">32</text>
<text x="50.25" y="226.4" font-size="7" fill="#266a9e" text-anchor="middle">49</text>
<text x="87.15" y="216.9" font-size="7" fill="#cc2c40" text-anchor="middle">24</text>
<text x="87.15" y="226.4" font-size="7" fill="#266a9e" text-anchor="middle">36</text>
<text x="124.05" y="216.9" font-size="7" fill="#cc2c40" text-anchor="middle">17</text>
<text x="124.05" y="226.4" font-size="7" fill="#266a9e" text-anchor="middle">30</text>
<text x="160.95" y="216.9" font-size="7" fill="#cc2c40" text-anchor="middle">13</text>
<text x="160.95" y="226.4" font-size="7" fill="#266a9e" text-anchor="middle">18</text>
<text x="197.85" y="216.9" font-size="7" fill="#cc2c40" text-anchor="middle">7</text>
<text x="197.85" y="226.4" font-size="7" fill="#266a9e" text-anchor="middle">7</text>
<text x="234.75" y="216.9" font-size="7" fill="#cc2c40" text-anchor="middle">6</text>
<text x="234.75" y="226.4" font-size="7" fill="#266a9e" text-anchor="middle">3</text>
</g>
<g transform="translate(0 442.3)">
<text x="6.1" y="16.5" font-size="10.8" font-weight="bold" fill="#111" stroke="#111" stroke-width="0.3">E</text>
<text x="35.5" y="172.5" font-size="7.5" fill="#3a3a3a" text-anchor="end">0.00</text>
<line x1="38" x2="41.2" y1="169.6" y2="169.6" stroke="#333" stroke-width="0.9"/>
<text x="35.5" y="134.44" font-size="7.5" fill="#3a3a3a" text-anchor="end">0.25</text>
<line x1="38" x2="41.2" y1="131.54" y2="131.54" stroke="#333" stroke-width="0.9"/>
<text x="35.5" y="96.38" font-size="7.5" fill="#3a3a3a" text-anchor="end">0.50</text>
<line x1="38" x2="41.2" y1="93.47" y2="93.47" stroke="#333" stroke-width="0.9"/>
<text x="35.5" y="58.31" font-size="7.5" fill="#3a3a3a" text-anchor="end">0.75</text>
<line x1="38" x2="41.2" y1="55.41" y2="55.41" stroke="#333" stroke-width="0.9"/>
<text x="35.5" y="20.25" font-size="7.5" fill="#3a3a3a" text-anchor="end">1.00</text>
<line x1="38" x2="41.2" y1="17.35" y2="17.35" stroke="#333" stroke-width="0.9"/>
<line x1="50.25" x2="50.25" y1="177.6" y2="180.4" stroke="#333" stroke-width="0.9"/>
<text x="50.25" y="189.6" font-size="7.5" fill="#3a3a3a" text-anchor="middle">0</text>
<line x1="87.15" x2="87.15" y1="177.6" y2="180.4" stroke="#333" stroke-width="0.9"/>
<text x="87.15" y="189.6" font-size="7.5" fill="#3a3a3a" text-anchor="middle">2</text>
<line x1="124.05" x2="124.05" y1="177.6" y2="180.4" stroke="#333" stroke-width="0.9"/>
<text x="124.05" y="189.6" font-size="7.5" fill="#3a3a3a" text-anchor="middle">4</text>
<line x1="160.95" x2="160.95" y1="177.6" y2="180.4" stroke="#333" stroke-width="0.9"/>
<text x="160.95" y="189.6" font-size="7.5" fill="#3a3a3a" text-anchor="middle">6</text>
<line x1="197.85" x2="197.85" y1="177.6" y2="180.4" stroke="#333" stroke-width="0.9"/>
<text x="197.85" y="189.6" font-size="7.5" fill="#3a3a3a" text-anchor="middle">8</text>
<line x1="234.75" x2="234.75" y1="177.6" y2="180.4" stroke="#333" stroke-width="0.9"/>
<text x="234.75" y="189.6" font-size="7.5" fill="#3a3a3a" text-anchor="middle">10</text>
</g>
<g>
<clipPath id="clipE"><path d="M50.8 459.2L51.7 459.2L51.7 459.2L51.75 459.2L51.75 459.2L52.7 459.2L52.7 459.2L53.65 459.2L53.65 459.2L53.7 459.2L53.7 459.2L54.6 459.2L54.6 459.2L54.65 459.2L54.65 459.2L55.6 459.2L55.6 459.2L56.55 459.2L56.55 459.2L56.87 459.2L56.87 459.2L57.5 459.2L57.5 459.2L58.13 459.2L58.13 459.2L58.45 459.2L58.45 464.6L58.5 464.6L58.5 464.6L59.4 464.6L59.4 470L60.4 470L60.4 470L60.7 470L60.7 475L61.3 475L61.3 475L62 475L62 480L62.3 480L62.3 480L63.3 480L63.3 480L63.4 480L63.4 484.6L63.58 484.6L63.58 484.6L64.2 484.6L64.2 484.6L64.8 484.6L64.8 489.2L64.87 489.2L64.87 489.2L65.2 489.2L65.2 489.2L66.15 489.2L66.15 489.2L66.2 489.2L66.2 489.2L66.25 489.2L66.25 491.15L67.1 491.15L67.1 491.15L67.43 491.15L67.43 491.15L67.7 491.15L67.7 493.1L68.05 493.1L68.05 493.1L68.72 493.1L68.72 493.1L69 493.1L69 493.1L70 493.1L70 493.1L71.25 493.1L71.25 493.1L72.5 493.1L72.5 493.1L73.75 493.1L73.75 493.1L75 493.1L75 493.1L76.25 493.1L76.25 493.1L77.5 493.1L77.5 493.1L78.3 493.1L78.3 493.1L78.75 493.1L78.75 493.1L79.15 493.1L79.15 494.55L80 494.55L80 496L81.2 496L81.2 496L81.25 496L81.25 496L81.55 496L81.55 498.85L82.35 498.85L82.35 498.85L82.5 498.85L82.5 498.85L83.1 498.85L83.1 501.7L83.5 501.7L83.5 501.7L83.75 501.7L83.75 501.7L84.65 501.7L84.65 501.7L85 501.7L85 502.3L85.8 502.3L85.8 502.3L86.5 502.3L86.5 504.6L86.95 504.6L86.95 504.6L87 504.6L87 504.6L88.1 504.6L88.1 504.6L89 504.6L89 504.6L89.25 504.6L89.25 504.6L90 504.6L90 505.4L90.4 505.4L90.4 505.4L91 505.4L91 505.4L91.15 505.4L91.15 506.95L91.55 506.95L91.55 506.95L92.2 506.95L92.2 506.95L92.3 506.95L92.3 514.2L92.7 514.2L92.7 514.2L93.4 514.2L93.4 514.2L94.6 514.2L94.6 514.2L95.8 514.2L95.8 514.2L97 514.2L97 514.2L98.4 514.2L98.4 514.2L99.8 514.2L99.8 514.2L101.2 514.2L101.2 514.2L102.6 514.2L102.6 514.2L104 514.2L104 514.2L105.4 514.2L105.4 514.2L105.8 514.2L105.8 514.2L106.2 514.2L106.2 516.9L106.55 516.9L106.55 516.9L107.7 516.9L107.7 516.9L107.71 516.9L107.71 516.9L108.8 516.9L108.8 517.3L108.85 517.3L108.85 517.3L109.2 517.3L109.2 520L110 520L110 520L110.02 520L110.02 520L111.15 520L111.15 520L112.3 520L112.3 520L112.33 520L112.33 520L112.7 520L112.7 520.4L113.45 520.4L113.45 520.4L113.5 520.4L113.5 523.1L113.8 523.1L113.8 527.7L114.6 527.7L114.6 527.7L114.64 527.7L114.64 527.7L114.8 527.7L114.8 529.25L115.75 529.25L115.75 529.25L115.8 529.25L115.8 530.8L116.9 530.8L116.9 530.8L116.96 530.8L116.96 530.8L117.7 530.8L117.7 531.95L118.65 531.95L118.65 531.95L119.27 531.95L119.27 531.95L119.6 531.95L119.6 533.1L120.4 533.1L120.4 533.1L121.53 533.1L121.53 533.1L121.58 533.1L121.58 533.1L122.67 533.1L122.67 533.1L123.5 533.1L123.5 533.8L123.8 533.8L123.8 533.8L123.89 533.8L123.89 533.8L124.77 533.8L124.77 536L126.03 536L126.03 538.2L126.2 538.2L126.2 538.2L127.3 538.2L127.3 540.4L127.46 540.4L127.46 540.4L128.71 540.4L128.71 540.4L128.84 540.4L128.84 541.74L129.97 541.74L129.97 541.74L130.38 541.74L130.38 543.08L131.23 543.08L131.23 543.08L131.92 543.08L131.92 544.42L132.49 544.42L132.49 544.42L133.1 544.42L133.1 544.42L133.46 544.42L133.46 545.76L133.74 545.76L133.74 545.76L135 545.76L135 547.1L135.4 547.1L135.4 547.1L137.7 547.1L137.7 547.1L138.45 547.1L138.45 547.1L140 547.1L140 547.1L141.9 547.1L141.9 548L142.3 548L142.3 548L144.4 548L144.4 549.4L144.93 549.4L144.93 549.4L146.9 549.4L146.9 550.8L147.95 550.8L147.95 550.8L150.97 550.8L150.97 550.8L154 550.8L154 550.8L159.6 550.8L159.6 551.9L160.65 551.9L160.65 551.9L160.9 551.9L160.9 554.2L161 554.2L161 554.2L161.7 554.2L161.7 554.2L163.77 554.2L163.77 555.37L166.63 555.37L166.63 556.53L168.7 556.53L168.7 556.53L169.5 556.53L169.5 557.7L175.7 557.7L175.7 557.7L190.3 557.7L190.3 558.6L190.4 558.6L190.4 558.6L191.2 558.6L191.2 565.5L192.48 565.5L192.48 565.5L194.56 565.5L194.56 565.5L196.64 565.5L196.64 565.5L198.72 565.5L198.72 565.5L198.9 565.5L198.9 566.3L199.8 566.3L199.8 568.1L200.7 568.1L200.7 568.1L200.8 568.1L200.8 568.1L201.5 568.1L201.5 568.1L219.7 568.1L219.7 573.3L219.8 573.3L219.8 573.3L222.6 573.3L222.6 573.3L225.4 573.3L225.4 573.3L228.2 573.3L228.2 573.3L229.2 573.3L229.2 574.1L230.1 574.1L230.1 578L231 578L231 581.9L231.8 581.9L231.8 581.9L243.9 581.9L243.9 581.9L243.9 609.6L243.9 609.6L231.8 609.6L231.8 609.6L231 609.6L231 608.25L230.1 608.25L230.1 608.25L229.2 608.25L229.2 608.25L228.2 608.25L228.2 606.9L225.4 606.9L225.4 605.55L222.6 605.55L222.6 604.2L219.8 604.2L219.8 603.4L219.7 603.4L219.7 603.4L201.5 603.4L201.5 603.4L200.8 603.4L200.8 602L200.7 602L200.7 602L199.8 602L199.8 602L198.9 602L198.9 602L198.72 602L198.72 600.6L196.64 600.6L196.64 599.2L194.56 599.2L194.56 597.8L192.48 597.8L192.48 596.4L191.2 596.4L191.2 596.4L190.4 596.4L190.4 595.55L190.3 595.55L190.3 595.55L175.7 595.55L175.7 594.7L169.5 594.7L169.5 594.7L168.7 594.7L168.7 594.7L166.63 594.7L166.63 594.7L163.77 594.7L163.77 594.7L161.7 594.7L161.7 594.7L161 594.7L161 593.8L160.9 593.8L160.9 593.8L160.65 593.8L160.65 593.8L159.6 593.8L159.6 593.8L154 593.8L154 592.52L150.97 592.52L150.97 591.25L147.95 591.25L147.95 589.98L146.9 589.98L146.9 589.98L144.93 589.98L144.93 588.7L144.4 588.7L144.4 588.7L142.3 588.7L142.3 588.7L141.9 588.7L141.9 587.85L140 587.85L140 587.85L138.45 587.85L138.45 587L137.7 587L137.7 587L135.4 587L135.4 587L135 587L135 585.79L133.74 585.79L133.74 584.57L133.46 584.57L133.46 584.57L133.1 584.57L133.1 584.57L132.49 584.57L132.49 583.36L131.92 583.36L131.92 583.36L131.23 583.36L131.23 582.14L130.38 582.14L130.38 582.14L129.97 582.14L129.97 580.93L128.84 580.93L128.84 580.93L128.71 580.93L128.71 579.71L127.46 579.71L127.46 578.5L127.3 578.5L127.3 578.5L126.2 578.5L126.2 577.21L126.03 577.21L126.03 577.21L124.77 577.21L124.77 577.21L123.89 577.21L123.89 575.92L123.8 575.92L123.8 575.92L123.5 575.92L123.5 575.92L122.67 575.92L122.67 575.92L121.58 575.92L121.58 574.63L121.53 574.63L121.53 574.63L120.4 574.63L120.4 574.63L119.6 574.63L119.6 574.63L119.27 574.63L119.27 573.34L118.65 573.34L118.65 573.34L117.7 573.34L117.7 573.34L116.96 573.34L116.96 572.06L116.9 572.06L116.9 572.06L115.8 572.06L115.8 572.06L115.75 572.06L115.75 572.06L114.8 572.06L114.8 572.06L114.64 572.06L114.64 570.77L114.6 570.77L114.6 570.77L113.8 570.77L113.8 570.77L113.5 570.77L113.5 570.77L113.45 570.77L113.45 570.77L112.7 570.77L112.7 570.77L112.33 570.77L112.33 569.48L112.3 569.48L112.3 569.48L111.15 569.48L111.15 569.48L110.02 569.48L110.02 568.19L110 568.19L110 568.19L109.2 568.19L109.2 568.19L108.85 568.19L108.85 568.19L108.8 568.19L108.8 568.19L107.71 568.19L107.71 566.9L107.7 566.9L107.7 566.9L106.55 566.9L106.55 566.9L106.2 566.9L106.2 566.9L105.8 566.9L105.8 566.9L105.4 566.9L105.4 565.08L104 565.08L104 563.27L102.6 563.27L102.6 561.45L101.2 561.45L101.2 559.63L99.8 559.63L99.8 557.82L98.4 557.82L98.4 556L97 556L97 554.8L95.8 554.8L95.8 553.6L94.6 553.6L94.6 552.4L93.4 552.4L93.4 551.2L92.7 551.2L92.7 551.2L92.3 551.2L92.3 551.2L92.2 551.2L92.2 550L91.55 550L91.55 550L91.15 550L91.15 550L91 550L91 548.67L90.4 548.67L90.4 548.67L90 548.67L90 548.67L89.25 548.67L89.25 548.67L89 548.67L89 547.33L88.1 547.33L88.1 547.33L87 547.33L87 546L86.95 546L86.95 546L86.5 546L86.5 546L85.8 546L85.8 546L85 546L85 544.5L84.65 544.5L84.65 544.5L83.75 544.5L83.75 543L83.5 543L83.5 543L83.1 543L83.1 543L82.5 543L82.5 541.5L82.35 541.5L82.35 541.5L81.55 541.5L81.55 541.5L81.25 541.5L81.25 540L81.2 540L81.2 540L80 540L80 538.75L79.15 538.75L79.15 538.75L78.75 538.75L78.75 537.5L78.3 537.5L78.3 537.5L77.5 537.5L77.5 536.25L76.25 536.25L76.25 535L75 535L75 533.75L73.75 533.75L73.75 532.5L72.5 532.5L72.5 531.25L71.25 531.25L71.25 530L70 530L70 527.75L69 527.75L69 527.75L68.72 527.75L68.72 525.5L68.05 525.5L68.05 525.5L67.7 525.5L67.7 525.5L67.43 525.5L67.43 523.25L67.1 523.25L67.1 523.25L66.25 523.25L66.25 523.25L66.2 523.25L66.2 523.25L66.15 523.25L66.15 521L65.2 521L65.2 521L64.87 521L64.87 518.75L64.8 518.75L64.8 518.75L64.2 518.75L64.2 518.75L63.58 518.75L63.58 516.5L63.4 516.5L63.4 516.5L63.3 516.5L63.3 516.5L62.3 516.5L62.3 510.8L62 510.8L62 510.8L61.3 510.8L61.3 503.1L60.7 503.1L60.7 503.1L60.4 503.1L60.4 495.4L59.4 495.4L59.4 490.27L58.5 490.27L58.5 490.27L58.45 490.27L58.45 490.27L58.13 490.27L58.13 485.13L57.5 485.13L57.5 485.13L56.87 485.13L56.87 480L56.55 480L56.55 480L55.6 480L55.6 476.15L54.65 476.15L54.65 472.3L54.6 472.3L54.6 472.3L53.7 472.3L53.7 466.5L53.65 466.5L53.65 466.5L52.7 466.5L52.7 462.85L51.75 462.85L51.75 459.2L51.7 459.2L51.7 459.2L50.8 459.2Z"/></clipPath>
<path d="M50.8 459.2L51.7 459.2L51.7 459.2L51.75 459.2L51.75 459.2L52.7 459.2L52.7 459.2L53.65 459.2L53.65 459.2L53.7 459.2L53.7 459.2L54.6 459.2L54.6 459.2L54.65 459.2L54.65 459.2L55.6 459.2L55.6 459.2L56.55 459.2L56.55 459.2L56.87 459.2L56.87 459.2L57.5 459.2L57.5 459.2L58.13 459.2L58.13 459.2L58.45 459.2L58.45 464.6L58.5 464.6L58.5 464.6L59.4 464.6L59.4 470L60.4 470L60.4 470L60.7 470L60.7 475L61.3 475L61.3 475L62 475L62 480L62.3 480L62.3 480L63.3 480L63.3 480L63.4 480L63.4 484.6L63.58 484.6L63.58 484.6L64.2 484.6L64.2 484.6L64.8 484.6L64.8 489.2L64.87 489.2L64.87 489.2L65.2 489.2L65.2 489.2L66.15 489.2L66.15 489.2L66.2 489.2L66.2 489.2L66.25 489.2L66.25 491.15L67.1 491.15L67.1 491.15L67.43 491.15L67.43 491.15L67.7 491.15L67.7 493.1L68.05 493.1L68.05 493.1L68.72 493.1L68.72 493.1L69 493.1L69 493.1L70 493.1L70 493.1L71.25 493.1L71.25 493.1L72.5 493.1L72.5 493.1L73.75 493.1L73.75 493.1L75 493.1L75 493.1L76.25 493.1L76.25 493.1L77.5 493.1L77.5 493.1L78.3 493.1L78.3 493.1L78.75 493.1L78.75 493.1L79.15 493.1L79.15 494.55L80 494.55L80 496L81.2 496L81.2 496L81.25 496L81.25 496L81.55 496L81.55 498.85L82.35 498.85L82.35 498.85L82.5 498.85L82.5 498.85L83.1 498.85L83.1 501.7L83.5 501.7L83.5 501.7L83.75 501.7L83.75 501.7L84.65 501.7L84.65 501.7L85 501.7L85 502.3L85.8 502.3L85.8 502.3L86.5 502.3L86.5 504.6L86.95 504.6L86.95 504.6L87 504.6L87 504.6L88.1 504.6L88.1 504.6L89 504.6L89 504.6L89.25 504.6L89.25 504.6L90 504.6L90 505.4L90.4 505.4L90.4 505.4L91 505.4L91 505.4L91.15 505.4L91.15 506.95L91.55 506.95L91.55 506.95L92.2 506.95L92.2 506.95L92.3 506.95L92.3 514.2L92.7 514.2L92.7 514.2L93.4 514.2L93.4 514.2L94.6 514.2L94.6 514.2L95.8 514.2L95.8 514.2L97 514.2L97 514.2L98.4 514.2L98.4 514.2L99.8 514.2L99.8 514.2L101.2 514.2L101.2 514.2L102.6 514.2L102.6 514.2L104 514.2L104 514.2L105.4 514.2L105.4 514.2L105.8 514.2L105.8 514.2L106.2 514.2L106.2 516.9L106.55 516.9L106.55 516.9L107.7 516.9L107.7 516.9L107.71 516.9L107.71 516.9L108.8 516.9L108.8 517.3L108.85 517.3L108.85 517.3L109.2 517.3L109.2 520L110 520L110 520L110.02 520L110.02 520L111.15 520L111.15 520L112.3 520L112.3 520L112.33 520L112.33 520L112.7 520L112.7 520.4L113.45 520.4L113.45 520.4L113.5 520.4L113.5 523.1L113.8 523.1L113.8 527.7L114.6 527.7L114.6 527.7L114.64 527.7L114.64 527.7L114.8 527.7L114.8 529.25L115.75 529.25L115.75 529.25L115.8 529.25L115.8 530.8L116.9 530.8L116.9 530.8L116.96 530.8L116.96 530.8L117.7 530.8L117.7 531.95L118.65 531.95L118.65 531.95L119.27 531.95L119.27 531.95L119.6 531.95L119.6 533.1L120.4 533.1L120.4 533.1L121.53 533.1L121.53 533.1L121.58 533.1L121.58 533.1L122.67 533.1L122.67 533.1L123.5 533.1L123.5 533.8L123.8 533.8L123.8 533.8L123.89 533.8L123.89 533.8L124.77 533.8L124.77 536L126.03 536L126.03 538.2L126.2 538.2L126.2 538.2L127.3 538.2L127.3 540.4L127.46 540.4L127.46 540.4L128.71 540.4L128.71 540.4L128.84 540.4L128.84 541.74L129.97 541.74L129.97 541.74L130.38 541.74L130.38 543.08L131.23 543.08L131.23 543.08L131.92 543.08L131.92 544.42L132.49 544.42L132.49 544.42L133.1 544.42L133.1 544.42L133.46 544.42L133.46 545.76L133.74 545.76L133.74 545.76L135 545.76L135 547.1L135.4 547.1L135.4 547.1L137.7 547.1L137.7 547.1L138.45 547.1L138.45 547.1L140 547.1L140 547.1L141.9 547.1L141.9 548L142.3 548L142.3 548L144.4 548L144.4 549.4L144.93 549.4L144.93 549.4L146.9 549.4L146.9 550.8L147.95 550.8L147.95 550.8L150.97 550.8L150.97 550.8L154 550.8L154 550.8L159.6 550.8L159.6 551.9L160.65 551.9L160.65 551.9L160.9 551.9L160.9 554.2L161 554.2L161 554.2L161.7 554.2L161.7 554.2L163.77 554.2L163.77 555.37L166.63 555.37L166.63 556.53L168.7 556.53L168.7 556.53L169.5 556.53L169.5 557.7L175.7 557.7L175.7 557.7L190.3 557.7L190.3 558.6L190.4 558.6L190.4 558.6L191.2 558.6L191.2 565.5L192.48 565.5L192.48 565.5L194.56 565.5L194.56 565.5L196.64 565.5L196.64 565.5L198.72 565.5L198.72 565.5L198.9 565.5L198.9 566.3L199.8 566.3L199.8 568.1L200.7 568.1L200.7 568.1L200.8 568.1L200.8 568.1L201.5 568.1L201.5 568.1L219.7 568.1L219.7 573.3L219.8 573.3L219.8 573.3L222.6 573.3L222.6 573.3L225.4 573.3L225.4 573.3L228.2 573.3L228.2 573.3L229.2 573.3L229.2 574.1L230.1 574.1L230.1 578L231 578L231 581.9L231.8 581.9L231.8 581.9L243.9 581.9L243.9 581.9L243.9 609.6L243.9 609.6L231.8 609.6L231.8 609.6L231 609.6L231 608.25L230.1 608.25L230.1 608.25L229.2 608.25L229.2 608.25L228.2 608.25L228.2 606.9L225.4 606.9L225.4 605.55L222.6 605.55L222.6 604.2L219.8 604.2L219.8 603.4L219.7 603.4L219.7 603.4L201.5 603.4L201.5 603.4L200.8 603.4L200.8 602L200.7 602L200.7 602L199.8 602L199.8 602L198.9 602L198.9 602L198.72 602L198.72 600.6L196.64 600.6L196.64 599.2L194.56 599.2L194.56 597.8L192.48 597.8L192.48 596.4L191.2 596.4L191.2 596.4L190.4 596.4L190.4 595.55L190.3 595.55L190.3 595.55L175.7 595.55L175.7 594.7L169.5 594.7L169.5 594.7L168.7 594.7L168.7 594.7L166.63 594.7L166.63 594.7L163.77 594.7L163.77 594.7L161.7 594.7L161.7 594.7L161 594.7L161 593.8L160.9 593.8L160.9 593.8L160.65 593.8L160.65 593.8L159.6 593.8L159.6 593.8L154 593.8L154 592.52L150.97 592.52L150.97 591.25L147.95 591.25L147.95 589.98L146.9 589.98L146.9 589.98L144.93 589.98L144.93 588.7L144.4 588.7L144.4 588.7L142.3 588.7L142.3 588.7L141.9 588.7L141.9 587.85L140 587.85L140 587.85L138.45 587.85L138.45 587L137.7 587L137.7 587L135.4 587L135.4 587L135 587L135 585.79L133.74 585.79L133.74 584.57L133.46 584.57L133.46 584.57L133.1 584.57L133.1 584.57L132.49 584.57L132.49 583.36L131.92 583.36L131.92 583.36L131.23 583.36L131.23 582.14L130.38 582.14L130.38 582.14L129.97 582.14L129.97 580.93L128.84 580.93L128.84 580.93L128.71 580.93L128.71 579.71L127.46 579.71L127.46 578.5L127.3 578.5L127.3 578.5L126.2 578.5L126.2 577.21L126.03 577.21L126.03 577.21L124.77 577.21L124.77 577.21L123.89 577.21L123.89 575.92L123.8 575.92L123.8 575.92L123.5 575.92L123.5 575.92L122.67 575.92L122.67 575.92L121.58 575.92L121.58 574.63L121.53 574.63L121.53 574.63L120.4 574.63L120.4 574.63L119.6 574.63L119.6 574.63L119.27 574.63L119.27 573.34L118.65 573.34L118.65 573.34L117.7 573.34L117.7 573.34L116.96 573.34L116.96 572.06L116.9 572.06L116.9 572.06L115.8 572.06L115.8 572.06L115.75 572.06L115.75 572.06L114.8 572.06L114.8 572.06L114.64 572.06L114.64 570.77L114.6 570.77L114.6 570.77L113.8 570.77L113.8 570.77L113.5 570.77L113.5 570.77L113.45 570.77L113.45 570.77L112.7 570.77L112.7 570.77L112.33 570.77L112.33 569.48L112.3 569.48L112.3 569.48L111.15 569.48L111.15 569.48L110.02 569.48L110.02 568.19L110 568.19L110 568.19L109.2 568.19L109.2 568.19L108.85 568.19L108.85 568.19L108.8 568.19L108.8 568.19L107.71 568.19L107.71 566.9L107.7 566.9L107.7 566.9L106.55 566.9L106.55 566.9L106.2 566.9L106.2 566.9L105.8 566.9L105.8 566.9L105.4 566.9L105.4 565.08L104 565.08L104 563.27L102.6 563.27L102.6 561.45L101.2 561.45L101.2 559.63L99.8 559.63L99.8 557.82L98.4 557.82L98.4 556L97 556L97 554.8L95.8 554.8L95.8 553.6L94.6 553.6L94.6 552.4L93.4 552.4L93.4 551.2L92.7 551.2L92.7 551.2L92.3 551.2L92.3 551.2L92.2 551.2L92.2 550L91.55 550L91.55 550L91.15 550L91.15 550L91 550L91 548.67L90.4 548.67L90.4 548.67L90 548.67L90 548.67L89.25 548.67L89.25 548.67L89 548.67L89 547.33L88.1 547.33L88.1 547.33L87 547.33L87 546L86.95 546L86.95 546L86.5 546L86.5 546L85.8 546L85.8 546L85 546L85 544.5L84.65 544.5L84.65 544.5L83.75 544.5L83.75 543L83.5 543L83.5 543L83.1 543L83.1 543L82.5 543L82.5 541.5L82.35 541.5L82.35 541.5L81.55 541.5L81.55 541.5L81.25 541.5L81.25 540L81.2 540L81.2 540L80 540L80 538.75L79.15 538.75L79.15 538.75L78.75 538.75L78.75 537.5L78.3 537.5L78.3 537.5L77.5 537.5L77.5 536.25L76.25 536.25L76.25 535L75 535L75 533.75L73.75 533.75L73.75 532.5L72.5 532.5L72.5 531.25L71.25 531.25L71.25 530L70 530L70 527.75L69 527.75L69 527.75L68.72 527.75L68.72 525.5L68.05 525.5L68.05 525.5L67.7 525.5L67.7 525.5L67.43 525.5L67.43 523.25L67.1 523.25L67.1 523.25L66.25 523.25L66.25 523.25L66.2 523.25L66.2 523.25L66.15 523.25L66.15 521L65.2 521L65.2 521L64.87 521L64.87 518.75L64.8 518.75L64.8 518.75L64.2 518.75L64.2 518.75L63.58 518.75L63.58 516.5L63.4 516.5L63.4 516.5L63.3 516.5L63.3 516.5L62.3 516.5L62.3 510.8L62 510.8L62 510.8L61.3 510.8L61.3 503.1L60.7 503.1L60.7 503.1L60.4 503.1L60.4 495.4L59.4 495.4L59.4 490.27L58.5 490.27L58.5 490.27L58.45 490.27L58.45 490.27L58.13 490.27L58.13 485.13L57.5 485.13L57.5 485.13L56.87 485.13L56.87 480L56.55 480L56.55 480L55.6 480L55.6 476.15L54.65 476.15L54.65 472.3L54.6 472.3L54.6 472.3L53.7 472.3L53.7 466.5L53.65 466.5L53.65 466.5L52.7 466.5L52.7 462.85L51.75 462.85L51.75 459.2L51.7 459.2L51.7 459.2L50.8 459.2Z" fill="#f6d7dc" stroke="none"/>
<path d="M50.8 459.5L52.5 459.5L52.5 459.5L52.9 459.5L52.9 459.5L56.2 459.5L56.2 459.5L56.6 459.5L56.6 459.5L58.6 459.5L58.6 459.5L59 459.5L59 467.2L59.4 467.2L59.4 467.2L62.3 467.2L62.3 467.2L63.1 467.2L63.1 467.2L63.25 467.2L63.25 467.2L63.5 467.2L63.5 467.6L63.9 467.6L63.9 476.1L64.2 476.1L64.2 476.1L65.2 476.1L65.2 476.1L66.2 476.1L66.2 476.1L66.3 476.1L66.3 476.5L66.7 476.5L66.7 485.1L67.1 485.1L67.1 485.1L67.15 485.1L67.15 485.1L68.1 485.1L68.1 485.1L69.37 485.1L69.37 485.1L70.63 485.1L70.63 485.1L71 485.1L71 485.5L71.2 485.5L71.2 490.8L71.9 490.8L71.9 490.8L73.35 490.8L73.35 490.8L74.8 490.8L74.8 490.8L76.25 490.8L76.25 490.8L77.7 490.8L77.7 490.8L78.1 490.8L78.1 491.2L78.3 491.2L78.3 499L78.65 499L78.65 499L78.7 499L78.7 499L79.6 499L79.6 499L79.65 499L79.65 501L80.85 501L80.85 501L80.95 501L80.95 501L81 501L81 503L82 503L82 504.5L82.1 504.5L82.1 504.5L82.3 504.5L82.3 504.5L83 504.5L83 506L83.35 506L83.35 506L83.45 506L83.45 506L84 506L84 508.4L84.6 508.4L84.6 508.4L85 508.4L85 510.8L86.05 510.8L86.05 510.8L87.5 510.8L87.5 510.8L88.95 510.8L88.95 510.8L90.4 510.8L90.4 510.8L90.8 510.8L90.8 511.2L91.2 511.2L91.2 516.9L91.5 516.9L91.5 516.9L93.25 516.9L93.25 516.9L95 516.9L95 516.9L96.75 516.9L96.75 516.9L97.3 516.9L97.3 516.9L98.1 516.9L98.1 517.1L98.5 517.1L98.5 523.1L99.65 523.1L99.65 523.1L100.8 523.1L100.8 523.1L101.9 523.1L101.9 523.1L101.95 523.1L101.95 523.1L102.7 523.1L102.7 523.1L103.1 523.1L103.1 528.8L104.25 528.8L104.25 528.8L105.4 528.8L105.4 528.8L106.5 528.8L106.5 528.8L106.55 528.8L106.55 528.8L107.3 528.8L107.3 529.1L107.7 529.1L107.7 533.8L114 533.8L114 534L116.95 534L116.95 534L120.4 534L120.4 534.6L126.2 534.6L126.2 535.8L127.3 535.8L127.3 540.4L132.77 540.4L132.77 540.4L138.23 540.4L138.23 540.4L141.2 540.4L141.2 541.5L142 541.5L142 546.05L142.3 546.05L142.3 546.05L142.8 546.05L142.8 550.6L143.5 550.6L143.5 550.6L143.7 550.6L143.7 550.6L144.83 550.6L144.83 550.6L145.97 550.6L145.97 550.6L146.27 550.6L146.27 551.73L146.9 551.73L146.9 551.73L147.1 551.73L147.1 551.73L148.1 551.73L148.1 551.73L148.82 551.73L148.82 551.73L149.73 551.73L149.73 552.87L150.55 552.87L150.55 552.87L152.28 552.87L152.28 552.87L153.2 552.87L153.2 554L153.8 554L153.8 554L154 554L154 561L155 561L155 561L160.8 561L160.8 561L161 561L161 567.9L161.9 567.9L161.9 567.9L219.7 567.9L219.7 567.9L219.7 608.6L219.7 608.6L161.9 608.6L161.9 608.6L161 608.6L161 607.7L160.8 607.7L160.8 607.7L155 607.7L155 607.7L154 607.7L154 606.4L153.8 606.4L153.8 606.4L153.2 606.4L153.2 606.4L152.28 606.4L152.28 605.1L150.55 605.1L150.55 603.8L149.73 603.8L149.73 603.8L148.82 603.8L148.82 602.5L148.1 602.5L148.1 602.5L147.1 602.5L147.1 601.07L146.9 601.07L146.9 601.07L146.27 601.07L146.27 601.07L145.97 601.07L145.97 599.63L144.83 599.63L144.83 598.2L143.7 598.2L143.7 597L143.5 597L143.5 597L142.8 597L142.8 597L142.3 597L142.3 597L142 597L142 597L141.2 597L141.2 597L138.23 597L138.23 595.8L132.77 595.8L132.77 594.6L127.3 594.6L127.3 588.9L126.2 588.9L126.2 587.7L120.4 587.7L120.4 587.7L116.95 587.7L116.95 586.5L114 586.5L114 586.5L107.7 586.5L107.7 585.08L107.3 585.08L107.3 585.08L106.55 585.08L106.55 583.65L106.5 583.65L106.5 583.65L105.4 583.65L105.4 582.22L104.25 582.22L104.25 580.8L103.1 580.8L103.1 579.65L102.7 579.65L102.7 579.65L101.95 579.65L101.95 578.5L101.9 578.5L101.9 578.5L100.8 578.5L100.8 577.35L99.65 577.35L99.65 576.2L98.5 576.2L98.5 575.03L98.1 575.03L98.1 575.03L97.3 575.03L97.3 575.03L96.75 575.03L96.75 573.85L95 573.85L95 572.67L93.25 572.67L93.25 571.5L91.5 571.5L91.5 566.9L91.2 566.9L91.2 566.9L90.8 566.9L90.8 566.9L90.4 566.9L90.4 565.48L88.95 565.48L88.95 564.05L87.5 564.05L87.5 562.62L86.05 562.62L86.05 561.2L85 561.2L85 561.2L84.6 561.2L84.6 558.7L84 558.7L84 558.7L83.45 558.7L83.45 558.7L83.35 558.7L83.35 556.2L83 556.2L83 556.2L82.3 556.2L82.3 556.2L82.1 556.2L82.1 553.7L82 553.7L82 553.7L81 553.7L81 553.7L80.95 553.7L80.95 553.7L80.85 553.7L80.85 551.2L79.65 551.2L79.65 551.2L79.6 551.2L79.6 548.3L78.7 548.3L78.7 548.3L78.65 548.3L78.65 545.4L78.3 545.4L78.3 545.4L78.1 545.4L78.1 545.4L77.7 545.4L77.7 543.95L76.25 543.95L76.25 542.5L74.8 542.5L74.8 541.05L73.35 541.05L73.35 539.6L71.9 539.6L71.9 538L71.2 538L71.2 538L71 538L71 538L70.63 538L70.63 536.4L69.37 536.4L69.37 534.8L68.1 534.8L68.1 531.45L67.15 531.45L67.15 528.1L67.1 528.1L67.1 528.1L66.7 528.1L66.7 528.1L66.3 528.1L66.3 528.1L66.2 528.1L66.2 525.2L65.2 525.2L65.2 522.3L64.2 522.3L64.2 519.4L63.9 519.4L63.9 519.4L63.5 519.4L63.5 519.4L63.25 519.4L63.25 516.5L63.1 516.5L63.1 516.5L62.3 516.5L62.3 509.26L59.4 509.26L59.4 488.26L59 488.26L59 487.46L58.6 487.46L58.6 482.38L56.6 482.38L56.6 476.68L56.2 476.68L56.2 470.41L52.9 470.41L52.9 464.48L52.5 464.48L52.5 463.13L50.8 463.13Z" fill="#d5e1ea" stroke="none"/>
<path d="M50.8 459.5L52.5 459.5L52.5 459.5L52.9 459.5L52.9 459.5L56.2 459.5L56.2 459.5L56.6 459.5L56.6 459.5L58.6 459.5L58.6 459.5L59 459.5L59 467.2L59.4 467.2L59.4 467.2L62.3 467.2L62.3 467.2L63.1 467.2L63.1 467.2L63.25 467.2L63.25 467.2L63.5 467.2L63.5 467.6L63.9 467.6L63.9 476.1L64.2 476.1L64.2 476.1L65.2 476.1L65.2 476.1L66.2 476.1L66.2 476.1L66.3 476.1L66.3 476.5L66.7 476.5L66.7 485.1L67.1 485.1L67.1 485.1L67.15 485.1L67.15 485.1L68.1 485.1L68.1 485.1L69.37 485.1L69.37 485.1L70.63 485.1L70.63 485.1L71 485.1L71 485.5L71.2 485.5L71.2 490.8L71.9 490.8L71.9 490.8L73.35 490.8L73.35 490.8L74.8 490.8L74.8 490.8L76.25 490.8L76.25 490.8L77.7 490.8L77.7 490.8L78.1 490.8L78.1 491.2L78.3 491.2L78.3 499L78.65 499L78.65 499L78.7 499L78.7 499L79.6 499L79.6 499L79.65 499L79.65 501L80.85 501L80.85 501L80.95 501L80.95 501L81 501L81 503L82 503L82 504.5L82.1 504.5L82.1 504.5L82.3 504.5L82.3 504.5L83 504.5L83 506L83.35 506L83.35 506L83.45 506L83.45 506L84 506L84 508.4L84.6 508.4L84.6 508.4L85 508.4L85 510.8L86.05 510.8L86.05 510.8L87.5 510.8L87.5 510.8L88.95 510.8L88.95 510.8L90.4 510.8L90.4 510.8L90.8 510.8L90.8 511.2L91.2 511.2L91.2 516.9L91.5 516.9L91.5 516.9L93.25 516.9L93.25 516.9L95 516.9L95 516.9L96.75 516.9L96.75 516.9L97.3 516.9L97.3 516.9L98.1 516.9L98.1 517.1L98.5 517.1L98.5 523.1L99.65 523.1L99.65 523.1L100.8 523.1L100.8 523.1L101.9 523.1L101.9 523.1L101.95 523.1L101.95 523.1L102.7 523.1L102.7 523.1L103.1 523.1L103.1 528.8L104.25 528.8L104.25 528.8L105.4 528.8L105.4 528.8L106.5 528.8L106.5 528.8L106.55 528.8L106.55 528.8L107.3 528.8L107.3 529.1L107.7 529.1L107.7 533.8L114 533.8L114 534L116.95 534L116.95 534L120.4 534L120.4 534.6L126.2 534.6L126.2 535.8L127.3 535.8L127.3 540.4L132.77 540.4L132.77 540.4L138.23 540.4L138.23 540.4L141.2 540.4L141.2 541.5L142 541.5L142 546.05L142.3 546.05L142.3 546.05L142.8 546.05L142.8 550.6L143.5 550.6L143.5 550.6L143.7 550.6L143.7 550.6L144.83 550.6L144.83 550.6L145.97 550.6L145.97 550.6L146.27 550.6L146.27 551.73L146.9 551.73L146.9 551.73L147.1 551.73L147.1 551.73L148.1 551.73L148.1 551.73L148.82 551.73L148.82 551.73L149.73 551.73L149.73 552.87L150.55 552.87L150.55 552.87L152.28 552.87L152.28 552.87L153.2 552.87L153.2 554L153.8 554L153.8 554L154 554L154 561L155 561L155 561L160.8 561L160.8 561L161 561L161 567.9L161.9 567.9L161.9 567.9L219.7 567.9L219.7 567.9L219.7 608.6L219.7 608.6L161.9 608.6L161.9 608.6L161 608.6L161 607.7L160.8 607.7L160.8 607.7L155 607.7L155 607.7L154 607.7L154 606.4L153.8 606.4L153.8 606.4L153.2 606.4L153.2 606.4L152.28 606.4L152.28 605.1L150.55 605.1L150.55 603.8L149.73 603.8L149.73 603.8L148.82 603.8L148.82 602.5L148.1 602.5L148.1 602.5L147.1 602.5L147.1 601.07L146.9 601.07L146.9 601.07L146.27 601.07L146.27 601.07L145.97 601.07L145.97 599.63L144.83 599.63L144.83 598.2L143.7 598.2L143.7 597L143.5 597L143.5 597L142.8 597L142.8 597L142.3 597L142.3 597L142 597L142 597L141.2 597L141.2 597L138.23 597L138.23 595.8L132.77 595.8L132.77 594.6L127.3 594.6L127.3 588.9L126.2 588.9L126.2 587.7L120.4 587.7L120.4 587.7L116.95 587.7L116.95 586.5L114 586.5L114 586.5L107.7 586.5L107.7 585.08L107.3 585.08L107.3 585.08L106.55 585.08L106.55 583.65L106.5 583.65L106.5 583.65L105.4 583.65L105.4 582.22L104.25 582.22L104.25 580.8L103.1 580.8L103.1 579.65L102.7 579.65L102.7 579.65L101.95 579.65L101.95 578.5L101.9 578.5L101.9 578.5L100.8 578.5L100.8 577.35L99.65 577.35L99.65 576.2L98.5 576.2L98.5 575.03L98.1 575.03L98.1 575.03L97.3 575.03L97.3 575.03L96.75 575.03L96.75 573.85L95 573.85L95 572.67L93.25 572.67L93.25 571.5L91.5 571.5L91.5 566.9L91.2 566.9L91.2 566.9L90.8 566.9L90.8 566.9L90.4 566.9L90.4 565.48L88.95 565.48L88.95 564.05L87.5 564.05L87.5 562.62L86.05 562.62L86.05 561.2L85 561.2L85 561.2L84.6 561.2L84.6 558.7L84 558.7L84 558.7L83.45 558.7L83.45 558.7L83.35 558.7L83.35 556.2L83 556.2L83 556.2L82.3 556.2L82.3 556.2L82.1 556.2L82.1 553.7L82 553.7L82 553.7L81 553.7L81 553.7L80.95 553.7L80.95 553.7L80.85 553.7L80.85 551.2L79.65 551.2L79.65 551.2L79.6 551.2L79.6 548.3L78.7 548.3L78.7 548.3L78.65 548.3L78.65 545.4L78.3 545.4L78.3 545.4L78.1 545.4L78.1 545.4L77.7 545.4L77.7 543.95L76.25 543.95L76.25 542.5L74.8 542.5L74.8 541.05L73.35 541.05L73.35 539.6L71.9 539.6L71.9 538L71.2 538L71.2 538L71 538L71 538L70.63 538L70.63 536.4L69.37 536.4L69.37 534.8L68.1 534.8L68.1 531.45L67.15 531.45L67.15 528.1L67.1 528.1L67.1 528.1L66.7 528.1L66.7 528.1L66.3 528.1L66.3 528.1L66.2 528.1L66.2 525.2L65.2 525.2L65.2 522.3L64.2 522.3L64.2 519.4L63.9 519.4L63.9 519.4L63.5 519.4L63.5 519.4L63.25 519.4L63.25 516.5L63.1 516.5L63.1 516.5L62.3 516.5L62.3 509.26L59.4 509.26L59.4 488.26L59 488.26L59 487.46L58.6 487.46L58.6 482.38L56.6 482.38L56.6 476.68L56.2 476.68L56.2 470.41L52.9 470.41L52.9 464.48L52.5 464.48L52.5 463.13L50.8 463.13Z" fill="#cbbec9" stroke="none" clip-path="url(#clipE)"/>
<path d="M50.8 459.2H51.7V462.7H52.7V467.5H53.65V470.85H54.6V474.2H55.6V478.1H56.55V479.55H57.5V481H58.5V484.8H59.4V490.6H60.4V495.4H61.3V500.2H63.3V501.2H64.2V505H65.2V507.9H66.2V510.8H67.1V514.6H68.05V515.55H69V516.5H81.2H82.35V519.2H83.5V521.9H84.65V523.65H85.8V525.4H86.95V527.1H88.1V528.8H89.25V530.55H90.4V532.3H91.55V535.2H92.7V538.1H105.4V538.8H106.55V540.15H107.7V541.5H108.85V543.25H110V545H111.15V546.75H112.3V548.5H113.45V551.95H114.6V555.4H115.75V557.1H116.9V558.8H118.65V560H120.4V561.2H121.53V563.1H122.67V565H123.8V566.9H133.1V568.1H135.4V569.52H137.7V570.95H140V572.38H142.3V573.8H159.6V574.3H160.65V575.95H161.7V577.6H168.7V578.1H169.5V581.1H190.3V581.4H191.2V588H198.9V588.3H199.8V589.85H200.7V591.4H201.5V594.9H229.2H230.1V597.05H231V599.2H231.8V603.6H243.9" fill="none" stroke="#cc2c40" stroke-width="1.5"/>
<path d="M50.8 459.5H52.5H52.9V465.2H56.2V465.6H56.6V470.4H59V471.3H59.4V494H63.1V494.4H63.5V502.2H63.9V506.2H66.3V507H67.1V512.7H68.1V517.5H71V518.5H71.9V523.3H77.7V524.2H78.7V528.1H79.6V535.8H80.95V538.65H82.3V541.5H83.45V543.85H84.6V546.2H90.4V547.3H91.5V553.1H97.3V554.2H98.5V557.7H101.9V558.8H103.1V564.6H106.5V565.8H107.7V570.4H126.2V571.1H127.3V576.2H142.3V576.6H143.5V581.9H146.9V583.1H148.1V587.7H153.8V588.9H155V594.2H160.8V594.6H161.9V600.1H219.7V611.3" fill="none" stroke="#266a9e" stroke-width="1.5"/>
<line x1="217.1" x2="217.1" y1="592.3" y2="597.5" stroke="#cc2c40" stroke-width="1.3"/>
<line x1="176.9" x2="176.9" y1="597.5" y2="602.7" stroke="#266a9e" stroke-width="1.3"/>
</g>
<g transform="translate(0 442.3)">
<path d="M41.2 13.2V177.6H246.8" fill="none" stroke="#262626" stroke-width="1.3"/>
<rect x="45.8" y="159.2" width="6.6" height="6.6" fill="#cc2c40" fill-opacity="0.3"/>
<line x1="45.8" x2="52.4" y1="162.5" y2="162.5" stroke="#cc2c40" stroke-width="1.2"/>
<line x1="49.1" x2="49.1" y1="160.5" y2="164.5" stroke="#cc2c40" stroke-width="0.9"/>
<rect x="45.8" y="166.5" width="6.6" height="6.6" fill="#266a9e" fill-opacity="0.2"/>
<line x1="45.8" x2="52.4" y1="169.8" y2="169.8" stroke="#266a9e" stroke-width="1.2"/>
<line x1="49.1" x2="49.1" y1="167.8" y2="171.8" stroke="#266a9e" stroke-width="0.9"/>
<text x="55" y="165.1" font-size="6.8" fill="#222">ERA1</text>
<text x="55" y="172.5" font-size="6.8" fill="#222">ERA2</text>
<text x="140.4" y="199.4" font-size="8.4" fill="#1a1a1a" stroke="#1a1a1a" stroke-width="0.1" text-anchor="middle" textLength="79" lengthAdjust="spacingAndGlyphs">Time after diagnosis (years)</text>
<text transform="translate(13.6 91.7) rotate(-90)" x="0" y="0" font-size="8.4" fill="#1a1a1a" stroke="#1a1a1a" stroke-width="0.1" text-anchor="middle" textLength="65" lengthAdjust="spacingAndGlyphs">Event-free survival (%)</text>
<text x="41.9" y="207.5" font-size="7.2" fill="#333" textLength="47" lengthAdjust="spacingAndGlyphs">Number at risk</text>
<text x="21.25" y="216.9" font-size="7" fill="#cc2c40">ERA1</text>
<text x="21.25" y="226.4" font-size="7" fill="#266a9e">ERA2</text>
<text x="50.25" y="216.9" font-size="7" fill="#cc2c40" text-anchor="middle">48</text>
<text x="50.25" y="226.4" font-size="7" fill="#266a9e" text-anchor="middle">26</text>
<text x="87.15" y="216.9" font-size="7" fill="#cc2c40" text-anchor="middle">26</text>
<text x="87.15" y="226.4" font-size="7" fill="#266a9e" text-anchor="middle">11</text>
<text x="124.05" y="216.9" font-size="7" fill="#cc2c40" text-anchor="middle">14</text>
<text x="124.05" y="226.4" font-size="7" fill="#266a9e" text-anchor="middle">7</text>
<text x="160.95" y="216.9" font-size="7" fill="#cc2c40" text-anchor="middle">11</text>
<text x="160.95" y="226.4" font-size="7" fill="#266a9e" text-anchor="middle">2</text>
<text x="197.85" y="216.9" font-size="7" fill="#cc2c40" text-anchor="middle">7</text>
<text x="197.85" y="226.4" font-size="7" fill="#266a9e" text-anchor="middle">1</text>
<text x="234.75" y="216.9" font-size="7" fill="#cc2c40" text-anchor="middle">2</text>
<text x="234.75" y="226.4" font-size="7" fill="#266a9e" text-anchor="middle">0</text>
</g>
<g transform="translate(266.8 442.3)">
<text x="3.6" y="16.5" font-size="10.8" font-weight="bold" fill="#111" stroke="#111" stroke-width="0.3">F</text>
<text x="34.7" y="172.5" font-size="7.5" fill="#3a3a3a" text-anchor="end">0.00</text>
<line x1="38" x2="41.2" y1="169.6" y2="169.6" stroke="#333" stroke-width="0.9"/>
<text x="34.7" y="134.44" font-size="7.5" fill="#3a3a3a" text-anchor="end">0.25</text>
<line x1="38" x2="41.2" y1="131.54" y2="131.54" stroke="#333" stroke-width="0.9"/>
<text x="34.7" y="96.38" font-size="7.5" fill="#3a3a3a" text-anchor="end">0.50</text>
<line x1="38" x2="41.2" y1="93.47" y2="93.47" stroke="#333" stroke-width="0.9"/>
<text x="34.7" y="58.31" font-size="7.5" fill="#3a3a3a" text-anchor="end">0.75</text>
<line x1="38" x2="41.2" y1="55.41" y2="55.41" stroke="#333" stroke-width="0.9"/>
<text x="34.7" y="20.25" font-size="7.5" fill="#3a3a3a" text-anchor="end">1.00</text>
<line x1="38" x2="41.2" y1="17.35" y2="17.35" stroke="#333" stroke-width="0.9"/>
<line x1="50.25" x2="50.25" y1="177.6" y2="180.4" stroke="#333" stroke-width="0.9"/>
<text x="50.25" y="189.6" font-size="7.5" fill="#3a3a3a" text-anchor="middle">0</text>
<line x1="87.15" x2="87.15" y1="177.6" y2="180.4" stroke="#333" stroke-width="0.9"/>
<text x="87.15" y="189.6" font-size="7.5" fill="#3a3a3a" text-anchor="middle">2</text>
<line x1="124.05" x2="124.05" y1="177.6" y2="180.4" stroke="#333" stroke-width="0.9"/>
<text x="124.05" y="189.6" font-size="7.5" fill="#3a3a3a" text-anchor="middle">4</text>
<line x1="160.95" x2="160.95" y1="177.6" y2="180.4" stroke="#333" stroke-width="0.9"/>
<text x="160.95" y="189.6" font-size="7.5" fill="#3a3a3a" text-anchor="middle">6</text>
<line x1="197.85" x2="197.85" y1="177.6" y2="180.4" stroke="#333" stroke-width="0.9"/>
<text x="197.85" y="189.6" font-size="7.5" fill="#3a3a3a" text-anchor="middle">8</text>
<line x1="234.75" x2="234.75" y1="177.6" y2="180.4" stroke="#333" stroke-width="0.9"/>
<text x="234.75" y="189.6" font-size="7.5" fill="#3a3a3a" text-anchor="middle">10</text>
</g>
<g>
<clipPath id="clipF"><path d="M316.9 459.6L317.7 459.6L317.7 459.6L318.5 459.6L318.5 459.6L319 459.6L319 459.6L319.3 459.6L319.3 459.6L320.52 459.6L320.52 459.6L321.75 459.6L321.75 459.6L322.5 459.6L322.5 459.6L322.98 459.6L322.98 459.6L323.7 459.6L323.7 459.6L324.2 459.6L324.2 459.6L325.57 459.6L325.57 459.6L326.5 459.6L326.5 459.6L326.93 459.6L326.93 459.6L327.1 459.6L327.1 459.6L328.3 459.6L328.3 459.6L328.55 459.6L328.55 459.6L329.5 459.6L329.5 459.6L330 459.6L330 459.6L330.7 459.6L330.7 459.6L331.2 459.6L331.2 461.9L331.7 461.9L331.7 461.9L331.9 461.9L331.9 461.9L332.6 461.9L332.6 461.9L332.93 461.9L332.93 463.35L333.1 463.35L333.1 463.35L333.5 463.35L333.5 463.35L334.53 463.35L334.53 463.35L334.65 463.35L334.65 464.8L335.8 464.8L335.8 464.8L335.95 464.8L335.95 464.8L336.38 464.8L336.38 466.25L337.38 466.25L337.38 466.25L338.1 466.25L338.1 467.7L338.8 467.7L338.8 467.7L339.8 467.7L339.8 467.7L340.17 467.7L340.17 467.7L340.7 467.7L340.7 469.15L341.5 469.15L341.5 469.15L341.53 469.15L341.53 469.15L342.65 469.15L342.65 469.15L342.9 469.15L342.9 469.15L343.3 469.15L343.3 470.6L343.8 470.6L343.8 470.6L344.12 470.6L344.12 470.6L344.88 470.6L344.88 471.75L345.35 471.75L345.35 471.75L346.2 471.75L346.2 471.75L346.45 471.75L346.45 472.9L346.57 472.9L346.57 472.9L347.3 472.9L347.3 472.9L347.8 472.9L347.8 472.9L348.03 472.9L348.03 474.05L349.6 474.05L349.6 475.2L350.45 475.2L350.45 475.2L350.8 475.2L350.8 475.2L353.1 475.2L353.1 475.2L354.2 475.2L354.2 475.2L354.38 475.2L354.38 475.2L354.8 475.2L354.8 476.6L355.65 476.6L355.65 476.6L356.5 476.6L356.5 476.6L356.93 476.6L356.93 476.6L357.7 476.6L357.7 476.6L358.2 476.6L358.2 476.6L359.35 476.6L359.35 476.6L359.4 476.6L359.4 476.6L360 476.6L360 478L360.5 478L360.5 478L360.6 478L360.6 478L361.25 478L361.25 479.27L361.45 479.27L361.45 479.27L362.3 479.27L362.3 479.27L362.5 479.27L362.5 480.55L363.75 480.55L363.75 481.83L365 481.83L365 483.1L365.95 483.1L365.95 483.1L366.15 483.1L366.15 483.1L367.3 483.1L367.3 483.1L368.1 483.1L368.1 484.25L368.45 484.25L368.45 484.25L369.6 484.25L369.6 484.25L371.15 484.25L371.15 484.25L371.2 484.25L371.2 485.4L371.9 485.4L371.9 485.4L372.7 485.4L372.7 485.4L374.2 485.4L374.2 485.4L374.27 485.4L374.27 486.55L375 486.55L375 486.55L375.8 486.55L375.8 486.55L376.3 486.55L376.3 486.55L377.35 486.55L377.35 487.7L379.9 487.7L379.9 487.7L380.43 487.7L380.43 488.85L381.9 488.85L381.9 488.85L382.7 488.85L382.7 488.85L383.5 488.85L383.5 490L388.1 490L388.1 491.55L391.9 491.55L391.9 491.55L392.7 491.55L392.7 493.1L393.85 493.1L393.85 493.1L394.2 493.1L394.2 496.9L395 496.9L395 496.9L396.77 496.9L396.77 496.9L399.33 496.9L399.33 496.9L401.9 496.9L401.9 496.9L403.45 496.9L403.45 496.9L404.2 496.9L404.2 496.9L405 496.9L405 497.7L405.8 497.7L405.8 497.7L406.5 497.7L406.5 502.3L406.55 502.3L406.55 502.3L407.3 502.3L407.3 506.9L408.1 506.9L408.1 511.5L408.8 511.5L408.8 511.5L428.1 511.5L428.1 511.5L429.6 511.5L429.6 511.5L434.2 511.5L434.2 511.5L435 511.5L435 511.5L435.8 511.5L435.8 512.3L436.5 512.3L436.5 512.3L437.3 512.3L437.3 516.2L437.65 516.2L437.65 516.2L438.8 516.2L438.8 516.2L441.15 516.2L441.15 517.7L442.5 517.7L442.5 517.7L443.8 517.7L443.8 517.7L445 517.7L445 519.2L446.15 519.2L446.15 520.65L446.2 520.65L446.2 520.65L446.6 520.65L446.6 520.65L447.3 520.65L447.3 522.1L447.73 522.1L447.73 522.1L447.75 522.1L447.75 522.1L448.45 522.1L448.45 523.55L448.9 523.55L448.9 523.55L449.27 523.55L449.27 523.55L449.6 523.55L449.6 525L450.8 525L450.8 525L450.9 525L450.9 526.25L452.2 526.25L452.2 527.5L452.33 527.5L452.33 527.5L453.5 527.5L453.5 528.75L453.87 528.75L453.87 528.75L454.8 528.75L454.8 530L455.4 530L455.4 530L456.1 530L456.1 531.25L456.93 531.25L456.93 531.25L457.4 531.25L457.4 532.5L458.47 532.5L458.47 532.5L458.7 532.5L458.7 533.75L458.8 533.75L458.8 533.75L459.5 533.75L459.5 533.75L460 533.75L460 535L461 535L461 535L463.33 535L463.33 536.33L463.45 536.33L463.45 536.33L466.6 536.33L466.6 536.33L466.67 536.33L466.67 537.67L466.9 537.67L466.9 537.67L467.7 537.67L467.7 537.67L470 537.67L470 539L471.13 539L471.13 539L475.37 539L475.37 539L478.25 539L478.25 540L479.6 540L479.6 540L479.9 540L479.9 540L481 540L481 540L486.5 540L486.5 541L488.85 541L488.85 542.2L491.2 542.2L491.2 543.4L493.1 543.4L493.1 543.4L494.05 543.4L494.05 544.2L495 544.2L495 544.2L496.5 544.2L496.5 544.2L496.9 544.2L496.9 545L497.6 545L497.6 545L500 545L500 545L501.55 545L501.55 546.15L503.1 546.15L503.1 546.15L505.4 546.15L505.4 546.15L506.2 546.15L506.2 547.3L506.5 547.3L506.5 547.3L507.73 547.3L507.73 548.47L509.27 548.47L509.27 549.63L510.8 549.63L510.8 550.8L510.8 591.2L510.8 590L509.27 590L509.27 590L507.73 590L507.73 590L506.5 590L506.5 590L506.2 590L506.2 588.83L505.4 588.83L505.4 588.83L503.1 588.83L503.1 587.67L501.55 587.67L501.55 587.67L500 587.67L500 586.5L497.6 586.5L497.6 586.5L496.9 586.5L496.9 585.37L496.5 585.37L496.5 585.37L495 585.37L495 584.23L494.05 584.23L494.05 584.23L493.1 584.23L493.1 583.1L491.2 583.1L491.2 583.1L488.85 583.1L488.85 583.1L486.5 583.1L486.5 583.1L481 583.1L481 583.1L479.9 583.1L479.9 583.1L479.6 583.1L479.6 581.93L478.25 581.93L478.25 581.93L475.37 581.93L475.37 580.77L471.13 580.77L471.13 579.6L470 579.6L470 579.6L467.7 579.6L467.7 579.6L466.9 579.6L466.9 578.1L466.67 578.1L466.67 578.1L466.6 578.1L466.6 578.1L463.45 578.1L463.45 576.6L463.33 576.6L463.33 576.6L461 576.6L461 576.6L460 576.6L460 575.27L459.5 575.27L459.5 575.27L458.8 575.27L458.8 575.27L458.7 575.27L458.7 575.27L458.47 575.27L458.47 573.93L457.4 573.93L457.4 573.93L456.93 573.93L456.93 572.6L456.1 572.6L456.1 572.6L455.4 572.6L455.4 571.27L454.8 571.27L454.8 571.27L453.87 571.27L453.87 569.93L453.5 569.93L453.5 569.93L452.33 569.93L452.33 568.6L452.2 568.6L452.2 568.6L450.9 568.6L450.9 568.6L450.8 568.6L450.8 567.27L449.6 567.27L449.6 567.27L449.27 567.27L449.27 565.93L448.9 565.93L448.9 565.93L448.45 565.93L448.45 565.93L447.75 565.93L447.75 565.93L447.73 565.93L447.73 564.6L447.3 564.6L447.3 564.6L446.6 564.6L446.6 564.6L446.2 564.6L446.2 563.05L446.15 563.05L446.15 563.05L445 563.05L445 563.05L443.8 563.05L443.8 563.05L442.5 563.05L442.5 561.5L441.15 561.5L441.15 561.5L438.8 561.5L438.8 560.35L437.65 560.35L437.65 560.35L437.3 560.35L437.3 560.35L436.5 560.35L436.5 560.35L435.8 560.35L435.8 560.35L435 560.35L435 560.35L434.2 560.35L434.2 559.2L429.6 559.2L429.6 556.2L428.1 556.2L428.1 555.4L408.8 555.4L408.8 555.4L408.1 555.4L408.1 552.7L407.3 552.7L407.3 552.7L406.55 552.7L406.55 550L406.5 550L406.5 550L405.8 550L405.8 550L405 550L405 546.9L404.2 546.9L404.2 546.9L403.45 546.9L403.45 543.8L401.9 543.8L401.9 542.53L399.33 542.53L399.33 541.27L396.77 541.27L396.77 540L395 540L395 540L394.2 540L394.2 536.2L393.85 536.2L393.85 536.2L392.7 536.2L392.7 534.65L391.9 534.65L391.9 534.65L388.1 534.65L388.1 533.1L383.5 533.1L383.5 531.8L382.7 531.8L382.7 531.8L381.9 531.8L381.9 531.8L380.43 531.8L380.43 531.8L379.9 531.8L379.9 530.5L377.35 530.5L377.35 530.5L376.3 530.5L376.3 529.2L375.8 529.2L375.8 529.2L375 529.2L375 529.2L374.27 529.2L374.27 529.2L374.2 529.2L374.2 529.2L372.7 529.2L372.7 527.3L371.9 527.3L371.9 527.3L371.2 527.3L371.2 527.3L371.15 527.3L371.15 525.4L369.6 525.4L369.6 524.25L368.45 524.25L368.45 523.1L368.1 523.1L368.1 523.1L367.3 523.1L367.3 521.95L366.15 521.95L366.15 520.8L365.95 520.8L365.95 520.8L365 520.8L365 520L363.75 520L363.75 520L362.5 520L362.5 520L362.3 520L362.3 520L361.45 520L361.45 520L361.25 520L361.25 520L360.6 520L360.6 520L360.5 520L360.5 518.65L360 518.65L360 518.65L359.4 518.65L359.4 518.65L359.35 518.65L359.35 517.3L358.2 517.3L358.2 516.15L357.7 516.15L357.7 516.15L356.93 516.15L356.93 515L356.5 515L356.5 515L355.65 515L355.65 513.85L354.8 513.85L354.8 513.85L354.38 513.85L354.38 512.7L354.2 512.7L354.2 512.7L353.1 512.7L353.1 511.35L350.8 511.35L350.8 511.35L350.45 511.35L350.45 510L349.6 510L349.6 510L348.03 510L348.03 510L347.8 510L347.8 508.85L347.3 508.85L347.3 508.85L346.57 508.85L346.57 507.7L346.45 507.7L346.45 507.7L346.2 507.7L346.2 507.7L345.35 507.7L345.35 506.55L344.88 506.55L344.88 506.55L344.12 506.55L344.12 505.4L343.8 505.4L343.8 505.4L343.3 505.4L343.3 505.4L342.9 505.4L342.9 504.03L342.65 504.03L342.65 504.03L341.53 504.03L341.53 502.67L341.5 502.67L341.5 502.67L340.7 502.67L340.7 502.67L340.17 502.67L340.17 501.3L339.8 501.3L339.8 501.3L338.8 501.3L338.8 499.9L338.1 499.9L338.1 499.9L337.38 499.9L337.38 498.5L336.38 498.5L336.38 498.5L335.95 498.5L335.95 497.1L335.8 497.1L335.8 497.1L334.65 497.1L334.65 497.1L334.53 497.1L334.53 495.7L333.5 495.7L333.5 495.7L333.1 495.7L333.1 493.65L332.93 493.65L332.93 493.65L332.6 493.65L332.6 493.65L331.9 493.65L331.9 491.6L331.7 491.6L331.7 491.6L331.2 491.6L331.2 491.6L330.7 491.6L330.7 489.55L330 489.55L330 489.55L329.5 489.55L329.5 487.5L328.55 487.5L328.55 487.5L328.3 487.5L328.3 484.53L327.1 484.53L327.1 484.53L326.93 484.53L326.93 481.57L326.5 481.57L326.5 481.57L325.57 481.57L325.57 478.6L324.2 478.6L324.2 477.38L323.7 477.38L323.7 477.38L322.98 477.38L322.98 476.15L322.5 476.15L322.5 476.15L321.75 476.15L321.75 474.93L320.52 474.93L320.52 473.7L319.3 473.7L319.3 462L319 462L319 462L318.5 462L318.5 461.1L317.7 461.1L317.7 460.2L316.9 460.2Z"/></clipPath>
<path d="M316.9 459.6L317.7 459.6L317.7 459.6L318.5 459.6L318.5 459.6L319 459.6L319 459.6L319.3 459.6L319.3 459.6L320.52 459.6L320.52 459.6L321.75 459.6L321.75 459.6L322.5 459.6L322.5 459.6L322.98 459.6L322.98 459.6L323.7 459.6L323.7 459.6L324.2 459.6L324.2 459.6L325.57 459.6L325.57 459.6L326.5 459.6L326.5 459.6L326.93 459.6L326.93 459.6L327.1 459.6L327.1 459.6L328.3 459.6L328.3 459.6L328.55 459.6L328.55 459.6L329.5 459.6L329.5 459.6L330 459.6L330 459.6L330.7 459.6L330.7 459.6L331.2 459.6L331.2 461.9L331.7 461.9L331.7 461.9L331.9 461.9L331.9 461.9L332.6 461.9L332.6 461.9L332.93 461.9L332.93 463.35L333.1 463.35L333.1 463.35L333.5 463.35L333.5 463.35L334.53 463.35L334.53 463.35L334.65 463.35L334.65 464.8L335.8 464.8L335.8 464.8L335.95 464.8L335.95 464.8L336.38 464.8L336.38 466.25L337.38 466.25L337.38 466.25L338.1 466.25L338.1 467.7L338.8 467.7L338.8 467.7L339.8 467.7L339.8 467.7L340.17 467.7L340.17 467.7L340.7 467.7L340.7 469.15L341.5 469.15L341.5 469.15L341.53 469.15L341.53 469.15L342.65 469.15L342.65 469.15L342.9 469.15L342.9 469.15L343.3 469.15L343.3 470.6L343.8 470.6L343.8 470.6L344.12 470.6L344.12 470.6L344.88 470.6L344.88 471.75L345.35 471.75L345.35 471.75L346.2 471.75L346.2 471.75L346.45 471.75L346.45 472.9L346.57 472.9L346.57 472.9L347.3 472.9L347.3 472.9L347.8 472.9L347.8 472.9L348.03 472.9L348.03 474.05L349.6 474.05L349.6 475.2L350.45 475.2L350.45 475.2L350.8 475.2L350.8 475.2L353.1 475.2L353.1 475.2L354.2 475.2L354.2 475.2L354.38 475.2L354.38 475.2L354.8 475.2L354.8 476.6L355.65 476.6L355.65 476.6L356.5 476.6L356.5 476.6L356.93 476.6L356.93 476.6L357.7 476.6L357.7 476.6L358.2 476.6L358.2 476.6L359.35 476.6L359.35 476.6L359.4 476.6L359.4 476.6L360 476.6L360 478L360.5 478L360.5 478L360.6 478L360.6 478L361.25 478L361.25 479.27L361.45 479.27L361.45 479.27L362.3 479.27L362.3 479.27L362.5 479.27L362.5 480.55L363.75 480.55L363.75 481.83L365 481.83L365 483.1L365.95 483.1L365.95 483.1L366.15 483.1L366.15 483.1L367.3 483.1L367.3 483.1L368.1 483.1L368.1 484.25L368.45 484.25L368.45 484.25L369.6 484.25L369.6 484.25L371.15 484.25L371.15 484.25L371.2 484.25L371.2 485.4L371.9 485.4L371.9 485.4L372.7 485.4L372.7 485.4L374.2 485.4L374.2 485.4L374.27 485.4L374.27 486.55L375 486.55L375 486.55L375.8 486.55L375.8 486.55L376.3 486.55L376.3 486.55L377.35 486.55L377.35 487.7L379.9 487.7L379.9 487.7L380.43 487.7L380.43 488.85L381.9 488.85L381.9 488.85L382.7 488.85L382.7 488.85L383.5 488.85L383.5 490L388.1 490L388.1 491.55L391.9 491.55L391.9 491.55L392.7 491.55L392.7 493.1L393.85 493.1L393.85 493.1L394.2 493.1L394.2 496.9L395 496.9L395 496.9L396.77 496.9L396.77 496.9L399.33 496.9L399.33 496.9L401.9 496.9L401.9 496.9L403.45 496.9L403.45 496.9L404.2 496.9L404.2 496.9L405 496.9L405 497.7L405.8 497.7L405.8 497.7L406.5 497.7L406.5 502.3L406.55 502.3L406.55 502.3L407.3 502.3L407.3 506.9L408.1 506.9L408.1 511.5L408.8 511.5L408.8 511.5L428.1 511.5L428.1 511.5L429.6 511.5L429.6 511.5L434.2 511.5L434.2 511.5L435 511.5L435 511.5L435.8 511.5L435.8 512.3L436.5 512.3L436.5 512.3L437.3 512.3L437.3 516.2L437.65 516.2L437.65 516.2L438.8 516.2L438.8 516.2L441.15 516.2L441.15 517.7L442.5 517.7L442.5 517.7L443.8 517.7L443.8 517.7L445 517.7L445 519.2L446.15 519.2L446.15 520.65L446.2 520.65L446.2 520.65L446.6 520.65L446.6 520.65L447.3 520.65L447.3 522.1L447.73 522.1L447.73 522.1L447.75 522.1L447.75 522.1L448.45 522.1L448.45 523.55L448.9 523.55L448.9 523.55L449.27 523.55L449.27 523.55L449.6 523.55L449.6 525L450.8 525L450.8 525L450.9 525L450.9 526.25L452.2 526.25L452.2 527.5L452.33 527.5L452.33 527.5L453.5 527.5L453.5 528.75L453.87 528.75L453.87 528.75L454.8 528.75L454.8 530L455.4 530L455.4 530L456.1 530L456.1 531.25L456.93 531.25L456.93 531.25L457.4 531.25L457.4 532.5L458.47 532.5L458.47 532.5L458.7 532.5L458.7 533.75L458.8 533.75L458.8 533.75L459.5 533.75L459.5 533.75L460 533.75L460 535L461 535L461 535L463.33 535L463.33 536.33L463.45 536.33L463.45 536.33L466.6 536.33L466.6 536.33L466.67 536.33L466.67 537.67L466.9 537.67L466.9 537.67L467.7 537.67L467.7 537.67L470 537.67L470 539L471.13 539L471.13 539L475.37 539L475.37 539L478.25 539L478.25 540L479.6 540L479.6 540L479.9 540L479.9 540L481 540L481 540L486.5 540L486.5 541L488.85 541L488.85 542.2L491.2 542.2L491.2 543.4L493.1 543.4L493.1 543.4L494.05 543.4L494.05 544.2L495 544.2L495 544.2L496.5 544.2L496.5 544.2L496.9 544.2L496.9 545L497.6 545L497.6 545L500 545L500 545L501.55 545L501.55 546.15L503.1 546.15L503.1 546.15L505.4 546.15L505.4 546.15L506.2 546.15L506.2 547.3L506.5 547.3L506.5 547.3L507.73 547.3L507.73 548.47L509.27 548.47L509.27 549.63L510.8 549.63L510.8 550.8L510.8 591.2L510.8 590L509.27 590L509.27 590L507.73 590L507.73 590L506.5 590L506.5 590L506.2 590L506.2 588.83L505.4 588.83L505.4 588.83L503.1 588.83L503.1 587.67L501.55 587.67L501.55 587.67L500 587.67L500 586.5L497.6 586.5L497.6 586.5L496.9 586.5L496.9 585.37L496.5 585.37L496.5 585.37L495 585.37L495 584.23L494.05 584.23L494.05 584.23L493.1 584.23L493.1 583.1L491.2 583.1L491.2 583.1L488.85 583.1L488.85 583.1L486.5 583.1L486.5 583.1L481 583.1L481 583.1L479.9 583.1L479.9 583.1L479.6 583.1L479.6 581.93L478.25 581.93L478.25 581.93L475.37 581.93L475.37 580.77L471.13 580.77L471.13 579.6L470 579.6L470 579.6L467.7 579.6L467.7 579.6L466.9 579.6L466.9 578.1L466.67 578.1L466.67 578.1L466.6 578.1L466.6 578.1L463.45 578.1L463.45 576.6L463.33 576.6L463.33 576.6L461 576.6L461 576.6L460 576.6L460 575.27L459.5 575.27L459.5 575.27L458.8 575.27L458.8 575.27L458.7 575.27L458.7 575.27L458.47 575.27L458.47 573.93L457.4 573.93L457.4 573.93L456.93 573.93L456.93 572.6L456.1 572.6L456.1 572.6L455.4 572.6L455.4 571.27L454.8 571.27L454.8 571.27L453.87 571.27L453.87 569.93L453.5 569.93L453.5 569.93L452.33 569.93L452.33 568.6L452.2 568.6L452.2 568.6L450.9 568.6L450.9 568.6L450.8 568.6L450.8 567.27L449.6 567.27L449.6 567.27L449.27 567.27L449.27 565.93L448.9 565.93L448.9 565.93L448.45 565.93L448.45 565.93L447.75 565.93L447.75 565.93L447.73 565.93L447.73 564.6L447.3 564.6L447.3 564.6L446.6 564.6L446.6 564.6L446.2 564.6L446.2 563.05L446.15 563.05L446.15 563.05L445 563.05L445 563.05L443.8 563.05L443.8 563.05L442.5 563.05L442.5 561.5L441.15 561.5L441.15 561.5L438.8 561.5L438.8 560.35L437.65 560.35L437.65 560.35L437.3 560.35L437.3 560.35L436.5 560.35L436.5 560.35L435.8 560.35L435.8 560.35L435 560.35L435 560.35L434.2 560.35L434.2 559.2L429.6 559.2L429.6 556.2L428.1 556.2L428.1 555.4L408.8 555.4L408.8 555.4L408.1 555.4L408.1 552.7L407.3 552.7L407.3 552.7L406.55 552.7L406.55 550L406.5 550L406.5 550L405.8 550L405.8 550L405 550L405 546.9L404.2 546.9L404.2 546.9L403.45 546.9L403.45 543.8L401.9 543.8L401.9 542.53L399.33 542.53L399.33 541.27L396.77 541.27L396.77 540L395 540L395 540L394.2 540L394.2 536.2L393.85 536.2L393.85 536.2L392.7 536.2L392.7 534.65L391.9 534.65L391.9 534.65L388.1 534.65L388.1 533.1L383.5 533.1L383.5 531.8L382.7 531.8L382.7 531.8L381.9 531.8L381.9 531.8L380.43 531.8L380.43 531.8L379.9 531.8L379.9 530.5L377.35 530.5L377.35 530.5L376.3 530.5L376.3 529.2L375.8 529.2L375.8 529.2L375 529.2L375 529.2L374.27 529.2L374.27 529.2L374.2 529.2L374.2 529.2L372.7 529.2L372.7 527.3L371.9 527.3L371.9 527.3L371.2 527.3L371.2 527.3L371.15 527.3L371.15 525.4L369.6 525.4L369.6 524.25L368.45 524.25L368.45 523.1L368.1 523.1L368.1 523.1L367.3 523.1L367.3 521.95L366.15 521.95L366.15 520.8L365.95 520.8L365.95 520.8L365 520.8L365 520L363.75 520L363.75 520L362.5 520L362.5 520L362.3 520L362.3 520L361.45 520L361.45 520L361.25 520L361.25 520L360.6 520L360.6 520L360.5 520L360.5 518.65L360 518.65L360 518.65L359.4 518.65L359.4 518.65L359.35 518.65L359.35 517.3L358.2 517.3L358.2 516.15L357.7 516.15L357.7 516.15L356.93 516.15L356.93 515L356.5 515L356.5 515L355.65 515L355.65 513.85L354.8 513.85L354.8 513.85L354.38 513.85L354.38 512.7L354.2 512.7L354.2 512.7L353.1 512.7L353.1 511.35L350.8 511.35L350.8 511.35L350.45 511.35L350.45 510L349.6 510L349.6 510L348.03 510L348.03 510L347.8 510L347.8 508.85L347.3 508.85L347.3 508.85L346.57 508.85L346.57 507.7L346.45 507.7L346.45 507.7L346.2 507.7L346.2 507.7L345.35 507.7L345.35 506.55L344.88 506.55L344.88 506.55L344.12 506.55L344.12 505.4L343.8 505.4L343.8 505.4L343.3 505.4L343.3 505.4L342.9 505.4L342.9 504.03L342.65 504.03L342.65 504.03L341.53 504.03L341.53 502.67L341.5 502.67L341.5 502.67L340.7 502.67L340.7 502.67L340.17 502.67L340.17 501.3L339.8 501.3L339.8 501.3L338.8 501.3L338.8 499.9L338.1 499.9L338.1 499.9L337.38 499.9L337.38 498.5L336.38 498.5L336.38 498.5L335.95 498.5L335.95 497.1L335.8 497.1L335.8 497.1L334.65 497.1L334.65 497.1L334.53 497.1L334.53 495.7L333.5 495.7L333.5 495.7L333.1 495.7L333.1 493.65L332.93 493.65L332.93 493.65L332.6 493.65L332.6 493.65L331.9 493.65L331.9 491.6L331.7 491.6L331.7 491.6L331.2 491.6L331.2 491.6L330.7 491.6L330.7 489.55L330 489.55L330 489.55L329.5 489.55L329.5 487.5L328.55 487.5L328.55 487.5L328.3 487.5L328.3 484.53L327.1 484.53L327.1 484.53L326.93 484.53L326.93 481.57L326.5 481.57L326.5 481.57L325.57 481.57L325.57 478.6L324.2 478.6L324.2 477.38L323.7 477.38L323.7 477.38L322.98 477.38L322.98 476.15L322.5 476.15L322.5 476.15L321.75 476.15L321.75 474.93L320.52 474.93L320.52 473.7L319.3 473.7L319.3 462L319 462L319 462L318.5 462L318.5 461.1L317.7 461.1L317.7 460.2L316.9 460.2Z" fill="#f6d7dc" stroke="none"/>
<path d="M316.9 459.6L330 459.6L330 459.6L330.6 459.6L330.6 459.6L331.2 459.6L331.2 459.6L332.45 459.6L332.45 459.6L333.7 459.6L333.7 459.6L334.95 459.6L334.95 459.6L336.2 459.6L336.2 459.6L337.45 459.6L337.45 459.6L338.1 459.6L338.1 459.6L338.7 459.6L338.7 459.6L339.83 459.6L339.83 459.6L340.97 459.6L340.97 459.6L342.1 459.6L342.1 459.6L342.7 459.6L342.7 459.6L343.55 459.6L343.55 459.6L345 459.6L345 459.6L345.6 459.6L345.6 459.6L346.15 459.6L346.15 459.6L346.2 459.6L346.2 459.6L346.7 459.6L346.7 459.6L346.93 459.6L346.93 460.97L347.3 460.97L347.3 460.97L348.27 460.97L348.27 462.33L348.45 462.33L348.45 462.33L349 462.33L349 462.33L349.6 462.33L349.6 463.7L350.87 463.7L350.87 463.7L352.14 463.7L352.14 463.7L353.41 463.7L353.41 463.7L354.68 463.7L354.68 463.7L355.95 463.7L355.95 463.7L357.22 463.7L357.22 463.7L358.49 463.7L358.49 463.7L359.76 463.7L359.76 463.7L360 463.7L360 464.2L360.6 464.2L360.6 471.2L361.03 471.2L361.03 471.2L361.2 471.2L361.2 471.2L362.3 471.2L362.3 471.2L363.15 471.2L363.15 471.2L364 471.2L364 471.2L365 471.2L365 471.2L366.15 471.2L366.15 471.2L367.3 471.2L367.3 471.2L368.45 471.2L368.45 471.2L368.7 471.2L368.7 471.7L369.2 471.7L369.2 476.9L369.6 476.9L369.6 476.9L370.2 476.9L370.2 478.45L370.4 478.45L370.4 478.45L371.15 478.45L371.15 478.45L371.2 478.45L371.2 480L372.7 480L372.7 480L378.1 480L378.1 480L383.5 480L383.5 480L392.7 480L392.7 480L393.5 480L393.5 480.8L394.2 480.8L394.2 490L398.05 490L398.05 490L401.2 490L401.2 490L401.9 490L401.9 490.8L403.45 490.8L403.45 494.65L405 494.65L405 498.5L405.8 498.5L405.8 498.5L406.5 498.5L406.5 498.5L406.55 498.5L406.55 499.65L408.1 499.65L408.1 500.8L417.3 500.8L417.3 500.8L427.3 500.8L427.3 500.8L428.1 500.8L428.1 500.8L428.8 500.8L428.8 506.2L429.6 506.2L429.6 506.2L445 506.2L445 506.2L446.15 506.2L446.15 506.2L446.3 506.2L446.3 506.2L447.3 506.2L447.3 506.2L447.6 506.2L447.6 506.2L448.45 506.2L448.45 506.2L448.5 506.2L448.5 506.9L448.9 506.9L448.9 506.9L449.6 506.9L449.6 511.5L460 511.5L460 511.5L486.5 511.5L486.5 512L487 512L487 480.4L491.2 480.4L491.2 480.4L491.2 605L491.2 605L487 605L487 576.2L486.5 576.2L486.5 576.2L460 576.2L460 575L449.6 575L449.6 572.8L448.9 572.8L448.9 572.8L448.5 572.8L448.5 572.8L448.45 572.8L448.45 570.6L447.6 570.6L447.6 570.6L447.3 570.6L447.3 568.4L446.3 568.4L446.3 568.4L446.15 568.4L446.15 566.2L445 566.2L445 565.4L429.6 565.4L429.6 560.8L428.8 560.8L428.8 560.8L428.1 560.8L428.1 560L427.3 560L427.3 560L417.3 560L417.3 559.2L408.1 559.2L408.1 559.2L406.55 559.2L406.55 559.2L406.5 559.2L406.5 553.8L405.8 553.8L405.8 553.8L405 553.8L405 551.9L403.45 551.9L403.45 550L401.9 550L401.9 548.45L401.2 548.45L401.2 548.45L398.05 548.45L398.05 546.9L394.2 546.9L394.2 537.7L393.5 537.7L393.5 537.7L392.7 537.7L392.7 536.2L383.5 536.2L383.5 534.65L378.1 534.65L378.1 533.1L372.7 533.1L372.7 531.55L371.2 531.55L371.2 531.55L371.15 531.55L371.15 530L370.4 530L370.4 530L370.2 530L370.2 530L369.6 530L369.6 528.45L369.2 528.45L369.2 528.45L368.7 528.45L368.7 528.45L368.45 528.45L368.45 526.9L367.3 526.9L367.3 525.35L366.15 525.35L366.15 523.8L365 523.8L365 518L364 518L364 514.2L363.15 514.2L363.15 510.4L362.3 510.4L362.3 509.13L361.2 509.13L361.2 509.13L361.03 509.13L361.03 507.86L360.6 507.86L360.6 507.86L360 507.86L360 507.86L359.76 507.86L359.76 506.59L358.49 506.59L358.49 505.32L357.22 505.32L357.22 504.05L355.95 504.05L355.95 502.78L354.68 502.78L354.68 501.51L353.41 501.51L353.41 500.24L352.14 500.24L352.14 498.97L350.87 498.97L350.87 497.7L349.6 497.7L349.6 495.68L349 495.68L349 495.68L348.45 495.68L348.45 493.65L348.27 493.65L348.27 493.65L347.3 493.65L347.3 491.62L346.93 491.62L346.93 491.62L346.7 491.62L346.7 491.62L346.2 491.62L346.2 491.62L346.15 491.62L346.15 489.6L345.6 489.6L345.6 489.6L345 489.6L345 487.6L343.55 487.6L343.55 485.6L342.7 485.6L342.7 485.6L342.1 485.6L342.1 483.87L340.97 483.87L340.97 482.13L339.83 482.13L339.83 480.4L338.7 480.4L338.7 478.87L338.1 478.87L338.1 478.87L337.45 478.87L337.45 477.33L336.2 477.33L336.2 475.8L334.95 475.8L334.95 474.27L333.7 474.27L333.7 472.73L332.45 472.73L332.45 471.2L331.2 471.2L331.2 468.29L330.6 468.29L330.6 462.32L330 462.32L330 459.6L316.9 459.6Z" fill="#d5e1ea" stroke="none"/>
<path d="M316.9 459.6L330 459.6L330 459.6L330.6 459.6L330.6 459.6L331.2 459.6L331.2 459.6L332.45 459.6L332.45 459.6L333.7 459.6L333.7 459.6L334.95 459.6L334.95 459.6L336.2 459.6L336.2 459.6L337.45 459.6L337.45 459.6L338.1 459.6L338.1 459.6L338.7 459.6L338.7 459.6L339.83 459.6L339.83 459.6L340.97 459.6L340.97 459.6L342.1 459.6L342.1 459.6L342.7 459.6L342.7 459.6L343.55 459.6L343.55 459.6L345 459.6L345 459.6L345.6 459.6L345.6 459.6L346.15 459.6L346.15 459.6L346.2 459.6L346.2 459.6L346.7 459.6L346.7 459.6L346.93 459.6L346.93 460.97L347.3 460.97L347.3 460.97L348.27 460.97L348.27 462.33L348.45 462.33L348.45 462.33L349 462.33L349 462.33L349.6 462.33L349.6 463.7L350.87 463.7L350.87 463.7L352.14 463.7L352.14 463.7L353.41 463.7L353.41 463.7L354.68 463.7L354.68 463.7L355.95 463.7L355.95 463.7L357.22 463.7L357.22 463.7L358.49 463.7L358.49 463.7L359.76 463.7L359.76 463.7L360 463.7L360 464.2L360.6 464.2L360.6 471.2L361.03 471.2L361.03 471.2L361.2 471.2L361.2 471.2L362.3 471.2L362.3 471.2L363.15 471.2L363.15 471.2L364 471.2L364 471.2L365 471.2L365 471.2L366.15 471.2L366.15 471.2L367.3 471.2L367.3 471.2L368.45 471.2L368.45 471.2L368.7 471.2L368.7 471.7L369.2 471.7L369.2 476.9L369.6 476.9L369.6 476.9L370.2 476.9L370.2 478.45L370.4 478.45L370.4 478.45L371.15 478.45L371.15 478.45L371.2 478.45L371.2 480L372.7 480L372.7 480L378.1 480L378.1 480L383.5 480L383.5 480L392.7 480L392.7 480L393.5 480L393.5 480.8L394.2 480.8L394.2 490L398.05 490L398.05 490L401.2 490L401.2 490L401.9 490L401.9 490.8L403.45 490.8L403.45 494.65L405 494.65L405 498.5L405.8 498.5L405.8 498.5L406.5 498.5L406.5 498.5L406.55 498.5L406.55 499.65L408.1 499.65L408.1 500.8L417.3 500.8L417.3 500.8L427.3 500.8L427.3 500.8L428.1 500.8L428.1 500.8L428.8 500.8L428.8 506.2L429.6 506.2L429.6 506.2L445 506.2L445 506.2L446.15 506.2L446.15 506.2L446.3 506.2L446.3 506.2L447.3 506.2L447.3 506.2L447.6 506.2L447.6 506.2L448.45 506.2L448.45 506.2L448.5 506.2L448.5 506.9L448.9 506.9L448.9 506.9L449.6 506.9L449.6 511.5L460 511.5L460 511.5L486.5 511.5L486.5 512L487 512L487 480.4L491.2 480.4L491.2 480.4L491.2 605L491.2 605L487 605L487 576.2L486.5 576.2L486.5 576.2L460 576.2L460 575L449.6 575L449.6 572.8L448.9 572.8L448.9 572.8L448.5 572.8L448.5 572.8L448.45 572.8L448.45 570.6L447.6 570.6L447.6 570.6L447.3 570.6L447.3 568.4L446.3 568.4L446.3 568.4L446.15 568.4L446.15 566.2L445 566.2L445 565.4L429.6 565.4L429.6 560.8L428.8 560.8L428.8 560.8L428.1 560.8L428.1 560L427.3 560L427.3 560L417.3 560L417.3 559.2L408.1 559.2L408.1 559.2L406.55 559.2L406.55 559.2L406.5 559.2L406.5 553.8L405.8 553.8L405.8 553.8L405 553.8L405 551.9L403.45 551.9L403.45 550L401.9 550L401.9 548.45L401.2 548.45L401.2 548.45L398.05 548.45L398.05 546.9L394.2 546.9L394.2 537.7L393.5 537.7L393.5 537.7L392.7 537.7L392.7 536.2L383.5 536.2L383.5 534.65L378.1 534.65L378.1 533.1L372.7 533.1L372.7 531.55L371.2 531.55L371.2 531.55L371.15 531.55L371.15 530L370.4 530L370.4 530L370.2 530L370.2 530L369.6 530L369.6 528.45L369.2 528.45L369.2 528.45L368.7 528.45L368.7 528.45L368.45 528.45L368.45 526.9L367.3 526.9L367.3 525.35L366.15 525.35L366.15 523.8L365 523.8L365 518L364 518L364 514.2L363.15 514.2L363.15 510.4L362.3 510.4L362.3 509.13L361.2 509.13L361.2 509.13L361.03 509.13L361.03 507.86L360.6 507.86L360.6 507.86L360 507.86L360 507.86L359.76 507.86L359.76 506.59L358.49 506.59L358.49 505.32L357.22 505.32L357.22 504.05L355.95 504.05L355.95 502.78L354.68 502.78L354.68 501.51L353.41 501.51L353.41 500.24L352.14 500.24L352.14 498.97L350.87 498.97L350.87 497.7L349.6 497.7L349.6 495.68L349 495.68L349 495.68L348.45 495.68L348.45 493.65L348.27 493.65L348.27 493.65L347.3 493.65L347.3 491.62L346.93 491.62L346.93 491.62L346.7 491.62L346.7 491.62L346.2 491.62L346.2 491.62L346.15 491.62L346.15 489.6L345.6 489.6L345.6 489.6L345 489.6L345 487.6L343.55 487.6L343.55 485.6L342.7 485.6L342.7 485.6L342.1 485.6L342.1 483.87L340.97 483.87L340.97 482.13L339.83 482.13L339.83 480.4L338.7 480.4L338.7 478.87L338.1 478.87L338.1 478.87L337.45 478.87L337.45 477.33L336.2 477.33L336.2 475.8L334.95 475.8L334.95 474.27L333.7 474.27L333.7 472.73L332.45 472.73L332.45 471.2L331.2 471.2L331.2 468.29L330.6 468.29L330.6 462.32L330 462.32L330 459.6L316.9 459.6Z" fill="#cbbec9" stroke="none" clip-path="url(#clipF)"/>
<path d="M316.9 459.6H318.5V460.2H319V465.4H322.5V466H323.7V468.3H326.5V468.8H327.1V472.3H328.55V473.45H330V474.6H331.7V475.8H332.6V478.4H333.5V481H335.8V482.1H338.1V483.3H339.8V484.75H341.5V486.2H342.65V487.35H343.8V488.5H346.2V489.6H347.3V491.3H349.6V491.9H350.8V494.2H354.2V494.8H356.5V495.4H357.7V497.7H359.4V498.8H360.6V501.2H361.45V502.9H362.3V504.6H365.95V505.4H369.6V506.2H371.9V507.35H374.2V508.5H375V509.65H375.8V510.8H381.9V511.5H382.7V513.8H391.9V514.6H392.7V517.7H393.85V519.25H395V520.8H404.2V521.1H405V522.45H405.8V523.8H407.3V527.7H408.8V536.2H435V536.9H436.5V539.2H437.65V540.75H438.8V542.3H443.8V543.4H445V545.95H446.2V548.5H446.6V552H447.75V553.1H448.9V554.2H458.8V554.6H459.5V558.6H461V560.8H466.6V562H467.7V565.3H479.9V566.4H481V568.6H496.5V569H497.6V573H505.4V573.5H506.5V576.4H510.8V576.6" fill="none" stroke="#cc2c40" stroke-width="1.5"/>
<path d="M316.9 459.6H330H330.6V465.4H338.1V465.6H338.7V471.2H342.1V471.7H342.7V476.3H346.2V476.9H346.7V482.7H349V483.3H349.6V489H360V489.3H361.2V500.6H369.2V500.9H370.4V510.8H372.7V511.5H392.7V511.8H394.2V523.1H401.2V523.8H401.9V529.2H405V530H405.8V535.4H427.3V535.8H428.1V541.5H445V542H446.3V545.3H447.6V548.6H448.9V551.9H486.5H487V581.9H491.2V582.4V611.2" fill="none" stroke="#266a9e" stroke-width="1.5"/>
<line x1="438.1" x2="438.1" y1="540.4" y2="545.6" stroke="#cc2c40" stroke-width="1.3"/>
<line x1="481" x2="481" y1="565.2" y2="570.4" stroke="#cc2c40" stroke-width="1.3"/>
<line x1="445" x2="445" y1="539.4" y2="544.6" stroke="#266a9e" stroke-width="1.3"/>
<line x1="446.6" x2="446.6" y1="539.4" y2="544.6" stroke="#266a9e" stroke-width="1.3"/>
<line x1="462.3" x2="462.3" y1="549.3" y2="554.5" stroke="#266a9e" stroke-width="1.3"/>
<line x1="464.2" x2="464.2" y1="549.3" y2="554.5" stroke="#266a9e" stroke-width="1.3"/>
<line x1="481.9" x2="481.9" y1="549.3" y2="554.5" stroke="#266a9e" stroke-width="1.3"/>
</g>
<g transform="translate(266.8 442.3)">
<path d="M41.2 13.2V177.6H246.8" fill="none" stroke="#262626" stroke-width="1.3"/>
<rect x="45.8" y="159.2" width="6.6" height="6.6" fill="#cc2c40" fill-opacity="0.3"/>
<line x1="45.8" x2="52.4" y1="162.5" y2="162.5" stroke="#cc2c40" stroke-width="1.2"/>
<line x1="49.1" x2="49.1" y1="160.5" y2="164.5" stroke="#cc2c40" stroke-width="0.9"/>
<rect x="45.8" y="166.5" width="6.6" height="6.6" fill="#266a9e" fill-opacity="0.2"/>
<line x1="45.8" x2="52.4" y1="169.8" y2="169.8" stroke="#266a9e" stroke-width="1.2"/>
<line x1="49.1" x2="49.1" y1="167.8" y2="171.8" stroke="#266a9e" stroke-width="0.9"/>
<text x="55" y="165.1" font-size="6.8" fill="#222">ERA1</text>
<text x="55" y="172.5" font-size="6.8" fill="#222">ERA2</text>
<text x="142.6" y="199.4" font-size="8.4" fill="#1a1a1a" stroke="#1a1a1a" stroke-width="0.1" text-anchor="middle" textLength="79" lengthAdjust="spacingAndGlyphs">Time after diagnosis (years)</text>
<text transform="translate(10.6 91.7) rotate(-90)" x="0" y="0" font-size="8.4" fill="#1a1a1a" stroke="#1a1a1a" stroke-width="0.1" text-anchor="middle" textLength="56" lengthAdjust="spacingAndGlyphs">Overall survival (%)</text>
<text x="41.9" y="207.5" font-size="7.2" fill="#333" textLength="47" lengthAdjust="spacingAndGlyphs">Number at risk</text>
<text x="21.25" y="216.9" font-size="7" fill="#cc2c40">ERA1</text>
<text x="21.25" y="226.4" font-size="7" fill="#266a9e">ERA2</text>
<text x="50.25" y="216.9" font-size="7" fill="#cc2c40" text-anchor="middle">48</text>
<text x="50.25" y="226.4" font-size="7" fill="#266a9e" text-anchor="middle">26</text>
<text x="87.15" y="216.9" font-size="7" fill="#cc2c40" text-anchor="middle">36</text>
<text x="87.15" y="226.4" font-size="7" fill="#266a9e" text-anchor="middle">21</text>
<text x="124.05" y="216.9" font-size="7" fill="#cc2c40" text-anchor="middle">30</text>
<text x="124.05" y="226.4" font-size="7" fill="#266a9e" text-anchor="middle">17</text>
<text x="160.95" y="216.9" font-size="7" fill="#cc2c40" text-anchor="middle">23</text>
<text x="160.95" y="226.4" font-size="7" fill="#266a9e" text-anchor="middle">11</text>
<text x="197.85" y="216.9" font-size="7" fill="#cc2c40" text-anchor="middle">14</text>
<text x="197.85" y="226.4" font-size="7" fill="#266a9e" text-anchor="middle">5</text>
<text x="234.75" y="216.9" font-size="7" fill="#cc2c40" text-anchor="middle">10</text>
<text x="234.75" y="226.4" font-size="7" fill="#266a9e" text-anchor="middle">0</text>
</g>
<rect x="0" y="0" width="520" height="1.1" fill="#141111"/><rect x="0" y="0" width="1.1" height="677" fill="#141111"/><rect x="518.8" y="0" width="1.2" height="677" fill="#141111"/><rect x="0" y="675.7" width="520" height="1.3" fill="#141111"/>
</svg></div></body></html>
